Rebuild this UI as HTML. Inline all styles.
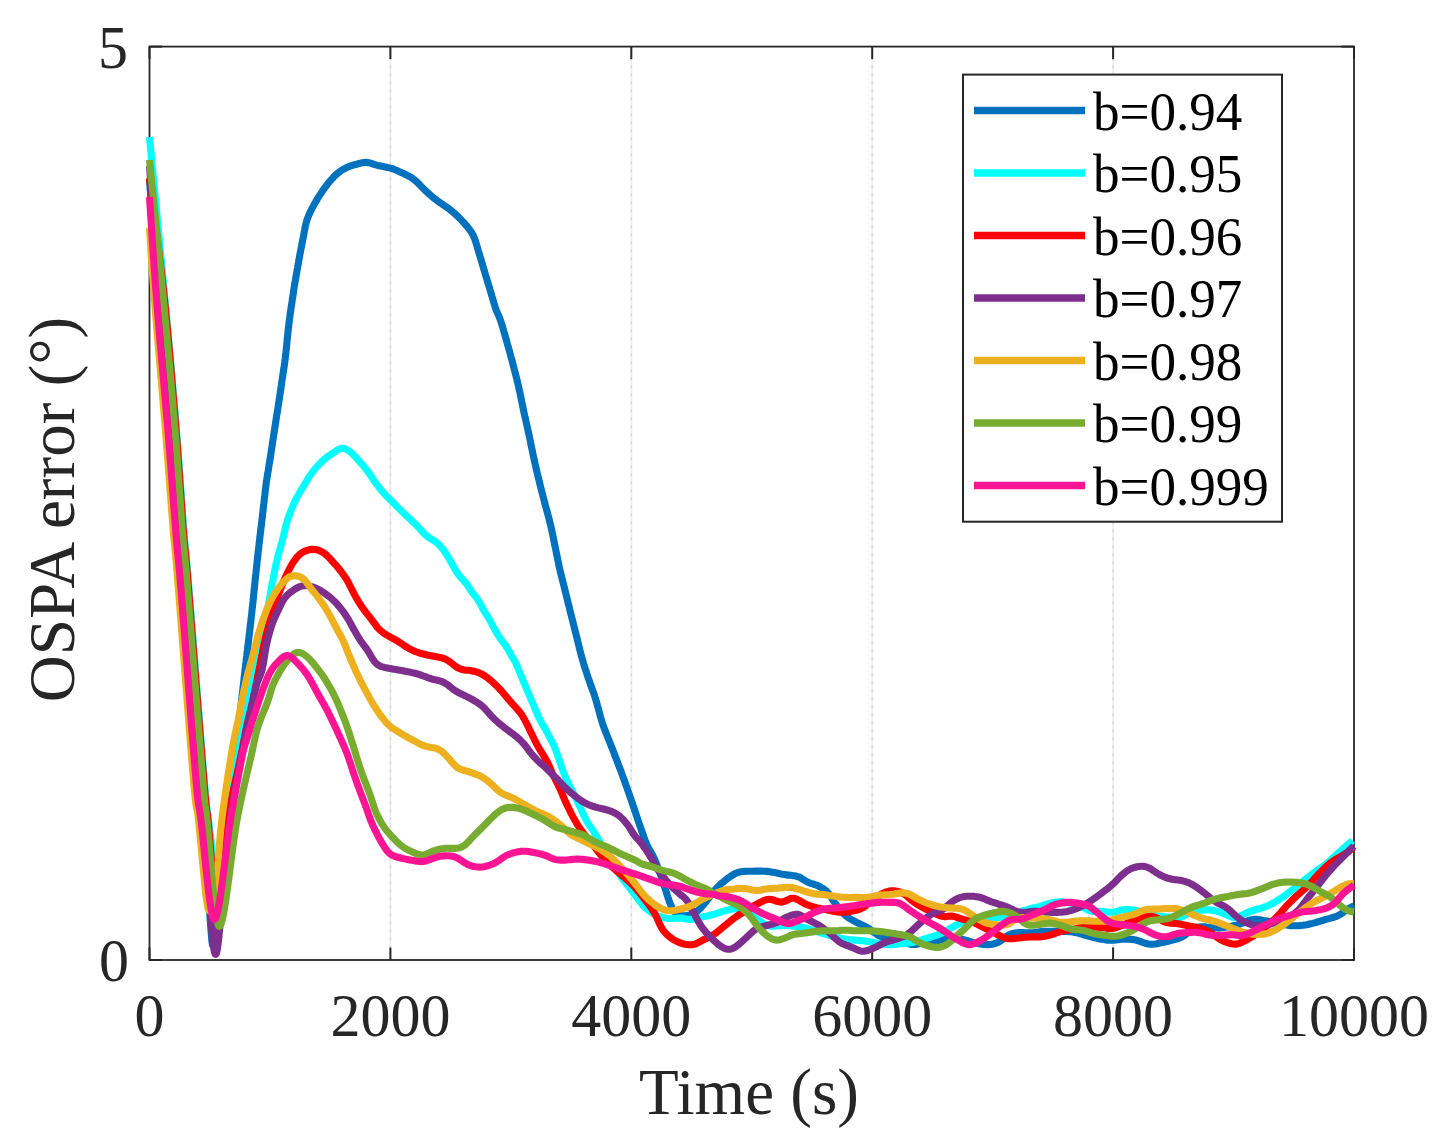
<!DOCTYPE html>
<html><head><meta charset="utf-8"><style>
html,body{margin:0;padding:0;background:#fff;}
svg{display:block;font-family:"Liberation Serif",serif;}
</style></head><body>
<svg width="1436" height="1141" viewBox="0 0 1436 1141">
<defs><clipPath id="clip"><rect x="149.5" y="46.6" width="1204.5" height="913.4"/></clipPath></defs>
<rect width="1436" height="1141" fill="#fff"/>
<line x1="390.40" y1="46.6" x2="390.40" y2="960.0" stroke="#efefef" stroke-width="2"/>
<line x1="390.40" y1="49.6" x2="390.40" y2="960.0" stroke="#d4d4d4" stroke-width="1.3" stroke-dasharray="2.4 5.6"/>
<line x1="631.30" y1="46.6" x2="631.30" y2="960.0" stroke="#efefef" stroke-width="2"/>
<line x1="631.30" y1="49.6" x2="631.30" y2="960.0" stroke="#d4d4d4" stroke-width="1.3" stroke-dasharray="2.4 5.6"/>
<line x1="872.20" y1="46.6" x2="872.20" y2="960.0" stroke="#efefef" stroke-width="2"/>
<line x1="872.20" y1="49.6" x2="872.20" y2="960.0" stroke="#d4d4d4" stroke-width="1.3" stroke-dasharray="2.4 5.6"/>
<line x1="1113.10" y1="46.6" x2="1113.10" y2="960.0" stroke="#efefef" stroke-width="2"/>
<line x1="1113.10" y1="49.6" x2="1113.10" y2="960.0" stroke="#d4d4d4" stroke-width="1.3" stroke-dasharray="2.4 5.6"/>
<rect x="149.5" y="46.6" width="1204.5" height="913.4" fill="none" stroke="#262626" stroke-width="1.8"/>
<line x1="149.50" y1="960.0" x2="149.50" y2="947.5" stroke="#262626" stroke-width="2"/>
<line x1="149.50" y1="46.6" x2="149.50" y2="59.1" stroke="#262626" stroke-width="2"/>
<line x1="390.40" y1="960.0" x2="390.40" y2="947.5" stroke="#262626" stroke-width="2"/>
<line x1="390.40" y1="46.6" x2="390.40" y2="59.1" stroke="#262626" stroke-width="2"/>
<line x1="631.30" y1="960.0" x2="631.30" y2="947.5" stroke="#262626" stroke-width="2"/>
<line x1="631.30" y1="46.6" x2="631.30" y2="59.1" stroke="#262626" stroke-width="2"/>
<line x1="872.20" y1="960.0" x2="872.20" y2="947.5" stroke="#262626" stroke-width="2"/>
<line x1="872.20" y1="46.6" x2="872.20" y2="59.1" stroke="#262626" stroke-width="2"/>
<line x1="1113.10" y1="960.0" x2="1113.10" y2="947.5" stroke="#262626" stroke-width="2"/>
<line x1="1113.10" y1="46.6" x2="1113.10" y2="59.1" stroke="#262626" stroke-width="2"/>
<line x1="1354.00" y1="960.0" x2="1354.00" y2="947.5" stroke="#262626" stroke-width="2"/>
<line x1="1354.00" y1="46.6" x2="1354.00" y2="59.1" stroke="#262626" stroke-width="2"/>
<line x1="149.5" y1="960.00" x2="162.0" y2="960.00" stroke="#262626" stroke-width="2"/>
<line x1="1354.0" y1="960.00" x2="1341.5" y2="960.00" stroke="#262626" stroke-width="2"/>
<line x1="149.5" y1="46.60" x2="162.0" y2="46.60" stroke="#262626" stroke-width="2"/>
<line x1="1354.0" y1="46.60" x2="1341.5" y2="46.60" stroke="#262626" stroke-width="2"/>
<g fill="none" stroke-width="7.1" stroke-linejoin="round" stroke-linecap="butt">
<path d="M149.50,180.00L149.58,181.00L149.65,181.99L149.73,182.99L149.80,183.99L149.87,184.99L149.95,185.98L150.02,186.98L150.10,187.98L150.17,188.97L150.25,189.97L150.32,190.97L150.39,191.97L150.47,192.96L150.54,193.96L150.61,194.96L150.69,195.96L150.76,196.95L150.83,197.95L150.91,198.95L150.98,199.95L151.06,200.94L151.13,201.94L151.20,202.94L151.28,203.93L151.35,204.93L151.42,205.93L151.50,206.93L151.57,207.92L151.64,208.92L151.72,209.92L151.79,210.92L151.86,211.91L151.94,212.91L152.01,213.91L152.09,214.90L152.16,215.90L152.23,216.90L152.31,217.90L152.38,218.89L152.45,219.89L152.53,220.89L152.60,221.89L152.68,222.88L152.75,223.88L152.82,224.88L152.90,225.87L152.97,226.87L153.05,227.87L153.12,228.87L153.19,229.86L153.27,230.86L153.34,231.86L153.42,232.86L153.49,233.85L153.57,234.85L153.64,235.85L153.71,236.84L153.79,237.84L153.86,238.84L153.94,239.84L154.01,240.83L154.09,241.83L154.16,242.83L154.24,243.82L154.31,244.82L154.39,245.82L154.46,246.82L154.54,247.81L154.61,248.81L154.69,249.81L154.76,250.80L154.84,251.80L154.91,252.80L154.99,253.80L155.07,254.79L155.14,255.79L155.22,256.79L155.29,257.78L155.37,258.78L155.44,259.78L155.52,260.78L155.60,261.77L155.67,262.77L155.75,263.77L155.83,264.76L155.90,265.76L155.98,266.76L156.05,267.76L156.13,268.75L156.21,269.75L156.29,270.75L156.36,271.74L156.44,272.74L156.52,273.74L156.59,274.73L156.67,275.73L156.75,276.73L156.83,277.73L156.90,278.72L156.98,279.72L157.06,280.72L157.14,281.71L157.22,282.71L157.30,283.71L157.37,284.70L157.45,285.70L157.53,286.70L157.61,287.69L157.69,288.69L157.77,289.69L157.85,290.69L157.93,291.68L158.01,292.68L158.09,293.68L158.17,294.67L158.25,295.67L158.33,296.67L158.41,297.66L158.49,298.66L158.57,299.66L158.65,300.65L158.73,301.65L158.82,302.65L158.90,303.64L158.98,304.64L159.06,305.64L159.15,306.63L159.23,307.63L159.31,308.63L159.40,309.62L159.48,310.62L159.56,311.62L159.65,312.61L159.73,313.61L159.81,314.60L159.90,315.60L159.98,316.60L160.07,317.59L160.15,318.59L160.24,319.59L160.32,320.58L160.41,321.58L160.49,322.58L160.58,323.57L160.67,324.57L160.75,325.56L160.84,326.56L160.92,327.56L161.01,328.55L161.10,329.55L161.18,330.55L161.27,331.54L161.36,332.54L161.44,333.53L161.53,334.53L161.62,335.53L161.70,336.52L161.79,337.52L161.88,338.52L161.97,339.51L162.05,340.51L162.14,341.50L162.23,342.50L162.32,343.50L162.40,344.49L162.49,345.49L162.58,346.49L162.67,347.48L162.75,348.48L162.84,349.47L162.93,350.47L163.02,351.47L163.11,352.46L163.19,353.46L163.28,354.45L163.37,355.45L163.46,356.45L163.55,357.44L163.64,358.44L163.73,359.43L163.81,360.43L163.90,361.43L163.99,362.42L164.08,363.42L164.17,364.41L164.26,365.41L164.35,366.41L164.43,367.40L164.52,368.40L164.61,369.40L164.70,370.39L164.79,371.39L164.88,372.38L164.97,373.38L165.05,374.38L165.14,375.37L165.23,376.37L165.32,377.36L165.41,378.36L165.50,379.36L165.59,380.35L165.67,381.35L165.76,382.34L165.85,383.34L165.94,384.34L166.03,385.33L166.12,386.33L166.21,387.32L166.29,388.32L166.38,389.32L166.47,390.31L166.56,391.31L166.65,392.30L166.73,393.30L166.82,394.30L166.91,395.29L167.00,396.29L167.09,397.29L167.17,398.28L167.26,399.28L167.35,400.27L167.44,401.27L167.52,402.27L167.61,403.26L167.70,404.26L167.78,405.25L167.87,406.25L167.96,407.25L168.05,408.24L168.13,409.24L168.22,410.24L168.30,411.23L168.39,412.23L168.48,413.22L168.56,414.22L168.65,415.22L168.73,416.21L168.82,417.21L168.90,418.21L168.99,419.20L169.08,420.20L169.16,421.20L169.24,422.19L169.33,423.19L169.41,424.19L169.50,425.18L169.58,426.18L169.66,427.17L169.75,428.17L169.83,429.17L169.91,430.16L170.00,431.16L170.08,432.16L170.16,433.15L170.24,434.15L170.32,435.15L170.41,436.14L170.49,437.14L170.57,438.14L170.65,439.13L170.73,440.13L170.81,441.13L170.89,442.12L170.97,443.12L171.05,444.12L171.13,445.11L171.21,446.11L171.29,447.11L171.37,448.11L171.45,449.10L171.53,450.10L171.61,451.10L171.69,452.09L171.77,453.09L171.84,454.09L171.92,455.08L172.00,456.08L172.08,457.08L172.16,458.07L172.24,459.07L172.31,460.07L172.39,461.07L172.47,462.06L172.55,463.06L172.62,464.06L172.70,465.05L172.78,466.05L172.85,467.05L172.93,468.04L173.01,469.04L173.08,470.04L173.16,471.04L173.24,472.03L173.31,473.03L173.39,474.03L173.47,475.02L173.54,476.02L173.62,477.02L173.69,478.01L173.77,479.01L173.85,480.01L173.92,481.01L174.00,482.00L174.07,483.00L174.15,484.00L174.22,484.99L174.30,485.99L174.38,486.99L174.45,487.99L174.53,488.98L174.60,489.98L174.68,490.98L174.75,491.97L174.83,492.97L174.90,493.97L174.98,494.97L175.06,495.96L175.13,496.96L175.21,497.96L175.28,498.95L175.36,499.95L175.43,500.95L175.51,501.95L175.59,502.94L175.66,503.94L175.74,504.94L175.81,505.93L175.89,506.93L175.97,507.93L176.04,508.93L176.12,509.92L176.19,510.92L176.27,511.92L176.35,512.91L176.43,513.91L176.50,514.91L176.58,515.91L176.66,516.90L176.73,517.90L176.81,518.90L176.89,519.89L176.97,520.89L177.05,521.89L177.13,522.88L177.21,523.88L177.29,524.88L177.37,525.87L177.45,526.87L177.53,527.87L177.61,528.86L177.69,529.86L177.77,530.86L177.85,531.85L177.94,532.85L178.02,533.85L178.10,534.84L178.19,535.84L178.27,536.84L178.36,537.83L178.45,538.83L178.54,539.82L178.63,540.82L178.73,541.82L178.82,542.81L178.92,543.81L179.02,544.80L179.13,545.80L179.24,546.79L179.35,547.78L179.45,548.78L179.56,549.77L179.66,550.77L179.76,551.76L179.86,552.76L179.95,553.75L180.05,554.75L180.14,555.74L180.23,556.74L180.32,557.74L180.41,558.73L180.50,559.73L180.59,560.72L180.67,561.72L180.76,562.72L180.85,563.71L180.93,564.71L181.02,565.71L181.10,566.70L181.19,567.70L181.27,568.70L181.35,569.69L181.44,570.69L181.52,571.68L181.60,572.68L181.68,573.68L181.77,574.67L181.85,575.67L181.93,576.67L182.01,577.66L182.09,578.66L182.17,579.66L182.25,580.65L182.33,581.65L182.41,582.65L182.49,583.65L182.57,584.64L182.65,585.64L182.73,586.64L182.81,587.63L182.89,588.63L182.97,589.63L183.05,590.62L183.13,591.62L183.21,592.62L183.29,593.61L183.36,594.61L183.44,595.61L183.52,596.60L183.60,597.60L183.68,598.60L183.75,599.60L183.83,600.59L183.91,601.59L183.99,602.59L184.07,603.58L184.14,604.58L184.22,605.58L184.30,606.57L184.38,607.57L184.45,608.57L184.53,609.57L184.61,610.56L184.69,611.56L184.76,612.56L184.84,613.55L184.92,614.55L184.99,615.55L185.07,616.54L185.15,617.54L185.23,618.54L185.30,619.54L185.38,620.53L185.46,621.53L185.53,622.53L185.61,623.52L185.69,624.52L185.76,625.52L185.84,626.51L185.92,627.51L185.99,628.51L186.07,629.51L186.15,630.50L186.22,631.50L186.30,632.50L186.38,633.49L186.45,634.49L186.53,635.49L186.61,636.49L186.68,637.48L186.76,638.48L186.84,639.48L186.92,640.47L186.99,641.47L187.07,642.47L187.15,643.46L187.22,644.46L187.30,645.46L187.38,646.46L187.45,647.45L187.53,648.45L187.61,649.45L187.68,650.44L187.76,651.44L187.84,652.44L187.91,653.44L187.99,654.43L188.07,655.43L188.14,656.43L188.22,657.42L188.30,658.42L188.37,659.42L188.45,660.41L188.53,661.41L188.60,662.41L188.68,663.41L188.76,664.40L188.83,665.40L188.91,666.40L188.99,667.39L189.06,668.39L189.14,669.39L189.22,670.39L189.29,671.38L189.37,672.38L189.45,673.38L189.52,674.37L189.60,675.37L189.68,676.37L189.75,677.36L189.83,678.36L189.91,679.36L189.99,680.36L190.06,681.35L190.14,682.35L190.22,683.35L190.29,684.34L190.37,685.34L190.45,686.34L190.52,687.33L190.60,688.33L190.68,689.33L190.76,690.33L190.83,691.32L190.91,692.32L190.99,693.32L191.07,694.31L191.14,695.31L191.22,696.31L191.30,697.30L191.38,698.30L191.45,699.30L191.53,700.30L191.61,701.29L191.69,702.29L191.76,703.29L191.84,704.28L191.92,705.28L192.00,706.28L192.07,707.27L192.15,708.27L192.23,709.27L192.31,710.27L192.38,711.26L192.46,712.26L192.54,713.26L192.62,714.25L192.70,715.25L192.78,716.25L192.85,717.24L192.93,718.24L193.01,719.24L193.09,720.23L193.17,721.23L193.25,722.23L193.32,723.23L193.40,724.22L193.48,725.22L193.56,726.22L193.64,727.21L193.72,728.21L193.80,729.21L193.88,730.20L193.95,731.20L194.03,732.20L194.11,733.19L194.19,734.19L194.27,735.19L194.35,736.19L194.43,737.18L194.51,738.18L194.59,739.18L194.67,740.17L194.75,741.17L194.83,742.17L194.91,743.16L194.99,744.16L195.07,745.16L195.15,746.15L195.23,747.15L195.31,748.15L195.39,749.14L195.47,750.14L195.55,751.14L195.64,752.13L195.72,753.13L195.80,754.13L195.88,755.12L195.96,756.12L196.04,757.12L196.13,758.11L196.21,759.11L196.29,760.11L196.37,761.10L196.46,762.10L196.54,763.10L196.62,764.09L196.71,765.09L196.79,766.09L196.87,767.08L196.96,768.08L197.04,769.07L197.13,770.07L197.21,771.07L197.30,772.06L197.39,773.06L197.47,774.06L197.56,775.05L197.65,776.05L197.73,777.04L197.82,778.04L197.91,779.04L198.00,780.03L198.09,781.03L198.19,782.02L198.28,783.02L198.37,784.02L198.47,785.01L198.57,786.01L198.67,787.00L198.77,788.00L198.87,788.99L198.97,789.99L199.08,790.98L199.19,791.97L199.30,792.97L199.42,793.96L199.53,794.95L199.66,795.95L199.78,796.94L199.92,797.93L200.05,798.92L200.20,799.91L200.36,800.90L200.53,801.88L200.72,802.86L200.93,803.84L201.18,804.81L201.49,805.76L201.87,806.69L202.24,807.61L202.53,808.57L202.76,809.54L202.94,810.53L203.09,811.52L203.23,812.51L203.35,813.50L203.46,814.49L203.57,815.49L203.67,816.48L203.77,817.48L203.86,818.47L203.95,819.47L204.04,820.46L204.12,821.46L204.21,822.46L204.29,823.45L204.36,824.45L204.44,825.45L204.51,826.45L204.59,827.44L204.66,828.44L204.73,829.44L204.80,830.43L204.87,831.43L204.94,832.43L205.01,833.43L205.08,834.43L205.14,835.42L205.21,836.42L205.27,837.42L205.34,838.42L205.40,839.41L205.47,840.41L205.53,841.41L205.59,842.41L205.65,843.41L205.72,844.40L205.78,845.40L205.84,846.40L205.90,847.40L205.96,848.40L206.02,849.40L206.08,850.39L206.14,851.39L206.20,852.39L206.26,853.39L206.32,854.39L206.38,855.38L206.44,856.38L206.49,857.38L206.55,858.38L206.61,859.38L206.67,860.38L206.73,861.37L206.78,862.37L206.84,863.37L206.90,864.37L206.95,865.37L207.01,866.37L207.07,867.37L207.13,868.36L207.18,869.36L207.24,870.36L207.30,871.36L207.35,872.36L207.41,873.36L207.47,874.35L207.52,875.35L207.58,876.35L207.63,877.35L207.69,878.35L207.75,879.35L207.80,880.34L207.86,881.34L207.92,882.34L207.97,883.34L208.03,884.34L208.09,885.34L208.14,886.33L208.20,887.33L208.26,888.33L208.31,889.33L208.37,890.33L208.43,891.33L208.48,892.32L208.54,893.32L208.60,894.32L208.66,895.32L208.71,896.32L208.77,897.32L208.83,898.31L208.89,899.31L208.95,900.31L209.01,901.31L209.06,902.31L209.12,903.31L209.18,904.30L209.24,905.30L209.30,906.30L209.36,907.30L209.43,908.30L209.49,909.30L209.55,910.29L209.61,911.29L209.68,912.29L209.74,913.29L209.81,914.29L209.87,915.28L209.94,916.28L210.00,917.28L210.07,918.28L210.14,919.27L210.22,920.27L210.29,921.27L210.36,922.27L210.44,923.26L210.52,924.26L210.60,925.26L210.68,926.25L210.76,927.25L210.84,928.25L210.92,929.24L211.00,930.24L211.08,931.24L211.16,932.23L211.24,933.23L211.33,934.23L211.41,935.22L211.49,936.22L211.58,937.22L211.66,938.21L211.75,939.21L211.85,940.20L211.95,941.20L212.06,942.19L212.18,943.19L212.32,944.18L212.51,945.16L212.93,946.02L213.43,945.22L213.71,944.26L213.94,943.28L214.14,942.30L214.30,941.32L214.45,940.33L214.59,939.34L214.71,938.35L214.83,937.35L214.94,936.36L215.05,935.36L215.16,934.37L215.26,933.38L215.36,932.38L215.45,931.39L215.55,930.39L215.64,929.39L215.73,928.40L215.83,927.40L215.92,926.41L216.00,925.41L216.09,924.41L216.18,923.42L216.26,922.42L216.35,921.43L216.43,920.43L216.52,919.43L216.60,918.44L216.69,917.44L216.77,916.44L216.85,915.45L216.94,914.45L217.02,913.45L217.10,912.46L217.19,911.46L217.27,910.46L217.35,909.47L217.43,908.47L217.52,907.47L217.60,906.48L217.68,905.48L217.77,904.48L217.85,903.49L217.93,902.49L218.02,901.50L218.10,900.50L218.19,899.50L218.27,898.51L218.36,897.51L218.44,896.51L218.53,895.52L218.62,894.52L218.71,893.52L218.79,892.53L218.88,891.53L218.97,890.54L219.07,889.54L219.16,888.55L219.25,887.55L219.35,886.55L219.44,885.56L219.54,884.56L219.64,883.57L219.74,882.57L219.84,881.58L219.94,880.58L220.04,879.59L220.15,878.59L220.25,877.60L220.36,876.61L220.47,875.61L220.58,874.62L220.68,873.62L220.79,872.63L220.90,871.64L221.01,870.64L221.12,869.65L221.23,868.65L221.34,867.66L221.45,866.67L221.56,865.67L221.68,864.68L221.79,863.68L221.90,862.69L222.01,861.70L222.13,860.70L222.24,859.71L222.35,858.72L222.47,857.72L222.58,856.73L222.70,855.74L222.81,854.74L222.93,853.75L223.04,852.76L223.16,851.76L223.27,850.77L223.39,849.78L223.50,848.78L223.62,847.79L223.73,846.80L223.85,845.80L223.97,844.81L224.08,843.82L224.20,842.82L224.31,841.83L224.43,840.84L224.55,839.84L224.66,838.85L224.78,837.86L224.90,836.86L225.01,835.87L225.13,834.88L225.25,833.88L225.36,832.89L225.48,831.90L225.59,830.90L225.71,829.91L225.83,828.92L225.94,827.92L226.06,826.93L226.17,825.94L226.29,824.95L226.41,823.95L226.52,822.96L226.64,821.97L226.75,820.97L226.87,819.98L226.98,818.98L227.09,817.99L227.21,817.00L227.32,816.00L227.43,815.01L227.55,814.02L227.66,813.02L227.77,812.03L227.88,811.04L228.00,810.04L228.11,809.05L228.22,808.05L228.33,807.06L228.44,806.07L228.54,805.07L228.65,804.08L228.76,803.08L228.87,802.09L228.98,801.10L229.08,800.10L229.19,799.11L229.30,798.11L229.40,797.12L229.51,796.12L229.61,795.13L229.72,794.14L229.82,793.14L229.93,792.15L230.03,791.15L230.14,790.16L230.24,789.16L230.34,788.17L230.45,787.17L230.55,786.18L230.66,785.18L230.76,784.19L230.86,783.20L230.97,782.20L231.07,781.21L231.18,780.21L231.28,779.22L231.38,778.22L231.49,777.23L231.59,776.23L231.70,775.24L231.80,774.24L231.91,773.25L232.01,772.26L232.12,771.26L232.23,770.27L232.33,769.27L232.44,768.28L232.55,767.28L232.66,766.29L232.77,765.30L232.88,764.30L232.99,763.31L233.10,762.31L233.21,761.32L233.33,760.33L233.44,759.33L233.56,758.34L233.67,757.35L233.79,756.35L233.91,755.36L234.03,754.37L234.15,753.38L234.28,752.38L234.41,751.39L234.53,750.40L234.67,749.41L234.80,748.42L234.94,747.43L235.08,746.44L235.22,745.45L235.37,744.46L235.51,743.47L235.67,742.48L235.82,741.49L235.98,740.51L236.14,739.52L236.30,738.53L236.46,737.55L236.62,736.56L236.79,735.57L236.96,734.59L237.12,733.60L237.29,732.61L237.45,731.63L237.61,730.64L237.77,729.65L237.93,728.67L238.09,727.68L238.25,726.69L238.40,725.70L238.55,724.71L238.69,723.72L238.84,722.73L238.98,721.74L239.11,720.75L239.25,719.76L239.38,718.77L239.51,717.78L239.64,716.79L239.77,715.80L239.89,714.81L240,713.8L240.3,711.8L240.5,709.8L240.7,707.9L241,705.9L241.2,703.9L241.4,701.9L241.7,699.9L241.9,697.9L242.1,695.9L242.4,693.9L242.6,692L242.8,690L243,688L243.2,686L243.5,684L243.7,682L243.9,680L244.1,678.1L244.4,676.1L244.6,674.1L244.8,672.1L245,670.1L245.3,668.1L245.5,666.1L245.7,664.1L246,662.2L246.2,660.2L246.4,658.2L246.7,656.2L246.9,654.2L247.1,652.2L247.4,650.2L247.6,648.3L247.9,646.3L248.1,644.3L248.3,642.3L248.6,640.3L248.8,638.3L249,636.3L249.3,634.4L249.5,632.4L249.8,630.4L250,628.4L250.2,626.4L250.5,624.4L250.7,622.4L250.9,620.4L251.1,618.5L251.4,616.5L251.6,614.5L251.8,612.5L252,610.5L252.2,608.5L252.5,606.5L252.7,604.5L252.9,602.6L253.1,600.6L253.3,598.6L253.5,596.6L253.7,594.6L253.9,592.6L254.1,590.6L254.3,588.6L254.5,586.6L254.7,584.7L254.9,582.7L255.1,580.7L255.3,578.7L255.5,576.7L255.7,574.7L256,572.7L256.2,570.7L256.4,568.7L256.6,566.7L256.8,564.8L257,562.8L257.2,560.8L257.4,558.8L257.7,556.8L257.9,554.8L258.1,552.8L258.3,550.8L258.6,548.9L258.8,546.9L259,544.9L259.2,542.9L259.5,540.9L259.7,538.9L259.9,536.9L260.2,534.9L260.4,533L260.6,531L260.9,529L261.1,527L261.4,525L261.6,523L261.8,521L262.1,519.1L262.3,517.1L262.5,515.1L262.7,513.1L263,511.1L263.2,509.1L263.4,507.1L263.6,505.1L263.9,503.2L264.1,501.2L264.3,499.2L264.5,497.2L264.8,495.2L265,493.2L265.2,491.2L265.5,489.3L265.7,487.3L266,485.3L266.2,483.3L266.5,481.3L266.8,479.3L267.1,477.4L267.4,475.4L267.7,473.4L268.1,471.4L268.4,469.5L268.7,467.5L269,465.5L269.3,463.5L269.7,461.6L270,459.6L270.3,457.6L270.6,455.6L270.9,453.7L271.2,451.7L271.5,449.7L271.8,447.7L272.1,445.8L272.4,443.8L272.7,441.8L273,439.8L273.3,437.8L273.6,435.9L273.9,433.9L274.2,431.9L274.5,429.9L274.8,428L275.1,426L275.4,424L275.7,422L276,420.1L276.3,418.1L276.6,416.1L276.9,414.1L277.3,412.2L277.6,410.2L277.9,408.2L278.2,406.2L278.5,404.2L278.8,402.3L279.1,400.3L279.4,398.3L279.7,396.3L280,394.4L280.3,392.4L280.6,390.4L280.9,388.4L281.2,386.4L281.5,384.5L281.7,382.5L282,380.5L282.3,378.5L282.6,376.6L282.9,374.6L283.2,372.6L283.5,370.6L283.8,368.6L284.1,366.7L284.4,364.7L284.7,362.7L284.9,360.7L285.2,358.7L285.4,356.8L285.7,354.8L285.9,352.8L286.1,350.8L286.3,348.8L286.5,346.8L286.7,344.8L286.9,342.8L287.1,340.8L287.3,338.9L287.5,336.9L287.7,334.9L287.9,332.9L288.1,330.9L288.3,328.9L288.6,326.9L288.8,324.9L289,322.9L289.3,321L289.5,319L289.8,317L290.1,315L290.3,313L290.6,311.1L290.9,309.1L291.2,307.1L291.5,305.1L291.8,303.1L292.1,301.2L292.3,299.2L292.7,297.2L293,295.2L293.3,293.2L293.6,291.3L293.9,289.3L294.2,287.3L294.5,285.3L294.8,283.4L295.2,281.4L295.5,279.4L295.8,277.5L296.2,275.5L296.5,273.5L296.9,271.5L297.2,269.6L297.6,267.6L297.9,265.6L298.3,263.7L298.6,261.7L299,259.7L299.3,257.8L299.7,255.8L300,253.8L300.4,251.9L300.8,249.9L301.2,247.9L301.6,246L301.9,244L302.3,242L302.7,240.1L303.1,238.1L303.5,236.2L303.9,234.2L304.2,232.2L304.6,230.3L305,228.3L305.3,226.3L305.8,224.4L306.3,222.4L306.8,220.5L307.5,218.6L308.2,216.8L308.9,214.9L309.8,213.1L310.6,211.3L311.5,209.5L312.4,207.7L313.4,206L314.3,204.2L315.3,202.5L316.3,200.7L317.4,199L318.4,197.3L319.5,195.6L320.6,193.9L321.6,192.3L322.8,190.6L323.9,189L325.1,187.4L326.3,185.8L327.5,184.2L328.8,182.6L330,181.1L331.3,179.6L332.7,178.1L334,176.6L335.5,175.2L336.9,173.9L338.5,172.6L340.1,171.4L341.7,170.3L343.4,169.3L345.2,168.3L347,167.4L348.8,166.6L350.7,165.9L352.6,165.3L354.5,164.8L356.5,164.3L358.4,163.7L360.3,163.2L362.3,162.8L364.2,162.5L366.2,162.4L368.2,162.6L370.1,163L372,163.6L373.9,164.3L375.8,164.9L377.7,165.4L379.7,165.8L381.6,166.2L383.6,166.6L385.5,167.1L387.5,167.5L389.4,167.9L391.4,168.4L393.3,169L395.1,169.7L397,170.5L398.8,171.4L400.6,172.2L402.4,173L404.2,173.8L406.1,174.7L407.9,175.6L409.6,176.5L411.3,177.5L413,178.7L414.5,179.9L416,181.2L417.5,182.6L418.9,184L420.3,185.4L421.7,186.9L423.1,188.3L424.5,189.7L425.9,191.1L427.4,192.5L428.9,193.8L430.4,195.1L431.9,196.4L433.5,197.7L435,198.9L436.6,200.1L438.2,201.4L439.8,202.5L441.5,203.7L443.1,204.8L444.8,205.9L446.4,207L448.1,208.2L449.7,209.4L451.2,210.7L452.8,211.9L454.3,213.2L455.8,214.6L457.2,215.9L458.7,217.3L460.1,218.7L461.5,220.2L462.8,221.7L464.2,223.1L465.5,224.6L466.8,226.1L468.1,227.7L469.3,229.3L470.5,230.9L471.6,232.5L472.6,234.3L473.5,236L474.3,237.9L475,239.7L475.7,241.6L476.2,243.5L476.8,245.5L477.3,247.4L477.9,249.3L478.4,251.2L479,253.1L479.6,255.1L480.2,257L480.8,258.9L481.3,260.8L481.9,262.7L482.5,264.6L483,266.5L483.6,268.5L484.2,270.4L484.8,272.3L485.3,274.2L485.9,276.1L486.5,278L487.1,280L487.6,281.9L488.2,283.8L488.8,285.7L489.4,287.6L489.9,289.5L490.5,291.5L491.1,293.4L491.6,295.3L492.2,297.2L492.8,299.1L493.3,301.1L493.9,303L494.5,304.9L495.1,306.8L495.7,308.7L496.4,310.6L497.2,312.4L498,314.2L498.8,316L499.6,317.9L500.3,319.7L500.9,321.6L501.5,323.5L502.1,325.5L502.7,327.4L503.3,329.3L503.8,331.2L504.4,333.1L504.9,335.1L505.5,337L506,338.9L506.6,340.8L507.1,342.8L507.6,344.7L508.2,346.6L508.7,348.5L509.3,350.5L509.8,352.4L510.3,354.3L510.8,356.2L511.4,358.2L511.9,360.1L512.4,362L512.9,364L513.4,365.9L513.9,367.8L514.4,369.8L514.9,371.7L515.4,373.7L515.9,375.6L516.4,377.5L516.9,379.5L517.3,381.4L517.8,383.4L518.3,385.3L518.7,387.3L519.1,389.2L519.6,391.2L520,393.1L520.4,395.1L520.8,397L521.2,399L521.6,401L522,402.9L522.4,404.9L522.8,406.8L523.2,408.8L523.6,410.8L524,412.7L524.5,414.7L524.9,416.6L525.4,418.6L525.8,420.5L526.3,422.5L526.7,424.4L527.1,426.4L527.6,428.3L528,430.3L528.4,432.2L528.8,434.2L529.3,436.1L529.7,438.1L530.1,440.1L530.5,442L530.9,444L531.3,445.9L531.7,447.9L532.1,449.8L532.5,451.8L532.9,453.8L533.3,455.7L533.7,457.7L534.2,459.6L534.6,461.6L535,463.5L535.5,465.5L535.9,467.4L536.4,469.4L536.8,471.3L537.3,473.3L537.7,475.2L538.2,477.2L538.7,479.1L539.2,481.1L539.6,483L540.1,484.9L540.6,486.9L541.1,488.8L541.6,490.8L542.1,492.7L542.6,494.6L543.1,496.6L543.6,498.5L544.1,500.4L544.6,502.4L545.1,504.3L545.6,506.2L546.2,508.2L546.7,510.1L547.2,512L547.7,513.9L548.3,515.9L548.8,517.8L549.3,519.8L549.7,521.7L550.2,523.6L550.7,525.6L551.1,527.5L551.5,529.5L552,531.4L552.4,533.4L552.8,535.4L553.2,537.3L553.6,539.3L554,541.2L554.4,543.2L554.8,545.2L555.2,547.1L555.6,549.1L556,551L556.4,553L556.8,555L557.2,556.9L557.6,558.9L558,560.8L558.4,562.8L558.8,564.8L559.2,566.7L559.6,568.7L560.1,570.6L560.5,572.6L561,574.5L561.5,576.4L562,578.4L562.5,580.3L563,582.3L563.5,584.2L564,586.1L564.5,588.1L564.9,590L565.4,591.9L565.9,593.9L566.4,595.8L566.9,597.8L567.4,599.7L567.8,601.7L568.3,603.6L568.8,605.5L569.3,607.5L569.7,609.4L570.2,611.4L570.7,613.3L571.2,615.2L571.7,617.2L572.2,619.1L572.7,621.1L573.1,623L573.6,624.9L574.1,626.9L574.6,628.8L575.1,630.8L575.6,632.7L576.1,634.6L576.6,636.6L577.1,638.5L577.5,640.5L578,642.4L578.5,644.3L579,646.3L579.4,648.2L579.9,650.2L580.4,652.1L580.9,654L581.4,656L582,657.9L582.5,659.8L583.1,661.7L583.6,663.7L584.2,665.6L584.8,667.5L585.4,669.4L586.1,671.3L586.7,673.2L587.3,675.1L587.9,677L588.6,678.9L589.2,680.8L589.9,682.7L590.5,684.6L591.2,686.4L591.9,688.3L592.6,690.2L593.3,692.1L594,694L594.6,695.8L595.2,697.7L595.8,699.7L596.4,701.6L596.9,703.5L597.4,705.4L598,707.4L598.5,709.3L599,711.2L599.5,713.2L600,715.1L600.5,717L601.1,718.9L601.7,720.9L602.3,722.8L602.9,724.7L603.6,726.5L604.3,728.4L605,730.3L605.7,732.2L606.5,734L607.2,735.9L607.9,737.7L608.7,739.6L609.4,741.4L610.2,743.3L610.9,745.2L611.6,747L612.4,748.9L613.1,750.7L613.8,752.6L614.5,754.5L615.2,756.3L616,758.2L616.7,760.1L617.4,761.9L618.1,763.8L618.8,765.7L619.5,767.5L620.3,769.4L621,771.3L621.6,773.2L622.3,775L623,776.9L623.7,778.8L624.4,780.7L625.1,782.6L625.7,784.5L626.4,786.3L627.1,788.2L627.7,790.1L628.4,792L629.1,793.9L629.7,795.8L630.4,797.7L631,799.5L631.7,801.4L632.3,803.3L633,805.2L633.6,807.1L634.3,809L634.9,810.9L635.5,812.8L636.1,814.7L636.8,816.6L637.4,818.5L638.1,820.4L638.7,822.3L639.4,824.2L640,826.1L640.7,828L641.3,829.8L642,831.7L642.7,833.6L643.3,835.5L644,837.4L644.7,839.3L645.4,841.1L646.2,843L646.9,844.8L647.8,846.6L648.7,848.4L649.7,850.1L650.7,851.9L651.7,853.6L652.7,855.3L653.6,857.1L654.4,859L655.2,860.8L656,862.6L656.7,864.5L657.4,866.4L658.2,868.2L658.9,870.1L659.6,872L660.2,873.8L660.9,875.7L661.6,877.6L662.2,879.5L662.8,881.4L663.4,883.3L664,885.2L664.6,887.1L665.3,889L665.9,890.9L666.5,892.8L667.1,894.8L667.7,896.7L668.3,898.6L669,900.5L669.7,902.3L670.4,904.2L671.2,906L672,907.8L672.9,909.6L674,911.3L675.3,912.8L676.8,914L678.5,914.9L680.4,915.4L682.4,915.7L684.4,915.7L686.3,915.5L688.3,915.2L690.2,914.7L692.1,914L693.9,913.2L695.7,912.3L697.3,911.1L698.8,909.8L700.2,908.4L701.6,907L702.9,905.5L704.2,903.9L705.5,902.4L706.7,900.8L707.9,899.2L709.1,897.6L710.3,896L711.5,894.4L712.7,892.8L713.9,891.3L715.2,889.7L716.6,888.2L717.9,886.8L719.4,885.4L720.8,884L722.3,882.7L723.9,881.4L725.4,880.2L727,878.9L728.6,877.7L730.2,876.6L731.9,875.5L733.6,874.4L735.3,873.5L737.2,872.7L739.1,872.1L741,871.7L743,871.5L745,871.4L747,871.3L749,871.2L751,871.2L753,871.2L755,871.1L757,871.1L759,871.1L761,871.1L763,871.2L765,871.2L767,871.4L769,871.6L770.9,871.9L772.9,872.2L774.9,872.6L776.8,873L778.8,873.4L780.7,873.9L782.7,874.3L784.7,874.6L786.6,874.9L788.6,875.1L790.6,875.3L792.6,875.6L794.6,875.8L796.5,876.2L798.4,876.8L800.2,877.6L801.9,878.7L803.6,879.7L805.3,880.8L807,881.8L808.8,882.6L810.7,883.3L812.6,883.9L814.5,884.5L816.4,885.2L818.2,885.9L820,886.8L821.8,887.8L823.5,888.8L825.1,890L826.6,891.3L827.9,892.7L829.2,894.3L830.3,896L831.4,897.6L832.5,899.3L833.6,901L834.7,902.6L835.9,904.2L837.1,905.8L838.3,907.4L839.5,909L840.8,910.6L842.1,912.1L843.4,913.6L844.9,914.9L846.4,916.2L848,917.4L849.7,918.5L851.4,919.5L853.1,920.5L854.9,921.4L856.7,922.4L858.4,923.3L860.2,924.1L862.1,925L863.9,925.9L865.6,926.8L867.4,927.7L869.1,928.8L870.7,929.9L872.3,931.1L873.9,932.3L875.5,933.5L877.2,934.6L878.9,935.6L880.8,936.3L882.7,936.8L884.6,937.2L886.6,937.5L888.6,937.8L890.5,938.2L892.5,938.7L894.4,939.3L896.3,939.8L898.2,940.4L900.1,941L902,941.6L903.9,942.3L905.8,942.9L907.7,943.6L909.6,944.1L911.6,944.4L913.6,944.5L915.5,944.4L917.5,944L919.4,943.5L921.4,943L923.3,942.6L925.3,942.3L927.3,942.1L929.3,941.9L931.3,941.8L933.3,941.5L935.2,941.2L937.2,940.8L939.1,940.3L941.1,939.9L943,939.4L945,939L946.9,938.6L948.9,938.3L950.9,938.2L952.9,938.2L954.9,938.3L956.9,938.4L958.9,938.7L960.8,939L962.8,939.4L964.7,939.9L966.6,940.4L968.5,941.1L970.4,941.7L972.4,942.2L974.3,942.7L976.3,943.1L978.2,943.5L980.2,943.9L982.2,944.2L984.1,944.5L986.1,944.6L988.1,944.6L990.1,944.5L992.1,944.2L994,943.8L995.9,943.2L997.8,942.4L999.5,941.5L1001.2,940.4L1002.8,939.2L1004.3,937.9L1005.9,936.7L1007.6,935.7L1009.4,934.7L1011.2,934L1013.1,933.5L1015.1,933.1L1017.1,932.8L1019.1,932.6L1021,932.5L1023,932.6L1025,932.7L1027,932.8L1029,932.9L1031,932.9L1033,932.8L1035,932.5L1037,932.2L1038.9,931.9L1040.9,931.6L1042.9,931.4L1044.9,931.3L1046.9,931.3L1048.9,931.3L1050.9,931.4L1052.9,931.4L1054.9,931.4L1056.9,931.4L1058.9,931.3L1060.9,931.3L1062.9,931.4L1064.9,931.4L1066.9,931.5L1068.9,931.7L1070.9,931.8L1072.9,932.1L1074.8,932.4L1076.8,932.8L1078.7,933.2L1080.6,933.8L1082.6,934.4L1084.5,935L1086.4,935.6L1088.3,936.1L1090.2,936.6L1092.2,937.1L1094.1,937.6L1096.1,938.1L1098,938.5L1100,939L1101.9,939.3L1103.9,939.6L1105.9,939.9L1107.9,940.1L1109.9,940.2L1111.9,940.2L1113.9,940.2L1115.9,940L1117.8,939.8L1119.8,939.5L1121.8,939.3L1123.8,939.2L1125.8,939.2L1127.8,939.1L1129.8,939.2L1131.8,939.4L1133.8,939.6L1135.7,940L1137.6,940.6L1139.5,941.2L1141.4,941.9L1143.3,942.6L1145.2,943.2L1147.1,943.7L1149.1,944.1L1151.1,944.2L1153,944.2L1155,944L1157,943.7L1159,943.3L1160.9,942.9L1162.9,942.5L1164.8,942.1L1166.8,941.6L1168.7,941L1170.6,940.5L1172.6,940L1174.5,939.5L1176.4,939L1178.4,938.5L1180.2,937.8L1182,937L1183.7,936L1185.3,934.8L1186.8,933.4L1188.3,932.1L1189.8,930.8L1191.4,929.6L1193,928.5L1194.8,927.7L1196.7,927.2L1198.7,927L1200.7,926.9L1202.7,926.9L1204.7,926.9L1206.7,927.1L1208.7,927.2L1210.7,927.5L1212.7,927.7L1214.6,927.9L1216.6,927.9L1218.6,927.9L1220.6,927.7L1222.6,927.5L1224.6,927.2L1226.6,927L1228.6,926.7L1230.5,926.4L1232.5,926L1234.5,925.6L1236.4,925.1L1238.3,924.6L1240.2,923.9L1242.1,923.2L1243.9,922.4L1245.7,921.6L1247.6,920.9L1249.5,920.2L1251.4,919.7L1253.4,919.4L1255.3,919.3L1257.3,919.4L1259.3,919.7L1261.3,920L1263.2,920.4L1265.2,920.7L1267.2,921.1L1269.1,921.5L1271.1,921.9L1273.1,922.3L1275,922.7L1277,923.1L1278.9,923.6L1280.9,924L1282.8,924.4L1284.8,924.8L1286.8,925.1L1288.7,925.4L1290.7,925.6L1292.7,925.7L1294.7,925.8L1296.7,925.7L1298.7,925.7L1300.7,925.5L1302.7,925.3L1304.7,925L1306.6,924.7L1308.6,924.3L1310.6,923.8L1312.5,923.4L1314.4,922.9L1316.4,922.3L1318.3,921.8L1320.2,921.2L1322.1,920.6L1324,920L1325.9,919.4L1327.9,918.9L1329.8,918.4L1331.7,917.8L1333.6,917.3L1335.5,916.7L1337.4,915.9L1339.2,915L1340.9,914L1342.5,912.8L1344.1,911.6L1345.7,910.4L1347.3,909.3L1349.1,908.3L1350.8,907.4L1352.6,906.5L1354,905.9" stroke="#0072BD"/>
<path d="M149.50,137.00L149.59,138.00L149.69,138.99L149.78,139.99L149.88,140.98L149.97,141.98L150.07,142.97L150.16,143.97L150.26,144.96L150.36,145.96L150.45,146.95L150.55,147.95L150.64,148.95L150.74,149.94L150.83,150.94L150.93,151.93L151.02,152.93L151.12,153.92L151.21,154.92L151.31,155.91L151.40,156.91L151.50,157.90L151.60,158.90L151.69,159.90L151.79,160.89L151.88,161.89L151.98,162.88L152.07,163.88L152.17,164.87L152.26,165.87L152.36,166.86L152.46,167.86L152.55,168.85L152.65,169.85L152.74,170.85L152.84,171.84L152.93,172.84L153.03,173.83L153.12,174.83L153.22,175.82L153.32,176.82L153.41,177.81L153.51,178.81L153.60,179.80L153.70,180.80L153.79,181.79L153.89,182.79L153.98,183.79L154.08,184.78L154.17,185.78L154.27,186.77L154.37,187.77L154.46,188.76L154.56,189.76L154.65,190.75L154.75,191.75L154.84,192.74L154.94,193.74L155.03,194.74L155.13,195.73L155.22,196.73L155.32,197.72L155.42,198.72L155.51,199.71L155.61,200.71L155.70,201.70L155.80,202.70L155.89,203.69L155.99,204.69L156.08,205.69L156.18,206.68L156.27,207.68L156.37,208.67L156.46,209.67L156.56,210.66L156.65,211.66L156.75,212.65L156.84,213.65L156.94,214.64L157.03,215.64L157.13,216.64L157.23,217.63L157.32,218.63L157.42,219.62L157.51,220.62L157.61,221.61L157.70,222.61L157.80,223.60L157.89,224.60L157.99,225.59L158.08,226.59L158.18,227.59L158.27,228.58L158.37,229.58L158.46,230.57L158.56,231.57L158.65,232.56L158.74,233.56L158.84,234.55L158.93,235.55L159.03,236.54L159.12,237.54L159.22,238.54L159.31,239.53L159.41,240.53L159.50,241.52L159.60,242.52L159.69,243.51L159.79,244.51L159.88,245.50L159.98,246.50L160.07,247.50L160.17,248.49L160.26,249.49L160.35,250.48L160.45,251.48L160.54,252.47L160.64,253.47L160.73,254.46L160.83,255.46L160.92,256.46L161.01,257.45L161.11,258.45L161.20,259.44L161.30,260.44L161.39,261.43L161.49,262.43L161.58,263.42L161.67,264.42L161.77,265.42L161.86,266.41L161.96,267.41L162.05,268.40L162.14,269.40L162.24,270.39L162.33,271.39L162.42,272.38L162.52,273.38L162.61,274.38L162.71,275.37L162.80,276.37L162.89,277.36L162.99,278.36L163.08,279.35L163.17,280.35L163.27,281.35L163.36,282.34L163.45,283.34L163.54,284.33L163.64,285.33L163.73,286.32L163.82,287.32L163.92,288.31L164.01,289.31L164.10,290.31L164.19,291.30L164.29,292.30L164.38,293.29L164.47,294.29L164.56,295.28L164.66,296.28L164.75,297.28L164.84,298.27L164.93,299.27L165.02,300.26L165.12,301.26L165.21,302.26L165.30,303.25L165.39,304.25L165.48,305.24L165.57,306.24L165.67,307.23L165.76,308.23L165.85,309.23L165.94,310.22L166.03,311.22L166.12,312.21L166.22,313.21L166.31,314.20L166.40,315.20L166.49,316.20L166.58,317.19L166.67,318.19L166.76,319.18L166.85,320.18L166.95,321.18L167.04,322.17L167.13,323.17L167.22,324.16L167.31,325.16L167.40,326.15L167.49,327.15L167.58,328.15L167.67,329.14L167.76,330.14L167.86,331.13L167.95,332.13L168.04,333.13L168.13,334.12L168.22,335.12L168.31,336.11L168.40,337.11L168.49,338.11L168.58,339.10L168.67,340.10L168.76,341.09L168.85,342.09L168.94,343.08L169.03,344.08L169.12,345.08L169.21,346.07L169.30,347.07L169.39,348.06L169.48,349.06L169.57,350.06L169.66,351.05L169.75,352.05L169.84,353.04L169.93,354.04L170.02,355.04L170.11,356.03L170.20,357.03L170.29,358.02L170.38,359.02L170.47,360.02L170.56,361.01L170.64,362.01L170.73,363.00L170.82,364.00L170.91,365.00L171.00,365.99L171.09,366.99L171.18,367.98L171.27,368.98L171.35,369.98L171.44,370.97L171.53,371.97L171.62,372.96L171.71,373.96L171.80,374.96L171.88,375.95L171.97,376.95L172.06,377.95L172.15,378.94L172.24,379.94L172.32,380.93L172.41,381.93L172.50,382.93L172.59,383.92L172.67,384.92L172.76,385.91L172.85,386.91L172.93,387.91L173.02,388.90L173.11,389.90L173.19,390.90L173.28,391.89L173.37,392.89L173.45,393.88L173.54,394.88L173.63,395.88L173.71,396.87L173.80,397.87L173.88,398.87L173.97,399.86L174.05,400.86L174.14,401.86L174.23,402.85L174.31,403.85L174.40,404.84L174.48,405.84L174.57,406.84L174.65,407.83L174.74,408.83L174.82,409.83L174.90,410.82L174.99,411.82L175.07,412.82L175.16,413.81L175.24,414.81L175.32,415.81L175.41,416.80L175.49,417.80L175.57,418.79L175.66,419.79L175.74,420.79L175.82,421.78L175.91,422.78L175.99,423.78L176.07,424.77L176.15,425.77L176.23,426.77L176.32,427.76L176.40,428.76L176.48,429.76L176.56,430.75L176.64,431.75L176.72,432.75L176.80,433.74L176.88,434.74L176.96,435.74L177.04,436.73L177.12,437.73L177.20,438.73L177.28,439.73L177.36,440.72L177.43,441.72L177.51,442.72L177.59,443.71L177.67,444.71L177.74,445.71L177.82,446.70L177.89,447.70L177.97,448.70L178.05,449.70L178.12,450.69L178.20,451.69L178.27,452.69L178.35,453.68L178.42,454.68L178.49,455.68L178.57,456.68L178.64,457.67L178.71,458.67L178.79,459.67L178.86,460.67L178.93,461.66L179.01,462.66L179.08,463.66L179.15,464.66L179.22,465.65L179.29,466.65L179.37,467.65L179.44,468.64L179.51,469.64L179.58,470.64L179.65,471.64L179.72,472.63L179.79,473.63L179.86,474.63L179.93,475.63L180.00,476.62L180.07,477.62L180.14,478.62L180.21,479.62L180.28,480.61L180.35,481.61L180.42,482.61L180.49,483.61L180.56,484.61L180.63,485.60L180.70,486.60L180.77,487.60L180.84,488.60L180.91,489.59L180.98,490.59L181.04,491.59L181.11,492.59L181.18,493.58L181.25,494.58L181.32,495.58L181.39,496.58L181.46,497.57L181.53,498.57L181.60,499.57L181.67,500.57L181.74,501.56L181.80,502.56L181.87,503.56L181.94,504.56L182.01,505.55L182.08,506.55L182.15,507.55L182.22,508.55L182.29,509.55L182.36,510.54L182.43,511.54L182.51,512.54L182.58,513.54L182.65,514.53L182.72,515.53L182.79,516.53L182.86,517.52L182.94,518.52L183.01,519.52L183.08,520.52L183.15,521.51L183.23,522.51L183.30,523.51L183.38,524.51L183.45,525.50L183.53,526.50L183.61,527.50L183.68,528.49L183.76,529.49L183.84,530.49L183.92,531.49L184.00,532.48L184.08,533.48L184.16,534.48L184.24,535.47L184.32,536.47L184.41,537.47L184.49,538.46L184.58,539.46L184.66,540.45L184.75,541.45L184.85,542.45L184.94,543.44L185.04,544.44L185.15,545.43L185.25,546.42L185.36,547.42L185.47,548.41L185.58,549.41L185.68,550.40L185.79,551.40L185.89,552.39L185.98,553.39L186.08,554.38L186.18,555.38L186.27,556.37L186.36,557.37L186.45,558.36L186.54,559.36L186.63,560.36L186.72,561.35L186.81,562.35L186.90,563.34L186.98,564.34L187.07,565.34L187.16,566.33L187.24,567.33L187.33,568.33L187.41,569.32L187.50,570.32L187.58,571.32L187.66,572.31L187.75,573.31L187.83,574.31L187.91,575.30L188.00,576.30L188.08,577.29L188.16,578.29L188.24,579.29L188.32,580.28L188.40,581.28L188.49,582.28L188.57,583.27L188.65,584.27L188.73,585.27L188.81,586.26L188.89,587.26L188.97,588.26L189.05,589.26L189.13,590.25L189.21,591.25L189.29,592.25L189.37,593.24L189.45,594.24L189.53,595.24L189.61,596.23L189.70,597.23L189.78,598.23L189.85,599.22L189.93,600.22L190.01,601.22L190.09,602.21L190.17,603.21L190.25,604.21L190.33,605.20L190.41,606.20L190.49,607.20L190.57,608.19L190.65,609.19L190.73,610.19L190.81,611.18L190.89,612.18L190.97,613.18L191.05,614.18L191.13,615.17L191.21,616.17L191.29,617.17L191.37,618.16L191.45,619.16L191.53,620.16L191.61,621.15L191.68,622.15L191.76,623.15L191.84,624.14L191.92,625.14L192.00,626.14L192.08,627.13L192.16,628.13L192.24,629.13L192.32,630.12L192.40,631.12L192.48,632.12L192.56,633.12L192.63,634.11L192.71,635.11L192.79,636.11L192.87,637.10L192.95,638.10L193.03,639.10L193.11,640.09L193.19,641.09L193.27,642.09L193.35,643.08L193.42,644.08L193.50,645.08L193.58,646.07L193.66,647.07L193.74,648.07L193.82,649.07L193.90,650.06L193.98,651.06L194.06,652.06L194.14,653.05L194.21,654.05L194.29,655.05L194.37,656.04L194.45,657.04L194.53,658.04L194.61,659.03L194.69,660.03L194.77,661.03L194.85,662.02L194.92,663.02L195.00,664.02L195.08,665.02L195.16,666.01L195.24,667.01L195.32,668.01L195.40,669.00L195.48,670.00L195.56,671.00L195.64,671.99L195.71,672.99L195.79,673.99L195.87,674.98L195.95,675.98L196.03,676.98L196.11,677.98L196.19,678.97L196.27,679.97L196.35,680.97L196.42,681.96L196.50,682.96L196.58,683.96L196.66,684.95L196.74,685.95L196.82,686.95L196.90,687.94L196.98,688.94L197.06,689.94L197.14,690.93L197.21,691.93L197.29,692.93L197.37,693.93L197.45,694.92L197.53,695.92L197.61,696.92L197.69,697.91L197.77,698.91L197.85,699.91L197.93,700.90L198.01,701.90L198.08,702.90L198.16,703.89L198.24,704.89L198.32,705.89L198.40,706.88L198.48,707.88L198.56,708.88L198.64,709.87L198.72,710.87L198.80,711.87L198.88,712.87L198.96,713.86L199.04,714.86L199.11,715.86L199.19,716.85L199.27,717.85L199.35,718.85L199.43,719.84L199.51,720.84L199.59,721.84L199.67,722.83L199.75,723.83L199.83,724.83L199.91,725.82L199.99,726.82L200.07,727.82L200.15,728.81L200.23,729.81L200.31,730.81L200.39,731.81L200.47,732.80L200.55,733.80L200.62,734.80L200.70,735.79L200.78,736.79L200.86,737.79L200.94,738.78L201.02,739.78L201.10,740.78L201.18,741.77L201.26,742.77L201.34,743.77L201.42,744.76L201.50,745.76L201.58,746.76L201.66,747.75L201.74,748.75L201.82,749.75L201.91,750.74L201.99,751.74L202.07,752.74L202.15,753.73L202.23,754.73L202.31,755.73L202.39,756.73L202.47,757.72L202.55,758.72L202.63,759.72L202.71,760.71L202.79,761.71L202.87,762.71L202.95,763.70L203.04,764.70L203.12,765.70L203.20,766.69L203.28,767.69L203.36,768.69L203.44,769.68L203.53,770.68L203.61,771.68L203.69,772.67L203.77,773.67L203.85,774.67L203.94,775.66L204.02,776.66L204.10,777.65L204.19,778.65L204.27,779.65L204.35,780.64L204.44,781.64L204.52,782.64L204.61,783.63L204.69,784.63L204.78,785.63L204.86,786.62L204.95,787.62L205.04,788.62L205.12,789.61L205.21,790.61L205.30,791.60L205.38,792.60L205.47,793.60L205.56,794.59L205.65,795.59L205.74,796.58L205.83,797.58L205.92,798.58L206.02,799.57L206.11,800.57L206.20,801.56L206.30,802.56L206.40,803.55L206.50,804.55L206.60,805.54L206.70,806.54L206.81,807.53L206.92,808.53L207.04,809.52L207.16,810.51L207.29,811.50L207.43,812.49L207.59,813.48L207.75,814.47L207.92,815.45L208.06,816.44L208.20,817.43L208.32,818.43L208.43,819.42L208.55,820.41L208.66,821.41L208.77,822.40L208.89,823.39L209.01,824.39L209.13,825.38L209.26,826.37L209.39,827.36L209.52,828.35L209.65,829.34L209.78,830.34L209.92,831.33L210.05,832.32L210.18,833.31L210.31,834.30L210.44,835.29L210.57,836.28L210.69,837.28L210.80,838.27L210.92,839.26L211.03,840.26L211.13,841.25L211.23,842.25L211.33,843.24L211.43,844.24L211.52,845.23L211.61,846.23L211.68,847.23L211.76,848.22L211.82,849.22L211.89,850.22L211.95,851.22L212.01,852.22L212.07,853.21L212.12,854.21L212.18,855.21L212.23,856.21L212.28,857.21L212.33,858.21L212.39,859.21L212.44,860.20L212.49,861.20L212.54,862.20L212.59,863.20L212.64,864.20L212.69,865.20L212.74,866.20L212.79,867.20L212.85,868.19L212.90,869.19L212.96,870.19L213.01,871.19L213.07,872.19L213.13,873.19L213.20,874.18L213.26,875.18L213.33,876.18L213.41,877.18L213.49,878.17L213.57,879.17L213.66,880.17L213.77,881.16L213.89,882.15L214.03,883.14L214.21,884.13L214.54,885.06L215.26,884.85L215.63,883.92L215.91,882.96L216.15,881.99L216.37,881.02L216.57,880.04L216.76,879.06L216.95,878.07L217.12,877.09L217.30,876.10L217.47,875.12L217.63,874.13L217.80,873.15L217.96,872.16L218.12,871.17L218.28,870.19L218.44,869.20L218.61,868.21L218.77,867.23L218.93,866.24L219.09,865.25L219.26,864.27L219.43,863.28L219.60,862.29L219.77,861.31L219.94,860.33L220.12,859.34L220.29,858.36L220.46,857.37L220.63,856.39L220.80,855.40L220.97,854.41L221.13,853.43L221.29,852.44L221.46,851.45L221.62,850.47L221.78,849.48L221.94,848.49L222.10,847.51L222.25,846.52L222.41,845.53L222.57,844.54L222.73,843.55L222.88,842.57L223.04,841.58L223.19,840.59L223.35,839.60L223.50,838.62L223.66,837.63L223.81,836.64L223.96,835.65L224.12,834.66L224.27,833.68L224.43,832.69L224.58,831.70L224.73,830.71L224.89,829.72L225.04,828.73L225.19,827.75L225.35,826.76L225.50,825.77L225.65,824.78L225.81,823.79L225.96,822.81L226.12,821.82L226.27,820.83L226.42,819.84L226.58,818.85L226.74,817.87L226.89,816.88L227.05,815.89L227.21,814.90L227.36,813.92L227.52,812.93L227.68,811.94L227.84,810.95L228.01,809.97L228.17,808.98L228.33,807.99L228.49,807.01L228.66,806.02L228.82,805.03L228.98,804.05L229.15,803.06L229.31,802.07L229.47,801.09L229.64,800.10L229.80,799.12L229.97,798.13L230.13,797.14L230.30,796.16L230.46,795.17L230.63,794.18L230.80,793.20L230.96,792.21L231.13,791.23L231.30,790.24L231.47,789.25L231.64,788.27L231.81,787.28L231.98,786.30L232.15,785.31L232.32,784.33L232.49,783.34L232.67,782.36L232.84,781.37L233.02,780.39L233.19,779.41L233.37,778.42L233.55,777.44L233.73,776.45L233.91,775.47L234.10,774.49L234.28,773.50L234.47,772.52L234.67,771.54L234.86,770.56L235.07,769.58L235.27,768.60L235.48,767.63L235.69,766.65L235.90,765.67L236.12,764.69L236.33,763.72L236.55,762.74L236.77,761.77L236.99,760.79L237.20,759.81L237.41,758.84L237.62,757.86L237.82,756.88L238.02,755.90L238.22,754.92L238.41,753.94L238.60,752.95L238.79,751.97L238.97,750.99L239.15,750.01L239.33,749.02L239.50,748.04L239.68,747.05L239.85,746.07L240,745.1L240.4,743.1L240.7,741.1L241,739.2L241.4,737.2L241.7,735.2L242,733.3L242.4,731.3L242.7,729.3L243.1,727.3L243.4,725.4L243.8,723.4L244.2,721.4L244.5,719.5L244.9,717.5L245.3,715.6L245.7,713.6L246.1,711.6L246.5,709.7L246.9,707.7L247.3,705.8L247.7,703.8L248.1,701.8L248.5,699.9L248.9,697.9L249.4,696L249.8,694L250.2,692.1L250.7,690.1L251.1,688.2L251.5,686.2L252,684.3L252.4,682.3L252.9,680.4L253.3,678.4L253.7,676.5L254.2,674.5L254.6,672.6L255.1,670.6L255.5,668.7L256,666.7L256.4,664.8L256.9,662.8L257.3,660.9L257.8,658.9L258.2,657L258.7,655L259.1,653.1L259.6,651.1L260,649.2L260.4,647.2L260.9,645.3L261.3,643.3L261.7,641.3L262.1,639.4L262.5,637.4L262.9,635.5L263.3,633.5L263.6,631.5L264,629.6L264.4,627.6L264.7,625.6L265.1,623.7L265.4,621.7L265.8,619.7L266.1,617.8L266.5,615.8L266.8,613.8L267.2,611.8L267.5,609.9L267.9,607.9L268.2,605.9L268.6,604L268.9,602L269.3,600L269.6,598.1L270,596.1L270.3,594.1L270.7,592.2L271,590.2L271.4,588.2L271.7,586.3L272.1,584.3L272.5,582.3L272.8,580.4L273.2,578.4L273.6,576.4L274,574.5L274.3,572.5L274.7,570.5L275.1,568.6L275.5,566.6L275.9,564.7L276.4,562.7L276.8,560.8L277.3,558.8L277.8,556.9L278.3,554.9L278.8,553L279.4,551.1L279.9,549.2L280.5,547.2L281,545.3L281.6,543.4L282.1,541.5L282.6,539.5L283.1,537.6L283.6,535.6L284,533.7L284.4,531.7L284.9,529.8L285.3,527.9L285.8,525.9L286.3,524L286.9,522.1L287.5,520.1L288.1,518.2L288.8,516.4L289.5,514.5L290.2,512.6L290.9,510.8L291.6,508.9L292.4,507.1L293.2,505.2L294,503.4L294.9,501.6L295.7,499.8L296.6,498L297.6,496.2L298.6,494.5L299.6,492.8L300.6,491.1L301.7,489.4L302.7,487.6L303.7,485.9L304.7,484.2L305.7,482.5L306.8,480.8L307.8,479L308.9,477.3L309.9,475.7L311.1,474L312.2,472.4L313.4,470.8L314.7,469.2L316,467.7L317.3,466.2L318.7,464.8L320.1,463.3L321.5,461.9L322.9,460.5L324.4,459.2L326,457.9L327.6,456.7L329.2,455.6L330.9,454.5L332.6,453.4L334.2,452.3L335.8,451.1L337.5,450L339.2,449L341,448.4L342.9,448.3L344.8,448.7L346.6,449.5L348.3,450.5L349.9,451.6L351.4,452.9L352.9,454.3L354.3,455.7L355.7,457.2L357,458.7L358.4,460.1L359.7,461.6L361,463.1L362.3,464.6L363.6,466.2L364.9,467.7L366.1,469.3L367.3,470.9L368.5,472.5L369.7,474.1L370.8,475.8L371.9,477.4L373,479.1L374.1,480.8L375.3,482.4L376.4,484L377.7,485.6L378.9,487.2L380.2,488.7L381.4,490.3L382.7,491.8L384,493.3L385.4,494.8L386.7,496.3L388.1,497.7L389.5,499.1L390.9,500.5L392.4,501.9L393.8,503.3L395.2,504.7L396.6,506.2L398,507.6L399.4,509L400.9,510.4L402.3,511.8L403.7,513.2L405.1,514.6L406.6,516L408.1,517.3L409.6,518.7L411,520L412.5,521.4L414,522.7L415.4,524.1L416.8,525.5L418.2,527L419.5,528.5L420.8,530L422.2,531.5L423.5,533L424.9,534.4L426.4,535.7L428,536.9L429.6,538L431.3,539.1L433.1,540.1L434.8,541.1L436.4,542.3L437.9,543.6L439.3,545L440.6,546.5L441.9,548L443.1,549.6L444.3,551.2L445.5,552.9L446.6,554.5L447.7,556.2L448.7,557.9L449.7,559.6L450.7,561.4L451.7,563.1L452.6,564.9L453.6,566.6L454.5,568.4L455.5,570.1L456.6,571.8L457.7,573.5L458.9,575.1L460.2,576.6L461.5,578.1L462.8,579.6L464.2,581.1L465.5,582.6L466.8,584.1L467.9,585.8L469,587.4L470,589.1L471.1,590.8L472.3,592.4L473.5,594L474.8,595.6L476,597.1L477.2,598.8L478.3,600.4L479.3,602.1L480.3,603.9L481.2,605.6L482.2,607.4L483.1,609.2L484,610.9L485.1,612.6L486.2,614.3L487.3,615.9L488.4,617.6L489.4,619.4L490.3,621.1L491.3,622.9L492.2,624.6L493.1,626.4L494.1,628.2L495.1,629.9L496,631.7L497,633.4L498.1,635.1L499.2,636.8L500.3,638.4L501.5,640L502.7,641.7L503.9,643.2L505.1,644.8L506.2,646.5L507.4,648.1L508.4,649.8L509.3,651.6L510.2,653.4L511.1,655.2L512.1,656.9L513.2,658.5L514.3,660.2L515.3,661.9L516.1,663.7L516.9,665.6L517.7,667.4L518.5,669.3L519.2,671.1L520,673L520.7,674.8L521.5,676.7L522.2,678.5L523,680.4L523.8,682.2L524.6,684L525.4,685.9L526.1,687.7L526.9,689.6L527.7,691.4L528.5,693.2L529.3,695.1L530.1,696.9L530.9,698.8L531.6,700.6L532.4,702.4L533.2,704.3L534,706.1L534.7,708L535.5,709.8L536.3,711.7L537.1,713.5L537.9,715.3L538.7,717.1L539.6,718.9L540.5,720.7L541.4,722.5L542.4,724.3L543.4,726L544.5,727.7L545.5,729.4L546.5,731.1L547.4,732.9L548.3,734.6L549.2,736.4L550.1,738.2L551,740L552,741.8L552.9,743.6L553.8,745.4L554.6,747.2L555.4,749L556.1,750.9L556.8,752.8L557.4,754.7L558,756.5L558.7,758.4L559.3,760.3L560,762.2L560.6,764.1L561.3,766L561.9,767.9L562.6,769.8L563.3,771.7L564,773.5L564.8,775.4L565.5,777.2L566.3,779.1L567.1,780.9L568,782.7L568.9,784.5L569.9,786.2L570.8,788L571.7,789.8L572.7,791.5L573.6,793.3L574.4,795.1L575.3,796.9L576.2,798.7L577,800.5L577.9,802.3L578.7,804.2L579.5,806L580.4,807.8L581.2,809.6L582,811.4L582.9,813.2L583.7,815.1L584.6,816.9L585.5,818.6L586.4,820.4L587.4,822.2L588.4,823.9L589.6,825.5L590.7,827.2L591.9,828.8L593,830.5L594.1,832.1L595.1,833.8L596.2,835.5L597.2,837.3L598.2,839L599.2,840.7L600.2,842.4L601.3,844.1L602.3,845.9L603.3,847.6L604.3,849.3L605.3,851L606.3,852.8L607.4,854.5L608.4,856.2L609.4,857.9L610.4,859.7L611.4,861.4L612.4,863.1L613.4,864.8L614.5,866.5L615.5,868.3L616.5,870L617.6,871.7L618.7,873.3L619.8,875L621,876.6L622.1,878.2L623.3,879.8L624.6,881.4L625.8,883L627,884.6L628.2,886.2L629.5,887.7L630.7,889.3L631.9,890.9L633.1,892.5L634.3,894.1L635.5,895.7L636.7,897.3L637.9,898.9L639.1,900.5L640.3,902.1L641.5,903.7L642.8,905.2L644.1,906.7L645.6,908.1L647.1,909.3L648.7,910.5L650.3,911.7L652,912.9L653.7,913.9L655.4,914.9L657.2,915.7L659.1,916.4L661,917L662.9,917.6L664.9,918L666.8,918.3L668.8,918.5L670.8,918.5L672.8,918.4L674.8,918.3L676.8,918.2L678.8,918.1L680.8,918.1L682.8,918.3L684.7,918.7L686.7,919.1L688.6,919.4L690.6,919.5L692.6,919.3L694.5,918.9L696.5,918.4L698.4,917.9L700.3,917.4L702.3,917L704.2,916.6L706.2,916.2L708.2,915.7L710.1,915.3L712,914.8L714,914.3L715.9,913.7L717.8,913L719.7,912.4L721.5,911.7L723.4,911.1L725.4,910.6L727.3,910.1L729.3,909.6L731.2,909.2L733.2,908.9L735.2,908.8L737.2,908.9L739.1,909.1L741.1,909.6L743,910.2L744.8,910.9L746.6,911.8L748.3,912.9L750,914L751.6,915.1L753.2,916.3L754.8,917.5L756.4,918.7L758.1,919.8L759.7,921L761.4,922.1L763,923.2L764.7,924.2L766.5,925.1L768.4,925.7L770.3,926.1L772.3,926.2L774.3,926.1L776.3,926L778.3,925.9L780.3,925.8L782.3,925.8L784.3,925.7L786.3,925.7L788.3,925.8L790.3,925.8L792.3,925.9L794.3,926.1L796.3,926.2L798.3,926.5L800.2,926.8L802.2,927.2L804.1,927.7L806.1,928.2L808,928.8L809.9,929.4L811.8,930L813.7,930.6L815.6,931.2L817.5,931.8L819.4,932.4L821.3,933L823.2,933.6L825.2,934.1L827.1,934.7L829,935.3L830.9,935.9L832.8,936.4L834.8,936.9L836.7,937.4L838.7,937.8L840.6,938.3L842.6,938.6L844.5,939L846.5,939.3L848.5,939.5L850.5,939.7L852.5,939.9L854.5,940.1L856.5,940.3L858.5,940.4L860.5,940.6L862.4,940.8L864.4,941L866.4,941.2L868.4,941.5L870.4,941.9L872.3,942.2L874.3,942.7L876.2,943.1L878.2,943.4L880.2,943.7L882.2,944L884.1,944.3L886.1,944.5L888.1,944.6L890.1,944.6L892.1,944.6L894.1,944.4L896.1,944.2L898.1,944L900.1,943.8L902.1,943.6L904.1,943.4L906.1,943.2L908,943.1L910,942.8L912,942.5L914,942.1L915.9,941.6L917.8,941.1L919.7,940.5L921.6,939.9L923.5,939.3L925.4,938.7L927.4,938.1L929.3,937.5L931.2,936.9L933.1,936.3L935,935.7L936.9,935.1L938.8,934.4L940.6,933.6L942.4,932.7L944.2,931.8L945.9,930.8L947.7,929.9L949.4,928.9L951.2,927.9L952.9,927L954.7,926L956.5,925.1L958.3,924.3L960.1,923.4L962,922.7L963.8,922.1L965.8,921.6L967.7,921.1L969.7,920.8L971.7,920.5L973.6,920.2L975.6,919.9L977.6,919.7L979.6,919.5L981.6,919.4L983.6,919.2L985.6,919L987.6,918.8L989.6,918.7L991.6,918.5L993.5,918.3L995.5,918L997.5,917.7L999.5,917.4L1001.4,917L1003.4,916.6L1005.4,916.1L1007.3,915.7L1009.2,915.1L1011.1,914.6L1013,914L1015,913.4L1016.9,912.8L1018.8,912.2L1020.7,911.6L1022.6,911L1024.5,910.4L1026.4,909.9L1028.4,909.3L1030.3,908.8L1032.2,908.3L1034.2,907.8L1036.1,907.4L1038.1,906.9L1040,906.4L1041.9,905.8L1043.8,905.2L1045.7,904.6L1047.6,904L1049.6,903.5L1051.5,903L1053.5,902.6L1055.4,902.3L1057.4,902.1L1059.4,901.9L1061.4,901.9L1063.4,901.9L1065.4,902.2L1067.3,902.5L1069.3,902.9L1071.2,903.4L1073.2,904L1075.1,904.5L1077,905.1L1078.9,905.8L1080.8,906.4L1082.6,907.2L1084.4,908L1086.1,909L1087.8,910L1089.6,910.8L1091.4,911.3L1093.4,911.4L1095.4,911.4L1097.4,911.4L1099.4,911.3L1101.4,911.4L1103.4,911.6L1105.4,911.8L1107.4,912.1L1109.3,912.3L1111.3,912.3L1113.3,912.1L1115.3,911.7L1117.2,911.2L1119.1,910.7L1121,910.1L1123,909.8L1125,909.6L1126.9,909.5L1128.9,909.6L1130.9,909.7L1132.9,910L1134.9,910.3L1136.8,910.8L1138.7,911.3L1140.7,911.9L1142.6,912.5L1144.5,913.1L1146.4,913.6L1148.3,914.1L1150.3,914.6L1152.3,915L1154.2,915.3L1156.2,915.7L1158.2,915.9L1160.2,916.2L1162.1,916.4L1164.1,916.6L1166.1,916.7L1168.1,917L1170.1,917.2L1172.1,917.6L1174,917.9L1176,918L1178,918L1179.9,917.6L1181.8,916.9L1183.6,916L1185.3,915L1187,914.1L1188.8,913.2L1190.6,912.4L1192.5,911.8L1194.5,911.3L1196.4,910.9L1198.4,910.6L1200.4,910.3L1202.4,910.1L1204.4,910L1206.4,909.9L1208.4,909.9L1210.4,910L1212.3,910.2L1214.3,910.6L1216.3,911.1L1218.2,911.6L1220.1,912.2L1222,912.9L1223.8,913.6L1225.7,914.3L1227.5,915.2L1229.3,916L1231.2,916.8L1233,917.4L1234.9,917.7L1236.8,917.4L1238.6,916.8L1240.4,915.9L1242.2,915L1244,914.1L1245.8,913.2L1247.6,912.4L1249.5,911.6L1251.3,911L1253.2,910.3L1255.2,909.8L1257.1,909.3L1259,908.8L1260.9,908.2L1262.8,907.6L1264.7,907L1266.6,906.2L1268.4,905.4L1270.2,904.6L1272,903.7L1273.8,902.7L1275.5,901.7L1277.2,900.7L1278.9,899.6L1280.6,898.5L1282.2,897.4L1283.9,896.3L1285.5,895.1L1287.1,893.9L1288.7,892.7L1290.3,891.5L1291.9,890.2L1293.4,889L1295,887.7L1296.5,886.5L1298.1,885.2L1299.6,884L1301.2,882.7L1302.7,881.4L1304.3,880.2L1305.9,878.9L1307.4,877.7L1309,876.4L1310.5,875.2L1312.1,873.9L1313.7,872.7L1315.3,871.6L1317,870.4L1318.6,869.3L1320.3,868.2L1322,867.1L1323.6,865.9L1325.2,864.7L1326.7,863.5L1328.3,862.2L1329.8,860.9L1331.2,859.5L1332.7,858.2L1334.2,856.8L1335.6,855.4L1337.1,854.1L1338.6,852.7L1340.1,851.4L1341.6,850.1L1343.1,848.8L1344.6,847.5L1346.1,846.1L1347.6,844.8L1349.1,843.5L1350.6,842.2L1352.1,840.9L1352.5,840.5" stroke="#00FFFF"/>
<path d="M149.50,178.00L149.62,178.99L149.75,179.98L149.87,180.98L150.00,181.97L150.12,182.96L150.25,183.95L150.37,184.95L150.50,185.94L150.63,186.93L150.75,187.92L150.88,188.91L151.01,189.90L151.14,190.90L151.26,191.89L151.39,192.88L151.52,193.87L151.65,194.86L151.78,195.86L151.90,196.85L152.03,197.84L152.16,198.83L152.29,199.82L152.42,200.81L152.55,201.81L152.67,202.80L152.80,203.79L152.93,204.78L153.06,205.77L153.19,206.76L153.31,207.76L153.44,208.75L153.57,209.74L153.70,210.73L153.83,211.72L153.95,212.72L154.08,213.71L154.21,214.70L154.34,215.69L154.47,216.68L154.59,217.67L154.72,218.67L154.85,219.66L154.98,220.65L155.10,221.64L155.23,222.63L155.36,223.63L155.48,224.62L155.61,225.61L155.74,226.60L155.86,227.59L155.99,228.59L156.12,229.58L156.24,230.57L156.37,231.56L156.49,232.55L156.62,233.55L156.75,234.54L156.87,235.53L157.00,236.52L157.12,237.51L157.25,238.51L157.37,239.50L157.50,240.49L157.62,241.48L157.75,242.47L157.87,243.47L157.99,244.46L158.12,245.45L158.24,246.44L158.36,247.44L158.49,248.43L158.61,249.42L158.73,250.41L158.86,251.41L158.98,252.40L159.10,253.39L159.22,254.38L159.35,255.38L159.47,256.37L159.59,257.36L159.71,258.35L159.83,259.35L159.95,260.34L160.07,261.33L160.19,262.32L160.31,263.32L160.43,264.31L160.55,265.30L160.67,266.30L160.79,267.29L160.91,268.28L161.03,269.27L161.14,270.27L161.26,271.26L161.38,272.25L161.50,273.25L161.61,274.24L161.73,275.23L161.85,276.23L161.96,277.22L162.08,278.21L162.19,279.21L162.31,280.20L162.42,281.19L162.54,282.19L162.65,283.18L162.76,284.17L162.88,285.17L162.99,286.16L163.10,287.15L163.21,288.15L163.32,289.14L163.43,290.14L163.54,291.13L163.65,292.12L163.76,293.12L163.87,294.11L163.98,295.11L164.08,296.10L164.19,297.10L164.30,298.09L164.40,299.08L164.51,300.08L164.61,301.07L164.72,302.07L164.82,303.06L164.92,304.06L165.03,305.05L165.13,306.05L165.23,307.04L165.33,308.04L165.43,309.03L165.53,310.03L165.63,311.02L165.73,312.02L165.83,313.01L165.93,314.01L166.03,315.00L166.13,316.00L166.22,316.99L166.32,317.99L166.42,318.98L166.52,319.98L166.61,320.97L166.71,321.97L166.80,322.96L166.90,323.96L166.99,324.95L167.09,325.95L167.18,326.95L167.28,327.94L167.37,328.94L167.47,329.93L167.56,330.93L167.65,331.92L167.75,332.92L167.84,333.91L167.93,334.91L168.02,335.91L168.11,336.90L168.21,337.90L168.30,338.89L168.39,339.89L168.48,340.89L168.57,341.88L168.66,342.88L168.75,343.87L168.84,344.87L168.93,345.86L169.02,346.86L169.11,347.86L169.20,348.85L169.29,349.85L169.37,350.85L169.46,351.84L169.55,352.84L169.64,353.83L169.73,354.83L169.81,355.83L169.90,356.82L169.99,357.82L170.08,358.81L170.16,359.81L170.25,360.81L170.34,361.80L170.42,362.80L170.51,363.80L170.59,364.79L170.68,365.79L170.77,366.78L170.85,367.78L170.94,368.78L171.02,369.77L171.11,370.77L171.19,371.77L171.28,372.76L171.36,373.76L171.45,374.76L171.53,375.75L171.62,376.75L171.70,377.74L171.78,378.74L171.87,379.74L171.95,380.73L172.03,381.73L172.12,382.73L172.20,383.72L172.28,384.72L172.37,385.72L172.45,386.71L172.53,387.71L172.62,388.71L172.70,389.70L172.78,390.70L172.86,391.70L172.95,392.69L173.03,393.69L173.11,394.69L173.19,395.68L173.28,396.68L173.36,397.68L173.44,398.67L173.52,399.67L173.60,400.67L173.69,401.66L173.77,402.66L173.85,403.66L173.93,404.65L174.01,405.65L174.09,406.65L174.18,407.64L174.26,408.64L174.34,409.64L174.42,410.63L174.50,411.63L174.58,412.63L174.66,413.62L174.75,414.62L174.83,415.62L174.91,416.61L174.99,417.61L175.07,418.61L175.15,419.60L175.23,420.60L175.31,421.60L175.40,422.59L175.48,423.59L175.56,424.59L175.64,425.58L175.72,426.58L175.80,427.58L175.88,428.57L175.96,429.57L176.05,430.57L176.13,431.56L176.21,432.56L176.29,433.56L176.37,434.55L176.45,435.55L176.53,436.55L176.61,437.54L176.69,438.54L176.76,439.54L176.84,440.53L176.92,441.53L177.00,442.53L177.07,443.53L177.15,444.52L177.23,445.52L177.30,446.52L177.38,447.51L177.46,448.51L177.53,449.51L177.61,450.51L177.68,451.50L177.76,452.50L177.83,453.50L177.91,454.49L177.98,455.49L178.05,456.49L178.13,457.49L178.20,458.48L178.27,459.48L178.35,460.48L178.42,461.48L178.49,462.47L178.56,463.47L178.64,464.47L178.71,465.46L178.78,466.46L178.85,467.46L178.92,468.46L178.99,469.45L179.07,470.45L179.14,471.45L179.21,472.45L179.28,473.44L179.35,474.44L179.42,475.44L179.49,476.44L179.56,477.43L179.63,478.43L179.70,479.43L179.77,480.43L179.84,481.42L179.91,482.42L179.98,483.42L180.05,484.42L180.12,485.42L180.19,486.41L180.25,487.41L180.32,488.41L180.39,489.41L180.46,490.40L180.53,491.40L180.60,492.40L180.67,493.40L180.74,494.39L180.81,495.39L180.88,496.39L180.95,497.39L181.01,498.38L181.08,499.38L181.15,500.38L181.22,501.38L181.29,502.37L181.36,503.37L181.43,504.37L181.50,505.37L181.57,506.36L181.64,507.36L181.71,508.36L181.78,509.36L181.85,510.35L181.92,511.35L181.99,512.35L182.06,513.35L182.13,514.34L182.21,515.34L182.28,516.34L182.35,517.34L182.42,518.33L182.49,519.33L182.57,520.33L182.64,521.33L182.71,522.32L182.79,523.32L182.86,524.32L182.94,525.32L183.01,526.31L183.09,527.31L183.17,528.31L183.25,529.30L183.32,530.30L183.40,531.30L183.48,532.29L183.56,533.29L183.64,534.29L183.72,535.28L183.81,536.28L183.89,537.28L183.97,538.27L184.06,539.27L184.15,540.27L184.24,541.26L184.33,542.26L184.42,543.25L184.52,544.25L184.63,545.24L184.73,546.24L184.84,547.23L184.95,548.23L185.06,549.22L185.16,550.21L185.27,551.21L185.37,552.20L185.47,553.20L185.56,554.19L185.66,555.19L185.75,556.19L185.85,557.18L185.94,558.18L186.03,559.17L186.12,560.17L186.21,561.16L186.29,562.16L186.38,563.16L186.47,564.15L186.55,565.15L186.64,566.15L186.73,567.14L186.81,568.14L186.90,569.14L186.98,570.13L187.06,571.13L187.15,572.12L187.23,573.12L187.31,574.12L187.40,575.11L187.48,576.11L187.56,577.11L187.64,578.10L187.73,579.10L187.81,580.10L187.89,581.09L187.97,582.09L188.05,583.09L188.13,584.08L188.21,585.08L188.30,586.08L188.38,587.07L188.46,588.07L188.54,589.07L188.62,590.06L188.70,591.06L188.78,592.06L188.86,593.05L188.94,594.05L189.02,595.05L189.10,596.04L189.18,597.04L189.26,598.04L189.34,599.04L189.42,600.03L189.50,601.03L189.58,602.03L189.66,603.02L189.74,604.02L189.82,605.02L189.90,606.01L189.98,607.01L190.06,608.01L190.14,609.00L190.22,610.00L190.30,611.00L190.38,611.99L190.46,612.99L190.53,613.99L190.61,614.98L190.69,615.98L190.77,616.98L190.85,617.97L190.93,618.97L191.01,619.97L191.09,620.97L191.17,621.96L191.25,622.96L191.33,623.96L191.41,624.95L191.49,625.95L191.57,626.95L191.64,627.94L191.72,628.94L191.80,629.94L191.88,630.93L191.96,631.93L192.04,632.93L192.12,633.92L192.20,634.92L192.28,635.92L192.36,636.92L192.44,637.91L192.51,638.91L192.59,639.91L192.67,640.90L192.75,641.90L192.83,642.90L192.91,643.89L192.99,644.89L193.07,645.89L193.15,646.88L193.23,647.88L193.30,648.88L193.38,649.87L193.46,650.87L193.54,651.87L193.62,652.87L193.70,653.86L193.78,654.86L193.86,655.86L193.94,656.85L194.02,657.85L194.09,658.85L194.17,659.84L194.25,660.84L194.33,661.84L194.41,662.83L194.49,663.83L194.57,664.83L194.65,665.82L194.73,666.82L194.80,667.82L194.88,668.82L194.96,669.81L195.04,670.81L195.12,671.81L195.20,672.80L195.28,673.80L195.36,674.80L195.44,675.79L195.52,676.79L195.59,677.79L195.67,678.78L195.75,679.78L195.83,680.78L195.91,681.77L195.99,682.77L196.07,683.77L196.15,684.77L196.23,685.76L196.30,686.76L196.38,687.76L196.46,688.75L196.54,689.75L196.62,690.75L196.70,691.74L196.78,692.74L196.86,693.74L196.94,694.73L197.02,695.73L197.10,696.73L197.17,697.72L197.25,698.72L197.33,699.72L197.41,700.72L197.49,701.71L197.57,702.71L197.65,703.71L197.73,704.70L197.81,705.70L197.89,706.70L197.97,707.69L198.04,708.69L198.12,709.69L198.20,710.68L198.28,711.68L198.36,712.68L198.44,713.67L198.52,714.67L198.60,715.67L198.68,716.67L198.76,717.66L198.84,718.66L198.92,719.66L199.00,720.65L199.08,721.65L199.16,722.65L199.23,723.64L199.31,724.64L199.39,725.64L199.47,726.63L199.55,727.63L199.63,728.63L199.71,729.62L199.79,730.62L199.87,731.62L199.95,732.61L200.03,733.61L200.11,734.61L200.19,735.60L200.27,736.60L200.35,737.60L200.43,738.60L200.51,739.59L200.59,740.59L200.67,741.59L200.75,742.58L200.83,743.58L200.91,744.58L200.99,745.57L201.07,746.57L201.15,747.57L201.23,748.56L201.31,749.56L201.39,750.56L201.47,751.55L201.55,752.55L201.63,753.55L201.71,754.54L201.79,755.54L201.87,756.54L201.95,757.53L202.03,758.53L202.12,759.53L202.20,760.52L202.28,761.52L202.36,762.52L202.44,763.51L202.52,764.51L202.60,765.51L202.68,766.50L202.76,767.50L202.85,768.50L202.93,769.49L203.01,770.49L203.09,771.49L203.17,772.48L203.26,773.48L203.34,774.48L203.42,775.47L203.50,776.47L203.59,777.47L203.67,778.46L203.75,779.46L203.84,780.46L203.92,781.45L204.01,782.45L204.09,783.45L204.18,784.44L204.26,785.44L204.35,786.44L204.43,787.43L204.52,788.43L204.60,789.42L204.69,790.42L204.78,791.42L204.86,792.41L204.95,793.41L205.04,794.40L205.13,795.40L205.22,796.40L205.31,797.39L205.40,798.39L205.49,799.38L205.59,800.38L205.68,801.38L205.78,802.37L205.88,803.37L205.98,804.36L206.08,805.36L206.19,806.35L206.31,807.34L206.43,808.34L206.56,809.33L206.71,810.32L206.87,811.30L207.04,812.29L207.19,813.28L207.33,814.27L207.45,815.26L207.58,816.25L207.69,817.24L207.81,818.24L207.92,819.23L208.02,820.23L208.13,821.22L208.23,822.22L208.32,823.21L208.42,824.21L208.51,825.20L208.60,826.20L208.69,827.19L208.77,828.19L208.86,829.19L208.94,830.18L209.03,831.18L209.11,832.18L209.19,833.17L209.27,834.17L209.36,835.17L209.44,836.16L209.52,837.16L209.60,838.16L209.68,839.15L209.76,840.15L209.84,841.15L209.92,842.14L210.00,843.14L210.08,844.14L210.17,845.13L210.25,846.13L210.33,847.13L210.41,848.12L210.50,849.12L210.58,850.12L210.67,851.11L210.76,852.11L210.84,853.11L210.93,854.10L211.02,855.10L211.11,856.09L211.21,857.09L211.30,858.08L211.40,859.08L211.50,860.07L211.60,861.07L211.71,862.06L211.82,863.06L211.93,864.05L212.04,865.04L212.16,866.04L212.29,867.03L212.42,868.02L212.57,869.01L212.72,870.00L212.88,870.98L213.07,871.97L213.28,872.95L213.54,873.91L213.90,874.84L214.68,875.18L215.23,874.35L215.59,873.42L215.89,872.47L216.15,871.50L216.39,870.53L216.62,869.56L216.83,868.58L217.03,867.60L217.23,866.62L217.41,865.64L217.60,864.65L217.78,863.67L217.95,862.69L218.13,861.70L218.30,860.72L218.47,859.73L218.63,858.74L218.80,857.76L218.96,856.77L219.13,855.79L219.29,854.80L219.46,853.81L219.62,852.83L219.79,851.84L219.95,850.85L220.12,849.87L220.29,848.88L220.46,847.90L220.64,846.91L220.81,845.93L220.99,844.94L221.18,843.96L221.37,842.98L221.57,842.00L221.77,841.02L221.99,840.05L222.21,839.07L222.44,838.10L222.66,837.12L222.88,836.15L223.11,835.17L223.33,834.20L223.55,833.22L223.78,832.25L224.00,831.27L224.23,830.30L224.45,829.32L224.67,828.35L224.90,827.37L225.12,826.40L225.35,825.43L225.57,824.45L225.79,823.48L226.02,822.50L226.24,821.53L226.47,820.55L226.69,819.58L226.91,818.60L227.13,817.63L227.36,816.65L227.58,815.68L227.80,814.70L228.02,813.73L228.25,812.75L228.47,811.78L228.69,810.80L228.91,809.83L229.13,808.85L229.35,807.88L229.57,806.90L229.79,805.93L230.01,804.95L230.23,803.97L230.45,803.00L230.67,802.02L230.89,801.05L231.11,800.07L231.33,799.10L231.55,798.12L231.77,797.15L231.99,796.17L232.21,795.19L232.43,794.22L232.65,793.24L232.87,792.27L233.09,791.29L233.31,790.32L233.53,789.34L233.75,788.37L233.97,787.39L234.19,786.41L234.40,785.44L234.62,784.46L234.84,783.49L235.06,782.51L235.28,781.54L235.50,780.56L235.71,779.58L235.93,778.61L236.15,777.63L236.37,776.65L236.58,775.68L236.80,774.70L237.01,773.73L237.23,772.75L237.45,771.77L237.66,770.80L237.87,769.82L238.09,768.84L238.30,767.87L238.52,766.89L238.73,765.91L238.94,764.93L239.15,763.96L239.36,762.98L239.57,762.00L239.78,761.02L239.99,760.05L240.2,759.1L240.6,757.1L241,755.2L241.4,753.2L241.8,751.2L242.2,749.3L242.6,747.3L243,745.3L243.3,743.4L243.7,741.4L244.1,739.5L244.5,737.5L244.9,735.5L245.2,733.6L245.6,731.6L246,729.6L246.4,727.7L246.9,725.7L247.3,723.8L247.7,721.8L248.2,719.9L248.6,717.9L249.1,716L249.6,714L250.1,712.1L250.6,710.2L251.1,708.2L251.5,706.3L252,704.3L252.5,702.4L252.9,700.4L253.3,698.5L253.7,696.5L254.1,694.6L254.5,692.6L254.9,690.7L255.3,688.7L255.7,686.7L256.1,684.8L256.5,682.8L256.9,680.8L257.3,678.9L257.6,676.9L258,675L258.4,673L258.8,671L259.2,669.1L259.6,667.1L260,665.1L260.3,663.2L260.7,661.2L261.1,659.3L261.5,657.3L261.9,655.3L262.3,653.4L262.6,651.4L263,649.4L263.4,647.5L263.8,645.5L264.2,643.6L264.7,641.6L265.1,639.7L265.5,637.7L266,635.8L266.5,633.8L267,631.9L267.5,629.9L268,628L268.5,626.1L269.1,624.2L269.6,622.2L270.2,620.3L270.8,618.4L271.3,616.5L271.9,614.6L272.5,612.7L273.1,610.8L273.7,608.9L274.3,606.9L274.9,605L275.6,603.1L276.2,601.2L276.8,599.3L277.5,597.5L278.1,595.6L278.8,593.7L279.5,591.8L280.2,589.9L281,588.1L281.7,586.2L282.4,584.4L283.2,582.5L283.9,580.7L284.7,578.8L285.5,577L286.4,575.2L287.2,573.4L288.1,571.6L289,569.8L289.9,568L290.9,566.3L291.9,564.5L292.9,562.8L294,561.2L295.2,559.5L296.4,557.9L297.7,556.4L299.1,555L300.6,553.7L302.3,552.6L304,551.6L305.8,550.8L307.7,550.1L309.6,549.6L311.6,549.4L313.5,549.3L315.5,549.5L317.5,549.9L319.3,550.6L321.1,551.4L322.9,552.4L324.5,553.5L326,554.8L327.5,556.1L328.9,557.6L330.3,559L331.6,560.5L333,562L334.3,563.5L335.6,564.9L337,566.4L338.3,568L339.5,569.5L340.7,571.1L341.9,572.7L343.1,574.3L344.3,576L345.4,577.6L346.5,579.3L347.5,581L348.5,582.7L349.4,584.5L350.3,586.3L351.2,588.1L352.1,589.9L353,591.7L353.9,593.5L354.8,595.2L355.8,597L356.8,598.7L357.8,600.4L358.8,602.1L359.9,603.8L361,605.5L362.1,607.2L363.3,608.8L364.4,610.4L365.6,612L366.9,613.6L368.1,615.2L369.4,616.7L370.6,618.3L371.8,619.9L373,621.5L374.2,623.1L375.4,624.7L376.6,626.3L377.9,627.8L379.3,629.3L380.7,630.6L382.2,631.9L383.8,633.1L385.5,634.3L387.2,635.3L388.9,636.3L390.7,637.2L392.4,638.2L394.2,639.1L395.9,640.1L397.7,641.1L399.3,642.2L401,643.3L402.6,644.4L404.3,645.6L406,646.6L407.7,647.7L409.4,648.7L411.2,649.6L413,650.5L414.8,651.3L416.7,652L418.6,652.7L420.5,653.3L422.4,653.8L424.3,654.3L426.3,654.8L428.3,655.2L430.2,655.5L432.2,655.9L434.1,656.3L436.1,656.7L438.1,657.1L440,657.4L442,657.9L443.9,658.5L445.7,659.3L447.4,660.2L449.1,661.3L450.7,662.5L452.3,663.8L453.8,665L455.4,666.2L457,667.4L458.8,668.3L460.6,669.1L462.5,669.6L464.5,670L466.5,670.2L468.4,670.3L470.4,670.5L472.4,670.9L474.3,671.3L476.3,671.9L478.1,672.5L480,673.3L481.8,674.1L483.5,675.1L485.2,676.2L486.8,677.3L488.4,678.6L490,679.8L491.5,681.1L493,682.4L494.5,683.8L495.9,685.2L497.3,686.6L498.7,688L500.1,689.5L501.4,690.9L502.8,692.5L504,694L505.3,695.5L506.6,697.1L507.9,698.6L509.2,700.1L510.5,701.6L511.8,703.1L513.2,704.6L514.5,706.1L515.9,707.6L517.2,709.1L518.5,710.6L519.8,712.1L521,713.7L522.1,715.3L523.1,717.1L524.1,718.8L525.1,720.6L526,722.3L526.9,724.1L527.8,725.9L528.7,727.7L529.5,729.5L530.4,731.3L531.3,733.1L532.2,734.9L533,736.7L533.9,738.5L534.8,740.3L535.7,742.1L536.6,743.9L537.5,745.6L538.5,747.4L539.6,749.1L540.6,750.8L541.7,752.5L542.7,754.2L543.8,755.9L544.8,757.6L545.8,759.3L546.8,761L547.8,762.8L548.6,764.6L549.4,766.4L550.2,768.3L550.9,770.1L551.7,772L552.5,773.8L553.4,775.6L554.3,777.4L555.2,779.2L556.1,781L557,782.7L557.9,784.5L558.8,786.3L559.7,788.1L560.5,789.9L561.3,791.8L562.1,793.6L562.8,795.5L563.6,797.3L564.4,799.2L565.2,801L566,802.8L566.9,804.6L567.7,806.4L568.6,808.2L569.5,810L570.4,811.8L571.3,813.6L572.2,815.3L573.1,817.1L574.1,818.9L575.1,820.6L576.1,822.4L577.1,824.1L578.2,825.8L579.3,827.4L580.4,829.1L581.6,830.7L582.8,832.3L584,833.9L585.2,835.4L586.5,837L587.7,838.6L589,840.1L590.3,841.7L591.5,843.2L592.8,844.8L594,846.3L595.3,847.9L596.5,849.5L597.7,851.1L598.9,852.7L600.2,854.2L601.5,855.8L602.8,857.3L604.1,858.8L605.4,860.3L606.8,861.7L608.2,863.2L609.6,864.6L611,866L612.5,867.3L614,868.6L615.5,869.9L617,871.2L618.6,872.5L620.1,873.8L621.6,875.1L623.1,876.5L624.6,877.7L626.2,879L627.7,880.3L629.2,881.6L630.7,883L632.1,884.4L633.5,885.8L634.9,887.3L636.2,888.8L637.5,890.3L638.8,891.8L640,893.4L641.3,895L642.5,896.5L643.7,898.1L644.9,899.7L646.2,901.3L647.4,902.9L648.6,904.4L649.8,906L651,907.7L652.1,909.3L653.2,911L654.3,912.7L655.2,914.4L656.1,916.2L657,918L657.8,919.8L658.6,921.7L659.4,923.5L660.3,925.3L661.2,927.1L662.2,928.8L663.3,930.4L664.6,932L665.9,933.5L667.3,934.9L668.8,936.2L670.4,937.4L672,938.6L673.7,939.7L675.4,940.7L677.2,941.6L679,942.4L680.9,943.1L682.8,943.7L684.8,944.2L686.7,944.5L688.7,944.7L690.7,944.8L692.7,944.6L694.6,944.2L696.4,943.6L698.2,942.7L700,941.7L701.7,940.7L703.5,939.8L705.3,938.9L707.1,938.1L708.9,937.2L710.7,936.3L712.4,935.3L714.1,934.2L715.7,933.1L717.3,931.9L718.9,930.6L720.4,929.4L722,928.1L723.5,926.8L725,925.5L726.6,924.3L728.1,923L729.7,921.7L731.2,920.4L732.8,919.2L734.4,918L736,916.8L737.7,915.7L739.3,914.6L741.1,913.6L742.8,912.6L744.5,911.6L746.3,910.6L748,909.6L749.7,908.5L751.4,907.5L753.1,906.4L754.8,905.4L756.5,904.4L758.3,903.4L760,902.5L761.8,901.6L763.6,900.7L765.5,900L767.4,899.5L769.3,899.4L771.3,899.5L773.2,900L775.1,900.6L777,901.3L778.9,901.8L780.8,902.1L782.7,901.9L784.6,901.4L786.4,900.5L788.2,899.6L789.9,898.7L791.8,898.2L793.7,898.2L795.5,898.7L797.3,899.5L799.1,900.4L800.8,901.4L802.6,902.4L804.3,903.4L806.1,904.2L807.9,905L809.8,905.7L811.7,906.3L813.6,906.9L815.6,907.4L817.5,907.9L819.5,908.3L821.4,908.8L823.4,909.1L825.3,909.5L827.3,909.9L829.3,910.3L831.2,910.7L833.2,911.2L835.1,911.6L837.1,912L839.1,912.2L841,912.3L843,912.3L845,912.2L847,912L849,911.7L851,911.3L852.9,911L854.9,910.6L856.8,910.1L858.7,909.5L860.6,908.8L862.4,907.9L864.1,906.8L865.7,905.7L867.2,904.4L868.7,903.1L870.3,901.8L871.8,900.5L873.4,899.3L875,898.1L876.7,897L878.3,895.9L880,894.9L881.8,893.9L883.6,893L885.4,892.2L887.3,891.6L889.2,891.1L891.2,890.8L893.2,890.8L895.1,890.9L897.1,891.3L899,891.7L900.9,892.4L902.7,893.2L904.4,894.2L906,895.4L907.5,896.7L909,898.1L910.5,899.4L912,900.7L913.6,901.9L915.2,903L916.9,904.1L918.6,905.1L920.4,906.1L922.1,907.1L923.9,908.1L925.6,909L927.4,909.9L929.2,910.8L931,911.7L932.8,912.6L934.6,913.4L936.4,914.2L938.3,915L940.1,915.8L942,916.3L943.9,916.6L945.9,916.6L947.8,916.3L949.8,916L951.8,916.1L953.7,916.4L955.6,916.9L957.5,917.5L959.4,918.2L961.3,918.8L963.3,919.4L965.2,919.9L967.1,920.5L969,921L970.9,921.6L972.8,922.3L974.6,923.1L976.5,923.9L978.3,924.8L980.1,925.7L981.8,926.6L983.6,927.5L985.4,928.4L987.2,929.3L989,930.2L990.7,931.1L992.5,932L994.3,932.9L996.1,933.8L997.9,934.7L999.7,935.6L1001.5,936.5L1003.3,937.3L1005.2,938L1007.1,938.5L1009,938.7L1011,938.8L1013,938.6L1015,938.4L1017,938.2L1019,938L1021,937.8L1023,937.5L1025,937.3L1026.9,937.1L1028.9,937L1030.9,936.9L1032.9,936.9L1034.9,937L1036.9,937L1038.9,936.9L1040.9,936.8L1042.9,936.5L1044.9,936.2L1046.8,935.8L1048.8,935.4L1050.7,934.8L1052.6,934.3L1054.5,933.6L1056.4,932.9L1058.3,932.3L1060.2,931.6L1062.1,931L1064,930.6L1066,930.2L1067.9,929.9L1069.9,929.6L1071.9,929.3L1073.9,929L1075.8,928.6L1077.8,928.2L1079.7,927.7L1081.7,927.3L1083.7,927.1L1085.7,926.9L1087.7,926.9L1089.7,926.9L1091.7,927L1093.7,927L1095.6,927.2L1097.6,927.3L1099.6,927.4L1101.6,927.6L1103.6,927.8L1105.6,928.1L1107.6,928.4L1109.6,928.5L1111.5,928.5L1113.5,928.3L1115.4,927.8L1117.3,927.1L1119.2,926.4L1121,925.7L1122.9,924.9L1124.7,924.2L1126.6,923.4L1128.5,922.7L1130.3,921.9L1132.2,921.2L1134,920.4L1135.9,919.7L1137.7,918.9L1139.6,918.1L1141.4,917.5L1143.4,917L1145.3,916.7L1147.3,916.5L1149.3,916.4L1151.3,916.5L1153.3,916.8L1155.2,917.3L1157,918L1158.8,918.9L1160.6,919.8L1162.3,920.8L1164.1,921.7L1166,922.4L1167.9,922.8L1169.9,923.1L1171.8,923.3L1173.8,923.4L1175.8,923.5L1177.8,923.8L1179.8,924.1L1181.8,924.5L1183.7,924.9L1185.7,925.3L1187.6,925.7L1189.6,926.1L1191.6,926.4L1193.5,926.8L1195.5,927.1L1197.4,927.6L1199.4,928.1L1201.3,928.7L1203.2,929.3L1205,930.1L1206.9,930.8L1208.7,931.7L1210.4,932.7L1212.1,933.7L1213.8,934.9L1215.4,936.1L1217,937.3L1218.6,938.4L1220.3,939.5L1222,940.5L1223.8,941.3L1225.7,942L1227.6,942.7L1229.5,943.3L1231.4,943.7L1233.4,944L1235.4,944.1L1237.3,943.9L1239.2,943.3L1241.1,942.6L1242.9,941.8L1244.7,940.9L1246.5,940L1248.2,939L1249.9,938L1251.6,937L1253.3,935.9L1255,934.8L1256.7,933.7L1258.3,932.6L1260,931.4L1261.6,930.3L1263.1,929L1264.7,927.8L1266.3,926.5L1267.8,925.2L1269.3,923.9L1270.8,922.6L1272.3,921.2L1273.7,919.9L1275.2,918.5L1276.6,917.1L1278,915.6L1279.3,914.2L1280.7,912.7L1282,911.2L1283.3,909.7L1284.6,908.2L1285.9,906.7L1287.3,905.2L1288.7,903.7L1290.1,902.3L1291.5,900.9L1292.9,899.5L1294.3,898.1L1295.8,896.7L1297.2,895.4L1298.7,894L1300.3,892.7L1301.8,891.4L1303.3,890.1L1304.8,888.8L1306.3,887.4L1307.7,886.1L1309.1,884.6L1310.4,883.2L1311.8,881.7L1313.1,880.2L1314.4,878.7L1315.8,877.2L1317.1,875.7L1318.5,874.2L1319.8,872.8L1321.3,871.4L1322.7,870L1324.1,868.6L1325.6,867.2L1327,865.8L1328.6,864.5L1330.1,863.2L1331.7,862L1333.3,860.9L1335,859.8L1336.7,858.7L1338.4,857.8L1340.2,856.8L1341.9,855.8L1343.6,854.8L1345.3,853.7L1346.9,852.5L1348.5,851.3L1350.1,850.1L1351.7,848.9L1353.2,847.6L1353.6,847.3" stroke="#FF0000"/>
<path d="M149.50,166.00L149.58,167.00L149.66,167.99L149.74,168.99L149.82,169.99L149.90,170.98L149.98,171.98L150.06,172.98L150.14,173.97L150.22,174.97L150.30,175.97L150.38,176.96L150.46,177.96L150.54,178.96L150.62,179.95L150.70,180.95L150.78,181.95L150.86,182.95L150.94,183.94L151.02,184.94L151.10,185.94L151.18,186.93L151.26,187.93L151.34,188.93L151.42,189.92L151.51,190.92L151.59,191.92L151.67,192.91L151.75,193.91L151.83,194.91L151.91,195.90L151.99,196.90L152.07,197.90L152.15,198.89L152.23,199.89L152.31,200.89L152.39,201.88L152.47,202.88L152.55,203.88L152.63,204.87L152.71,205.87L152.79,206.87L152.87,207.86L152.95,208.86L153.03,209.86L153.11,210.86L153.19,211.85L153.27,212.85L153.35,213.85L153.43,214.84L153.51,215.84L153.59,216.84L153.67,217.83L153.75,218.83L153.83,219.83L153.91,220.82L153.99,221.82L154.07,222.82L154.15,223.81L154.23,224.81L154.31,225.81L154.39,226.80L154.47,227.80L154.55,228.80L154.63,229.79L154.71,230.79L154.79,231.79L154.87,232.78L154.95,233.78L155.03,234.78L155.11,235.78L155.19,236.77L155.27,237.77L155.35,238.77L155.43,239.76L155.51,240.76L155.59,241.76L155.67,242.75L155.75,243.75L155.83,244.75L155.91,245.74L155.99,246.74L156.07,247.74L156.15,248.73L156.23,249.73L156.31,250.73L156.39,251.72L156.47,252.72L156.55,253.72L156.63,254.71L156.71,255.71L156.79,256.71L156.87,257.70L156.95,258.70L157.03,259.70L157.11,260.69L157.19,261.69L157.27,262.69L157.35,263.69L157.43,264.68L157.51,265.68L157.59,266.68L157.67,267.67L157.75,268.67L157.83,269.67L157.91,270.66L157.99,271.66L158.07,272.66L158.15,273.65L158.23,274.65L158.31,275.65L158.39,276.64L158.47,277.64L158.55,278.64L158.63,279.63L158.71,280.63L158.79,281.63L158.87,282.62L158.95,283.62L159.03,284.62L159.11,285.61L159.19,286.61L159.27,287.61L159.35,288.60L159.43,289.60L159.51,290.60L159.59,291.60L159.67,292.59L159.75,293.59L159.83,294.59L159.91,295.58L160.00,296.58L160.08,297.58L160.16,298.57L160.24,299.57L160.32,300.57L160.40,301.56L160.48,302.56L160.56,303.56L160.64,304.55L160.72,305.55L160.80,306.55L160.88,307.54L160.96,308.54L161.04,309.54L161.12,310.53L161.20,311.53L161.28,312.53L161.36,313.52L161.44,314.52L161.52,315.52L161.60,316.51L161.68,317.51L161.76,318.51L161.84,319.50L161.92,320.50L162.00,321.50L162.08,322.49L162.16,323.49L162.24,324.49L162.33,325.49L162.41,326.48L162.49,327.48L162.57,328.48L162.65,329.47L162.73,330.47L162.81,331.47L162.89,332.46L162.97,333.46L163.05,334.46L163.13,335.45L163.21,336.45L163.29,337.45L163.37,338.44L163.45,339.44L163.53,340.44L163.61,341.43L163.69,342.43L163.77,343.43L163.85,344.42L163.94,345.42L164.02,346.42L164.10,347.41L164.18,348.41L164.26,349.41L164.34,350.40L164.42,351.40L164.50,352.40L164.58,353.39L164.66,354.39L164.74,355.39L164.82,356.38L164.90,357.38L164.98,358.38L165.06,359.37L165.15,360.37L165.23,361.37L165.31,362.36L165.39,363.36L165.47,364.36L165.55,365.36L165.63,366.35L165.71,367.35L165.79,368.35L165.87,369.34L165.95,370.34L166.03,371.34L166.11,372.33L166.20,373.33L166.28,374.33L166.36,375.32L166.44,376.32L166.52,377.32L166.60,378.31L166.68,379.31L166.76,380.31L166.84,381.30L166.92,382.30L167.01,383.30L167.09,384.29L167.17,385.29L167.25,386.29L167.33,387.28L167.41,388.28L167.49,389.28L167.57,390.27L167.65,391.27L167.73,392.27L167.82,393.26L167.90,394.26L167.98,395.26L168.06,396.25L168.14,397.25L168.22,398.25L168.30,399.24L168.38,400.24L168.47,401.24L168.55,402.23L168.63,403.23L168.71,404.23L168.79,405.22L168.87,406.22L168.95,407.22L169.04,408.21L169.12,409.21L169.20,410.21L169.28,411.20L169.36,412.20L169.44,413.20L169.52,414.19L169.61,415.19L169.69,416.19L169.77,417.18L169.85,418.18L169.93,419.18L170.01,420.17L170.10,421.17L170.18,422.17L170.26,423.16L170.34,424.16L170.42,425.16L170.50,426.15L170.59,427.15L170.67,428.15L170.75,429.14L170.83,430.14L170.91,431.14L171.00,432.13L171.08,433.13L171.16,434.13L171.24,435.12L171.32,436.12L171.41,437.12L171.49,438.11L171.57,439.11L171.65,440.11L171.73,441.10L171.82,442.10L171.90,443.10L171.98,444.09L172.06,445.09L172.15,446.09L172.23,447.08L172.31,448.08L172.39,449.08L172.47,450.07L172.56,451.07L172.64,452.07L172.72,453.06L172.80,454.06L172.89,455.06L172.97,456.05L173.05,457.05L173.13,458.05L173.22,459.04L173.30,460.04L173.38,461.03L173.46,462.03L173.55,463.03L173.63,464.02L173.71,465.02L173.79,466.02L173.88,467.01L173.96,468.01L174.04,469.01L174.12,470.00L174.21,471.00L174.29,472.00L174.37,472.99L174.45,473.99L174.54,474.99L174.62,475.98L174.70,476.98L174.79,477.98L174.87,478.97L174.95,479.97L175.03,480.97L175.12,481.96L175.20,482.96L175.28,483.96L175.37,484.95L175.45,485.95L175.53,486.95L175.61,487.94L175.70,488.94L175.78,489.94L175.86,490.93L175.95,491.93L176.03,492.93L176.11,493.92L176.19,494.92L176.28,495.91L176.36,496.91L176.44,497.91L176.53,498.90L176.61,499.90L176.69,500.90L176.78,501.89L176.86,502.89L176.94,503.89L177.02,504.88L177.11,505.88L177.19,506.88L177.27,507.87L177.36,508.87L177.44,509.87L177.52,510.86L177.61,511.86L177.69,512.86L177.77,513.85L177.86,514.85L177.94,515.85L178.02,516.84L178.10,517.84L178.19,518.84L178.27,519.83L178.35,520.83L178.44,521.83L178.52,522.82L178.60,523.82L178.69,524.81L178.77,525.81L178.85,526.81L178.94,527.80L179.02,528.80L179.10,529.80L179.19,530.79L179.27,531.79L179.35,532.79L179.44,533.78L179.52,534.78L179.60,535.78L179.69,536.77L179.77,537.77L179.85,538.77L179.94,539.76L180.02,540.76L180.10,541.76L180.19,542.75L180.27,543.75L180.35,544.75L180.44,545.74L180.52,546.74L180.60,547.73L180.69,548.73L180.77,549.73L180.85,550.72L180.94,551.72L181.02,552.72L181.10,553.71L181.19,554.71L181.27,555.71L181.35,556.70L181.44,557.70L181.52,558.70L181.61,559.69L181.69,560.69L181.77,561.69L181.86,562.68L181.94,563.68L182.02,564.68L182.11,565.67L182.19,566.67L182.27,567.66L182.36,568.66L182.44,569.66L182.52,570.65L182.61,571.65L182.69,572.65L182.77,573.64L182.86,574.64L182.94,575.64L183.02,576.63L183.11,577.63L183.19,578.63L183.27,579.62L183.36,580.62L183.44,581.62L183.53,582.61L183.61,583.61L183.69,584.61L183.78,585.60L183.86,586.60L183.94,587.60L184.03,588.59L184.11,589.59L184.19,590.58L184.28,591.58L184.36,592.58L184.44,593.57L184.53,594.57L184.61,595.57L184.69,596.56L184.78,597.56L184.86,598.56L184.94,599.55L185.03,600.55L185.11,601.55L185.20,602.54L185.28,603.54L185.36,604.54L185.45,605.53L185.53,606.53L185.61,607.53L185.70,608.52L185.78,609.52L185.86,610.51L185.95,611.51L186.03,612.51L186.11,613.50L186.20,614.50L186.28,615.50L186.36,616.49L186.45,617.49L186.53,618.49L186.61,619.48L186.70,620.48L186.78,621.48L186.86,622.47L186.95,623.47L187.03,624.47L187.11,625.46L187.20,626.46L187.28,627.46L187.36,628.45L187.45,629.45L187.53,630.45L187.62,631.44L187.70,632.44L187.78,633.43L187.87,634.43L187.95,635.43L188.03,636.42L188.12,637.42L188.20,638.42L188.28,639.41L188.36,640.41L188.45,641.41L188.53,642.40L188.61,643.40L188.70,644.40L188.78,645.39L188.86,646.39L188.95,647.39L189.03,648.38L189.11,649.38L189.20,650.38L189.28,651.37L189.36,652.37L189.45,653.37L189.53,654.36L189.61,655.36L189.70,656.35L189.78,657.35L189.86,658.35L189.95,659.34L190.03,660.34L190.11,661.34L190.19,662.33L190.28,663.33L190.36,664.33L190.44,665.32L190.53,666.32L190.61,667.32L190.69,668.31L190.78,669.31L190.86,670.31L190.94,671.30L191.02,672.30L191.11,673.30L191.19,674.29L191.27,675.29L191.36,676.29L191.44,677.28L191.52,678.28L191.60,679.28L191.69,680.27L191.77,681.27L191.85,682.27L191.94,683.26L192.02,684.26L192.10,685.25L192.18,686.25L192.27,687.25L192.35,688.24L192.43,689.24L192.51,690.24L192.60,691.23L192.68,692.23L192.76,693.23L192.85,694.22L192.93,695.22L193.01,696.22L193.09,697.21L193.18,698.21L193.26,699.21L193.34,700.20L193.42,701.20L193.51,702.20L193.59,703.19L193.67,704.19L193.75,705.19L193.84,706.18L193.92,707.18L194.00,708.18L194.08,709.17L194.17,710.17L194.25,711.17L194.33,712.16L194.41,713.16L194.50,714.16L194.58,715.15L194.66,716.15L194.74,717.15L194.83,718.14L194.91,719.14L194.99,720.14L195.08,721.13L195.16,722.13L195.24,723.13L195.32,724.12L195.41,725.12L195.49,726.11L195.57,727.11L195.65,728.11L195.74,729.10L195.82,730.10L195.90,731.10L195.98,732.09L196.07,733.09L196.15,734.09L196.23,735.08L196.31,736.08L196.40,737.08L196.48,738.07L196.56,739.07L196.64,740.07L196.73,741.06L196.81,742.06L196.89,743.06L196.97,744.05L197.06,745.05L197.14,746.05L197.22,747.04L197.30,748.04L197.39,749.04L197.47,750.03L197.55,751.03L197.63,752.03L197.72,753.02L197.80,754.02L197.88,755.02L197.96,756.01L198.05,757.01L198.13,758.01L198.21,759.00L198.29,760.00L198.38,761.00L198.46,761.99L198.54,762.99L198.63,763.98L198.71,764.98L198.79,765.98L198.87,766.97L198.96,767.97L199.04,768.97L199.12,769.96L199.20,770.96L199.29,771.96L199.37,772.95L199.45,773.95L199.54,774.95L199.62,775.94L199.70,776.94L199.78,777.94L199.87,778.93L199.95,779.93L200.03,780.93L200.12,781.92L200.20,782.92L200.28,783.92L200.37,784.91L200.45,785.91L200.53,786.91L200.61,787.90L200.70,788.90L200.78,789.90L200.86,790.89L200.95,791.89L201.03,792.89L201.11,793.88L201.20,794.88L201.28,795.87L201.36,796.87L201.45,797.87L201.53,798.86L201.61,799.86L201.70,800.86L201.78,801.85L201.86,802.85L201.95,803.85L202.03,804.84L202.11,805.84L202.20,806.84L202.28,807.83L202.36,808.83L202.45,809.83L202.53,810.82L202.61,811.82L202.70,812.82L202.78,813.81L202.87,814.81L202.95,815.80L203.03,816.80L203.12,817.80L203.20,818.79L203.29,819.79L203.37,820.79L203.45,821.78L203.54,822.78L203.62,823.78L203.71,824.77L203.79,825.77L203.88,826.77L203.96,827.76L204.04,828.76L204.13,829.76L204.21,830.75L204.30,831.75L204.38,832.74L204.47,833.74L204.55,834.74L204.64,835.73L204.72,836.73L204.81,837.73L204.89,838.72L204.98,839.72L205.06,840.72L205.15,841.71L205.23,842.71L205.31,843.71L205.39,844.70L205.48,845.70L205.56,846.69L205.64,847.69L205.72,848.69L205.80,849.69L205.88,850.68L205.96,851.68L206.04,852.68L206.12,853.67L206.19,854.67L206.27,855.67L206.35,856.66L206.43,857.66L206.50,858.66L206.58,859.65L206.65,860.65L206.73,861.65L206.80,862.65L206.88,863.64L206.95,864.64L207.03,865.64L207.10,866.64L207.18,867.63L207.25,868.63L207.32,869.63L207.40,870.62L207.47,871.62L207.54,872.62L207.61,873.62L207.69,874.61L207.76,875.61L207.83,876.61L207.90,877.61L207.97,878.60L208.04,879.60L208.12,880.60L208.19,881.60L208.26,882.59L208.33,883.59L208.40,884.59L208.47,885.59L208.54,886.58L208.61,887.58L208.68,888.58L208.75,889.58L208.83,890.57L208.90,891.57L208.97,892.57L209.04,893.57L209.11,894.56L209.18,895.56L209.25,896.56L209.32,897.56L209.39,898.55L209.46,899.55L209.53,900.55L209.61,901.55L209.68,902.54L209.75,903.54L209.82,904.54L209.89,905.54L209.97,906.53L210.04,907.53L210.11,908.53L210.18,909.52L210.26,910.52L210.33,911.52L210.40,912.52L210.48,913.51L210.55,914.51L210.63,915.51L210.70,916.51L210.78,917.50L210.86,918.50L210.93,919.50L211.01,920.49L211.09,921.49L211.17,922.49L211.25,923.48L211.33,924.48L211.41,925.48L211.49,926.47L211.58,927.47L211.66,928.47L211.75,929.46L211.83,930.46L211.92,931.46L212.01,932.45L212.10,933.45L212.19,934.44L212.29,935.44L212.38,936.43L212.48,937.43L212.58,938.42L212.68,939.42L212.79,940.41L212.90,941.41L213.01,942.40L213.13,943.39L213.25,944.39L213.37,945.38L213.51,946.37L213.64,947.36L213.79,948.35L213.95,949.34L214.13,950.32L214.32,951.30L214.54,952.28L214.81,953.24L215.19,954.17L215.95,954.33L216.38,953.44L216.67,952.48L216.90,951.51L217.10,950.53L217.28,949.54L217.44,948.56L217.59,947.57L217.74,946.58L217.87,945.59L218.00,944.60L218.13,943.60L218.25,942.61L218.37,941.62L218.48,940.62L218.59,939.63L218.70,938.64L218.80,937.64L218.90,936.65L219.00,935.65L219.10,934.66L219.20,933.66L219.29,932.67L219.39,931.67L219.48,930.67L219.57,929.68L219.66,928.68L219.75,927.69L219.84,926.69L219.93,925.69L220.02,924.70L220.11,923.70L220.19,922.71L220.28,921.71L220.36,920.71L220.45,919.72L220.53,918.72L220.61,917.72L220.70,916.73L220.78,915.73L220.86,914.73L220.95,913.74L221.03,912.74L221.11,911.74L221.19,910.75L221.28,909.75L221.36,908.75L221.44,907.76L221.52,906.76L221.60,905.76L221.69,904.77L221.77,903.77L221.85,902.77L221.94,901.78L222.02,900.78L222.11,899.79L222.19,898.79L222.28,897.79L222.36,896.80L222.45,895.80L222.54,894.80L222.62,893.81L222.71,892.81L222.80,891.82L222.89,890.82L222.99,889.82L223.08,888.83L223.18,887.83L223.27,886.84L223.37,885.84L223.47,884.85L223.57,883.85L223.68,882.86L223.79,881.86L223.90,880.87L224.01,879.88L224.13,878.88L224.25,877.89L224.36,876.90L224.47,875.90L224.59,874.91L224.70,873.92L224.81,872.92L224.92,871.93L225.03,870.94L225.14,869.94L225.25,868.95L225.36,867.95L225.47,866.96L225.58,865.97L225.69,864.97L225.79,863.98L225.90,862.98L226.01,861.99L226.11,860.99L226.22,860.00L226.32,859.01L226.43,858.01L226.54,857.02L226.64,856.02L226.75,855.03L226.85,854.03L226.96,853.04L227.06,852.04L227.17,851.05L227.27,850.06L227.38,849.06L227.48,848.07L227.59,847.07L227.70,846.08L227.80,845.08L227.91,844.09L228.02,843.09L228.12,842.10L228.23,841.11L228.34,840.11L228.45,839.12L228.55,838.12L228.66,837.13L228.77,836.14L228.88,835.14L228.99,834.15L229.11,833.15L229.22,832.16L229.33,831.17L229.44,830.17L229.56,829.18L229.67,828.19L229.79,827.19L229.91,826.20L230.03,825.21L230.15,824.21L230.27,823.22L230.39,822.23L230.51,821.24L230.63,820.24L230.76,819.25L230.89,818.26L231.01,817.27L231.14,816.28L231.27,815.29L231.41,814.29L231.54,813.30L231.68,812.31L231.81,811.32L231.95,810.33L232.09,809.34L232.24,808.35L232.38,807.36L232.53,806.37L232.68,805.38L232.83,804.40L232.98,803.41L233.13,802.42L233.29,801.43L233.45,800.44L233.60,799.46L233.76,798.47L233.93,797.48L234.09,796.50L234.25,795.51L234.42,794.52L234.58,793.54L234.75,792.55L234.92,791.57L235.09,790.58L235.26,789.60L235.43,788.61L235.61,787.63L235.78,786.64L235.96,785.66L236.14,784.67L236.31,783.69L236.49,782.70L236.67,781.72L236.85,780.74L237.03,779.75L237.22,778.77L237.40,777.79L237.58,776.80L237.77,775.82L237.95,774.84L238.13,773.86L238.32,772.87L238.51,771.89L238.69,770.91L238.88,769.93L239.07,768.94L239.26,767.96L239.44,766.98L239.63,766.00L239.82,765.01L240,764L240.4,762.1L240.8,760.1L241.1,758.1L241.5,756.2L241.9,754.2L242.2,752.2L242.6,750.3L243,748.3L243.4,746.3L243.7,744.4L244.1,742.4L244.5,740.5L244.9,738.5L245.3,736.5L245.7,734.6L246,732.6L246.4,730.6L246.9,728.7L247.3,726.7L247.7,724.8L248.1,722.8L248.5,720.9L248.9,718.9L249.3,716.9L249.7,715L250.1,713L250.5,711.1L250.9,709.1L251.3,707.2L251.8,705.2L252.2,703.2L252.6,701.3L253,699.3L253.4,697.4L253.9,695.4L254.3,693.5L254.8,691.5L255.3,689.6L255.8,687.6L256.3,685.7L256.9,683.8L257.5,681.9L258.3,680.1L259,678.2L259.8,676.4L260.6,674.5L261.2,672.6L261.8,670.7L262.3,668.8L262.7,666.8L263.1,664.9L263.5,662.9L263.8,660.9L264.1,659L264.4,657L264.7,655L265,653L265.3,651.1L265.7,649.1L266,647.1L266.4,645.2L266.9,643.2L267.3,641.3L267.8,639.3L268.2,637.4L268.7,635.4L269.3,633.5L269.8,631.6L270.4,629.7L271,627.8L271.6,625.8L272.2,624L272.9,622.1L273.7,620.2L274.5,618.4L275.3,616.6L276.1,614.8L277,612.9L277.8,611.1L278.7,609.3L279.6,607.5L280.4,605.7L281.3,603.9L282.2,602.2L283.2,600.4L284.3,598.7L285.5,597.1L286.8,595.6L288.2,594.2L289.7,592.9L291.3,591.7L292.9,590.6L294.6,589.4L296.3,588.4L298,587.4L299.8,586.6L301.7,586.1L303.7,585.8L305.6,585.7L307.6,585.8L309.6,586.1L311.5,586.6L313.5,587.2L315.3,587.9L317.1,588.7L318.9,589.6L320.6,590.6L322.3,591.7L324,592.8L325.6,593.9L327.2,595.1L328.8,596.3L330.4,597.6L331.9,598.9L333.3,600.3L334.8,601.7L336.2,603.1L337.5,604.6L338.8,606.1L340.1,607.6L341.3,609.2L342.6,610.8L343.7,612.4L344.9,614L346,615.7L347.1,617.4L348.1,619.1L349.1,620.8L350.1,622.6L351.1,624.3L352,626.1L353,627.8L353.9,629.6L354.9,631.3L355.9,633.1L356.9,634.8L357.9,636.5L359,638.2L360,639.9L361.1,641.6L362.3,643.2L363.5,644.8L364.7,646.4L365.9,648L367.1,649.6L368.1,651.3L369.2,653L370.2,654.8L371.2,656.5L372.2,658.2L373.3,659.9L374.5,661.5L375.8,663L377.2,664.3L378.9,665.4L380.6,666.3L382.5,666.9L384.4,667.4L386.4,667.8L388.4,668.2L390.3,668.5L392.3,668.9L394.3,669.3L396.2,669.6L398.2,669.9L400.2,670.3L402.1,670.6L404.1,671L406.1,671.4L408,671.8L410,672.1L412,672.6L413.9,673L415.8,673.5L417.8,674L419.7,674.6L421.6,675.3L423.4,676L425.3,676.7L427.2,677.4L429.1,678.1L431,678.7L432.9,679.2L434.8,679.7L436.8,680.1L438.7,680.6L440.7,681.2L442.5,681.8L444.3,682.7L446,683.7L447.7,684.8L449.2,686.1L450.8,687.3L452.3,688.6L453.9,689.8L455.6,690.9L457.3,691.9L459,692.9L460.8,693.8L462.6,694.6L464.4,695.5L466.3,696.4L468,697.2L469.8,698.1L471.6,699.1L473.3,700.1L475,701.1L476.8,702.1L478.4,703.2L480,704.4L481.6,705.6L483.1,707L484.6,708.3L485.9,709.8L487.3,711.3L488.6,712.8L489.9,714.3L491.2,715.8L492.6,717.3L494,718.7L495.4,720.1L496.9,721.4L498.4,722.7L499.9,724L501.5,725.3L503,726.5L504.6,727.8L506.2,729L507.8,730.2L509.4,731.4L511,732.6L512.6,733.7L514.2,734.9L515.8,736.2L517.4,737.4L518.8,738.8L520.3,740.1L521.7,741.6L523,743L524.4,744.5L525.6,746.1L526.9,747.7L528.1,749.3L529.2,750.9L530.4,752.5L531.7,754L533,755.6L534.3,757.1L535.7,758.5L537,760L538.5,761.4L540,762.7L541.5,764L543,765.3L544.5,766.6L545.9,768L547.4,769.4L548.8,770.8L550.2,772.2L551.6,773.6L553.1,775L554.5,776.4L555.9,777.8L557.3,779.2L558.7,780.7L560.1,782.1L561.4,783.6L562.8,785.1L564.2,786.5L565.6,787.9L567.1,789.3L568.5,790.6L570.1,792L571.6,793.3L573.1,794.5L574.7,795.8L576.2,797L577.8,798.2L579.4,799.4L581.1,800.6L582.8,801.6L584.5,802.7L586.2,803.6L588.1,804.4L589.9,805.2L591.8,805.9L593.7,806.5L595.6,807.1L597.5,807.6L599.5,808.1L601.4,808.6L603.4,809L605.3,809.5L607.2,810L609.1,810.6L611,811.3L612.9,812.1L614.6,813L616.4,813.9L618,815L619.6,816.2L621.1,817.6L622.6,818.9L623.9,820.4L625.2,821.9L626.5,823.5L627.7,825L628.9,826.7L630,828.3L631,830L632.1,831.7L633.1,833.4L634.3,835.1L635.5,836.6L636.8,838.1L638.2,839.6L639.6,841L640.8,842.6L642,844.2L643.2,845.8L644.3,847.5L645.5,849.1L646.6,850.8L647.7,852.4L648.8,854.1L649.8,855.8L650.9,857.5L651.9,859.2L652.9,860.9L653.9,862.7L654.9,864.4L655.9,866.2L656.9,867.9L657.9,869.6L659,871.3L660.2,872.9L661.4,874.5L662.6,876.1L663.9,877.6L665.2,879.2L666.5,880.7L667.8,882.2L669.1,883.6L670.5,885.1L671.9,886.5L673.3,888L674.7,889.4L676.2,890.7L677.6,892.1L679.1,893.4L680.7,894.7L682.2,896L683.8,897.2L685.2,898.6L686.5,900.1L687.7,901.7L688.8,903.4L689.8,905.1L690.7,906.9L691.6,908.7L692.5,910.5L693.4,912.2L694.3,914L695.3,915.8L696.2,917.6L697.1,919.3L698.1,921.1L699.1,922.8L700.1,924.5L701.2,926.2L702.4,927.8L703.6,929.4L704.9,930.9L706.1,932.5L707.5,934L708.8,935.5L710.2,936.9L711.6,938.3L713,939.7L714.5,941.1L716,942.4L717.5,943.7L719,945L720.7,946.1L722.3,947.2L724.1,948.2L725.9,948.9L727.8,949.3L729.8,949.3L731.6,948.9L733.4,948.1L735.1,947.1L736.8,945.9L738.4,944.7L739.9,943.4L741.4,942.1L742.9,940.8L744.3,939.4L745.8,938.1L747.3,936.7L748.7,935.3L750.2,933.9L751.6,932.6L753.1,931.3L754.7,930L756.4,929L758.2,928.1L760,927.4L761.9,926.8L763.9,926.3L765.8,925.8L767.7,925.3L769.7,924.8L771.6,924.2L773.5,923.7L775.4,923L777.3,922.3L779,921.4L780.8,920.4L782.5,919.4L784.2,918.4L786,917.5L787.8,916.7L789.7,915.9L791.5,915.2L793.5,914.7L795.4,914.4L797.4,914.3L799.3,914.7L801.1,915.5L802.8,916.5L804.4,917.6L806.1,918.7L807.9,919.6L809.7,920.5L811.5,921.4L813.3,922.3L815,923.2L816.8,924.1L818.5,925.1L820.2,926.2L821.9,927.3L823.5,928.4L825.2,929.6L826.8,930.8L828.3,932L829.9,933.3L831.4,934.6L832.8,936L834.2,937.4L835.7,938.8L837.2,940.1L838.7,941.4L840.3,942.5L842.1,943.5L843.9,944.3L845.7,945.1L847.6,945.7L849.5,946.4L851.4,947.1L853.2,947.9L855,948.8L856.8,949.6L858.7,950.4L860.6,950.9L862.5,951.2L864.5,951.1L866.4,950.7L868.3,950.2L870.2,949.5L872,948.7L873.9,947.9L875.7,947.1L877.5,946.2L879.2,945.3L881,944.3L882.8,943.4L884.6,942.6L886.5,941.9L888.4,941.3L890.3,940.8L892.2,940.3L894.2,939.7L896.1,939.1L898,938.5L899.9,937.8L901.7,937.1L903.6,936.4L905.4,935.5L907.1,934.5L908.7,933.4L910.3,932.1L911.8,930.8L913.2,929.4L914.7,928L916.2,926.7L917.6,925.3L919.1,924L920.6,922.6L922.1,921.3L923.6,920L925.1,918.7L926.7,917.5L928.3,916.3L930,915.2L931.7,914.1L933.4,913.2L935.2,912.3L937.1,911.6L939,910.9L940.8,910.3L942.7,909.5L944.3,908.5L945.9,907.2L947.3,905.9L948.8,904.5L950.3,903.2L951.8,902L953.5,900.8L955.2,899.8L957,898.9L958.8,898L960.6,897.4L962.6,896.9L964.5,896.5L966.5,896.3L968.5,896.2L970.5,896.2L972.5,896.3L974.5,896.4L976.5,896.7L978.5,897L980.4,897.5L982.3,898.1L984.1,898.8L986,899.6L987.8,900.4L989.7,901.1L991.6,901.8L993.5,902.4L995.4,903L997.3,903.7L999.2,904.3L1001.1,904.9L1003,905.5L1004.9,906.2L1006.7,906.9L1008.6,907.6L1010.4,908.5L1012.2,909.3L1014,910.2L1015.8,911L1017.7,911.7L1019.6,912.1L1021.6,912.4L1023.6,912.4L1025.6,912.3L1027.6,912.1L1029.5,911.8L1031.5,911.6L1033.5,911.4L1035.5,911.4L1037.5,911.4L1039.5,911.6L1041.5,911.7L1043.5,911.9L1045.5,912.1L1047.5,912.2L1049.5,912.3L1051.5,912.4L1053.5,912.4L1055.5,912.4L1057.5,912.4L1059.5,912.3L1061.5,912.2L1063.4,912L1065.4,911.8L1067.4,911.4L1069.3,910.9L1071.3,910.4L1073.2,909.8L1075,909.1L1076.9,908.4L1078.7,907.6L1080.5,906.7L1082.3,905.9L1084.1,904.9L1085.9,904L1087.6,902.9L1089.3,901.9L1090.9,900.8L1092.6,899.7L1094.2,898.5L1095.9,897.3L1097.5,896.2L1099.1,895L1100.7,893.8L1102.3,892.6L1103.9,891.4L1105.5,890.2L1107.1,889L1108.6,887.7L1110.2,886.4L1111.7,885.1L1113.2,883.8L1114.6,882.4L1116,881L1117.4,879.5L1118.8,878.1L1120.2,876.7L1121.7,875.3L1123.2,874L1124.7,872.7L1126.3,871.5L1127.9,870.3L1129.6,869.4L1131.4,868.5L1133.3,867.8L1135.2,867.3L1137.2,866.8L1139.1,866.5L1141.1,866.3L1143.1,866.3L1145.1,866.6L1147,867.1L1148.8,867.9L1150.6,868.8L1152.2,869.9L1153.9,871L1155.5,872.2L1157.2,873.3L1158.9,874.3L1160.7,875.2L1162.5,876.1L1164.3,876.9L1166.1,877.6L1168,878.3L1170,878.8L1171.9,879.3L1173.9,879.6L1175.9,879.8L1177.8,880L1179.8,880.3L1181.8,880.6L1183.7,881.1L1185.6,881.7L1187.5,882.3L1189.4,883.1L1191.2,884L1192.9,884.9L1194.6,885.9L1196.3,887L1197.9,888.2L1199.6,889.4L1201.2,890.6L1202.8,891.8L1204.3,893L1205.9,894.2L1207.4,895.5L1209,896.8L1210.5,898.1L1212.1,899.3L1213.7,900.5L1215.4,901.6L1217.1,902.6L1218.8,903.5L1220.6,904.5L1222.4,905.4L1224.2,906.3L1225.9,907.3L1227.5,908.5L1229.1,909.7L1230.6,911L1232,912.4L1233.5,913.8L1234.9,915.1L1236.4,916.5L1238,917.7L1239.6,918.9L1241.3,920L1243,921L1244.8,921.9L1246.6,922.7L1248.4,923.5L1250.3,924.3L1252.2,924.9L1254.1,925.3L1256.1,925.6L1258.1,925.8L1260.1,925.8L1262.1,925.7L1264.1,925.5L1266,925.1L1268,924.7L1269.9,924.1L1271.8,923.5L1273.7,922.9L1275.6,922.2L1277.5,921.6L1279.4,920.9L1281.2,920.2L1283.1,919.5L1285,918.8L1286.8,918L1288.6,917.1L1290.3,916.1L1292,915.1L1293.7,914L1295.3,912.8L1296.8,911.5L1298.3,910.1L1299.7,908.7L1301,907.2L1302.2,905.6L1303.4,904L1304.6,902.4L1305.8,900.8L1307,899.2L1308.2,897.6L1309.5,896L1310.7,894.5L1312,892.9L1313.2,891.4L1314.5,889.8L1315.7,888.3L1317,886.7L1318.2,885.1L1319.4,883.5L1320.6,881.9L1321.9,880.4L1323.1,878.8L1324.3,877.2L1325.6,875.6L1326.8,874.1L1328.1,872.6L1329.5,871.1L1330.8,869.6L1332.1,868.1L1333.5,866.6L1334.8,865.1L1336.2,863.7L1337.6,862.3L1339,860.8L1340.4,859.4L1341.8,858L1343.3,856.6L1344.7,855.2L1346.1,853.8L1347.5,852.4L1348.9,851L1350.3,849.5L1351.7,848.1L1353.1,846.7L1353.8,846.0" stroke="#7E2F8E"/>
<path d="M149.50,228.00L149.57,229.00L149.64,230.00L149.70,230.99L149.77,231.99L149.83,232.99L149.90,233.99L149.96,234.98L150.03,235.98L150.09,236.98L150.16,237.98L150.22,238.98L150.29,239.97L150.35,240.97L150.41,241.97L150.48,242.97L150.54,243.97L150.61,244.96L150.67,245.96L150.74,246.96L150.80,247.96L150.86,248.96L150.93,249.95L150.99,250.95L151.06,251.95L151.13,252.95L151.19,253.94L151.26,254.94L151.32,255.94L151.39,256.94L151.46,257.94L151.52,258.93L151.59,259.93L151.66,260.93L151.72,261.93L151.79,262.92L151.86,263.92L151.93,264.92L152.00,265.92L152.06,266.92L152.13,267.91L152.20,268.91L152.27,269.91L152.34,270.91L152.41,271.90L152.48,272.90L152.55,273.90L152.62,274.90L152.69,275.89L152.76,276.89L152.84,277.89L152.91,278.89L152.98,279.88L153.05,280.88L153.13,281.88L153.20,282.88L153.27,283.87L153.35,284.87L153.42,285.87L153.49,286.86L153.57,287.86L153.64,288.86L153.72,289.86L153.79,290.85L153.87,291.85L153.95,292.85L154.02,293.84L154.10,294.84L154.18,295.84L154.25,296.84L154.33,297.83L154.41,298.83L154.49,299.83L154.56,300.82L154.64,301.82L154.72,302.82L154.80,303.81L154.88,304.81L154.96,305.81L155.04,306.80L155.12,307.80L155.20,308.80L155.28,309.79L155.37,310.79L155.45,311.79L155.53,312.78L155.61,313.78L155.69,314.78L155.77,315.77L155.86,316.77L155.94,317.77L156.02,318.76L156.10,319.76L156.19,320.76L156.27,321.75L156.35,322.75L156.43,323.75L156.52,324.74L156.60,325.74L156.68,326.74L156.77,327.73L156.85,328.73L156.93,329.73L157.02,330.72L157.10,331.72L157.18,332.72L157.27,333.71L157.35,334.71L157.44,335.71L157.52,336.70L157.60,337.70L157.69,338.69L157.77,339.69L157.86,340.69L157.94,341.68L158.03,342.68L158.11,343.68L158.19,344.67L158.28,345.67L158.36,346.67L158.45,347.66L158.53,348.66L158.62,349.66L158.70,350.65L158.79,351.65L158.87,352.64L158.96,353.64L159.04,354.64L159.13,355.63L159.21,356.63L159.30,357.63L159.38,358.62L159.47,359.62L159.55,360.62L159.64,361.61L159.72,362.61L159.81,363.60L159.89,364.60L159.98,365.60L160.06,366.59L160.15,367.59L160.23,368.59L160.32,369.58L160.40,370.58L160.49,371.58L160.57,372.57L160.66,373.57L160.74,374.57L160.83,375.56L160.91,376.56L161.00,377.55L161.08,378.55L161.17,379.55L161.25,380.54L161.33,381.54L161.42,382.54L161.50,383.53L161.59,384.53L161.67,385.53L161.76,386.52L161.84,387.52L161.93,388.51L162.01,389.51L162.10,390.51L162.18,391.50L162.27,392.50L162.35,393.50L162.44,394.49L162.52,395.49L162.61,396.49L162.69,397.48L162.77,398.48L162.86,399.48L162.94,400.47L163.03,401.47L163.11,402.46L163.19,403.46L163.28,404.46L163.36,405.45L163.45,406.45L163.53,407.45L163.61,408.44L163.70,409.44L163.78,410.44L163.86,411.43L163.95,412.43L164.03,413.43L164.11,414.42L164.20,415.42L164.28,416.42L164.36,417.41L164.45,418.41L164.53,419.41L164.61,420.40L164.69,421.40L164.78,422.40L164.86,423.39L164.94,424.39L165.02,425.38L165.10,426.38L165.19,427.38L165.27,428.37L165.35,429.37L165.43,430.37L165.51,431.37L165.59,432.36L165.67,433.36L165.75,434.36L165.83,435.35L165.91,436.35L165.99,437.35L166.07,438.34L166.15,439.34L166.23,440.34L166.31,441.33L166.39,442.33L166.47,443.33L166.55,444.32L166.63,445.32L166.71,446.32L166.79,447.31L166.86,448.31L166.94,449.31L167.02,450.30L167.10,451.30L167.18,452.30L167.26,453.30L167.33,454.29L167.41,455.29L167.49,456.29L167.57,457.28L167.65,458.28L167.72,459.28L167.80,460.27L167.88,461.27L167.95,462.27L168.03,463.27L168.11,464.26L168.19,465.26L168.26,466.26L168.34,467.25L168.42,468.25L168.49,469.25L168.57,470.24L168.65,471.24L168.72,472.24L168.80,473.24L168.88,474.23L168.95,475.23L169.03,476.23L169.11,477.22L169.18,478.22L169.26,479.22L169.33,480.22L169.41,481.21L169.49,482.21L169.56,483.21L169.64,484.20L169.72,485.20L169.79,486.20L169.87,487.20L169.94,488.19L170.02,489.19L170.10,490.19L170.17,491.18L170.25,492.18L170.32,493.18L170.40,494.17L170.48,495.17L170.55,496.17L170.63,497.17L170.71,498.16L170.78,499.16L170.86,500.16L170.93,501.15L171.01,502.15L171.09,503.15L171.16,504.15L171.24,505.14L171.32,506.14L171.39,507.14L171.47,508.13L171.55,509.13L171.63,510.13L171.70,511.13L171.78,512.12L171.86,513.12L171.93,514.12L172.01,515.11L172.09,516.11L172.17,517.11L172.25,518.10L172.33,519.10L172.40,520.10L172.48,521.09L172.56,522.09L172.64,523.09L172.72,524.09L172.80,525.08L172.88,526.08L172.96,527.08L173.04,528.07L173.12,529.07L173.21,530.07L173.29,531.06L173.37,532.06L173.45,533.06L173.54,534.05L173.62,535.05L173.71,536.04L173.79,537.04L173.88,538.04L173.97,539.03L174.06,540.03L174.15,541.02L174.25,542.02L174.34,543.02L174.44,544.01L174.55,545.01L174.65,546.00L174.76,546.99L174.87,547.99L174.97,548.98L175.08,549.98L175.18,550.97L175.28,551.97L175.38,552.96L175.47,553.96L175.57,554.95L175.66,555.95L175.75,556.94L175.84,557.94L175.93,558.94L176.02,559.93L176.11,560.93L176.19,561.92L176.28,562.92L176.36,563.92L176.45,564.91L176.53,565.91L176.62,566.91L176.70,567.90L176.79,568.90L176.87,569.90L176.95,570.89L177.04,571.89L177.12,572.89L177.20,573.88L177.28,574.88L177.36,575.88L177.45,576.87L177.53,577.87L177.61,578.87L177.69,579.86L177.77,580.86L177.85,581.86L177.93,582.85L178.01,583.85L178.09,584.85L178.17,585.84L178.25,586.84L178.33,587.84L178.41,588.83L178.49,589.83L178.57,590.83L178.65,591.82L178.73,592.82L178.81,593.82L178.88,594.81L178.96,595.81L179.04,596.81L179.12,597.81L179.20,598.80L179.28,599.80L179.36,600.80L179.43,601.79L179.51,602.79L179.59,603.79L179.67,604.78L179.75,605.78L179.83,606.78L179.90,607.77L179.98,608.77L180.06,609.77L180.14,610.77L180.22,611.76L180.29,612.76L180.37,613.76L180.45,614.75L180.53,615.75L180.61,616.75L180.68,617.74L180.76,618.74L180.84,619.74L180.92,620.74L180.99,621.73L181.07,622.73L181.15,623.73L181.23,624.72L181.30,625.72L181.38,626.72L181.46,627.71L181.54,628.71L181.61,629.71L181.69,630.71L181.77,631.70L181.85,632.70L181.92,633.70L182.00,634.69L182.08,635.69L182.16,636.69L182.23,637.68L182.31,638.68L182.39,639.68L182.47,640.67L182.54,641.67L182.62,642.67L182.70,643.67L182.78,644.66L182.85,645.66L182.93,646.66L183.01,647.65L183.09,648.65L183.16,649.65L183.24,650.64L183.32,651.64L183.40,652.64L183.47,653.64L183.55,654.63L183.63,655.63L183.71,656.63L183.78,657.62L183.86,658.62L183.94,659.62L184.01,660.61L184.09,661.61L184.17,662.61L184.25,663.61L184.32,664.60L184.40,665.60L184.48,666.60L184.56,667.59L184.63,668.59L184.71,669.59L184.79,670.58L184.87,671.58L184.94,672.58L185.02,673.58L185.10,674.57L185.18,675.57L185.25,676.57L185.33,677.56L185.41,678.56L185.49,679.56L185.56,680.55L185.64,681.55L185.72,682.55L185.80,683.55L185.87,684.54L185.95,685.54L186.03,686.54L186.11,687.53L186.18,688.53L186.26,689.53L186.34,690.52L186.42,691.52L186.49,692.52L186.57,693.52L186.65,694.51L186.73,695.51L186.81,696.51L186.88,697.50L186.96,698.50L187.04,699.50L187.12,700.49L187.19,701.49L187.27,702.49L187.35,703.49L187.43,704.48L187.51,705.48L187.58,706.48L187.66,707.47L187.74,708.47L187.82,709.47L187.90,710.46L187.97,711.46L188.05,712.46L188.13,713.45L188.21,714.45L188.29,715.45L188.36,716.45L188.44,717.44L188.52,718.44L188.60,719.44L188.68,720.43L188.76,721.43L188.83,722.43L188.91,723.42L188.99,724.42L189.07,725.42L189.15,726.41L189.23,727.41L189.31,728.41L189.38,729.41L189.46,730.40L189.54,731.40L189.62,732.40L189.70,733.39L189.78,734.39L189.86,735.39L189.94,736.38L190.02,737.38L190.10,738.38L190.17,739.37L190.25,740.37L190.33,741.37L190.41,742.36L190.49,743.36L190.57,744.36L190.65,745.36L190.73,746.35L190.81,747.35L190.89,748.35L190.97,749.34L191.05,750.34L191.13,751.34L191.21,752.33L191.29,753.33L191.37,754.33L191.45,755.32L191.53,756.32L191.61,757.32L191.69,758.31L191.78,759.31L191.86,760.31L191.94,761.30L192.02,762.30L192.10,763.30L192.18,764.29L192.26,765.29L192.35,766.29L192.43,767.28L192.51,768.28L192.59,769.28L192.68,770.27L192.76,771.27L192.84,772.27L192.93,773.26L193.01,774.26L193.09,775.26L193.18,776.25L193.26,777.25L193.35,778.25L193.43,779.24L193.52,780.24L193.61,781.23L193.69,782.23L193.78,783.23L193.87,784.22L193.96,785.22L194.05,786.21L194.14,787.21L194.23,788.21L194.32,789.20L194.41,790.20L194.51,791.19L194.60,792.19L194.70,793.18L194.79,794.18L194.89,795.17L194.99,796.17L195.09,797.16L195.20,798.16L195.31,799.15L195.42,800.15L195.53,801.14L195.65,802.13L195.78,803.13L195.91,804.12L196.05,805.11L196.22,806.09L196.41,807.07L196.63,808.05L196.88,809.02L197.11,809.99L197.30,810.97L197.47,811.96L197.63,812.95L197.77,813.94L197.90,814.93L198.03,815.92L198.15,816.91L198.26,817.90L198.38,818.90L198.49,819.89L198.60,820.89L198.70,821.88L198.81,822.87L198.91,823.87L199.01,824.86L199.12,825.86L199.22,826.85L199.32,827.85L199.42,828.84L199.51,829.84L199.61,830.83L199.71,831.83L199.81,832.82L199.90,833.82L200.00,834.82L200.10,835.81L200.19,836.81L200.29,837.80L200.38,838.80L200.48,839.79L200.57,840.79L200.67,841.78L200.76,842.78L200.85,843.77L200.95,844.77L201.04,845.77L201.14,846.76L201.23,847.76L201.32,848.75L201.42,849.75L201.51,850.74L201.60,851.74L201.70,852.73L201.79,853.73L201.89,854.73L201.98,855.72L202.07,856.72L202.17,857.71L202.26,858.71L202.35,859.70L202.45,860.70L202.54,861.70L202.64,862.69L202.73,863.69L202.83,864.68L202.92,865.68L203.02,866.67L203.11,867.67L203.21,868.66L203.30,869.66L203.40,870.65L203.50,871.65L203.59,872.64L203.69,873.64L203.79,874.64L203.89,875.63L203.99,876.63L204.08,877.62L204.18,878.62L204.28,879.61L204.38,880.61L204.48,881.60L204.59,882.60L204.69,883.59L204.79,884.58L204.90,885.58L205.00,886.57L205.11,887.57L205.21,888.56L205.32,889.56L205.43,890.55L205.54,891.54L205.65,892.54L205.77,893.53L205.88,894.53L206.00,895.52L206.12,896.51L206.24,897.50L206.37,898.50L206.50,899.49L206.63,900.48L206.77,901.47L206.92,902.46L207.08,903.44L207.26,904.43L207.43,905.41L207.61,906.40L207.83,907.37L208.07,908.34L208.34,909.30L208.71,910.23L209.36,910.90L210.06,910.26L210.48,909.35L210.82,908.41L211.14,907.46L211.45,906.51L211.79,905.57L212.14,904.64L212.48,903.70L212.79,902.74L213.06,901.78L213.31,900.81L213.54,899.84L213.75,898.86L213.95,897.88L214.14,896.90L214.31,895.92L214.48,894.93L214.65,893.94L214.80,892.96L214.95,891.97L215.10,890.98L215.24,889.99L215.38,889.00L215.51,888.01L215.64,887.02L215.77,886.02L215.90,885.03L216.02,884.04L216.14,883.05L216.26,882.05L216.38,881.06L216.49,880.07L216.60,879.07L216.71,878.08L216.82,877.08L216.91,876.09L217.01,875.09L217.10,874.10L217.20,873.10L217.28,872.11L217.37,871.11L217.46,870.11L217.54,869.12L217.62,868.12L217.70,867.12L217.78,866.13L217.86,865.13L217.94,864.13L218.02,863.14L218.10,862.14L218.17,861.14L218.25,860.15L218.32,859.15L218.40,858.15L218.48,857.15L218.55,856.16L218.63,855.16L218.70,854.16L218.78,853.17L218.85,852.17L218.93,851.17L219.01,850.17L219.08,849.18L219.16,848.18L219.24,847.18L219.32,846.19L219.40,845.19L219.48,844.19L219.56,843.20L219.64,842.20L219.72,841.20L219.80,840.21L219.89,839.21L219.97,838.21L220.06,837.22L220.15,836.22L220.24,835.22L220.33,834.23L220.42,833.23L220.51,832.24L220.61,831.24L220.70,830.25L220.80,829.25L220.90,828.26L221.00,827.26L221.10,826.27L221.21,825.27L221.31,824.28L221.42,823.28L221.53,822.29L221.65,821.30L221.76,820.30L221.88,819.31L222.00,818.32L222.12,817.32L222.25,816.33L222.37,815.34L222.49,814.35L222.62,813.36L222.75,812.36L222.88,811.37L223.01,810.38L223.14,809.39L223.27,808.40L223.40,807.41L223.53,806.42L223.67,805.42L223.80,804.43L223.94,803.44L224.07,802.45L224.21,801.46L224.35,800.47L224.49,799.48L224.63,798.49L224.77,797.50L224.91,796.51L225.05,795.52L225.19,794.53L225.33,793.54L225.48,792.55L225.62,791.56L225.76,790.57L225.91,789.58L226.05,788.59L226.20,787.60L226.35,786.61L226.49,785.63L226.64,784.64L226.79,783.65L226.94,782.66L227.08,781.67L227.23,780.68L227.38,779.69L227.53,778.70L227.68,777.71L227.84,776.73L227.99,775.74L228.14,774.75L228.29,773.76L228.44,772.77L228.60,771.78L228.75,770.80L228.91,769.81L229.06,768.82L229.22,767.83L229.37,766.84L229.53,765.86L229.68,764.87L229.84,763.88L230.00,762.89L230.16,761.91L230.31,760.92L230.47,759.93L230.63,758.94L230.79,757.96L230.95,756.97L231.11,755.98L231.27,755.00L231.43,754.01L231.60,753.02L231.76,752.04L231.92,751.05L232.09,750.06L232.26,749.08L232.43,748.09L232.61,747.11L232.78,746.12L232.96,745.14L233.14,744.16L233.32,743.17L233.51,742.19L233.70,741.21L233.89,740.23L234.08,739.25L234.28,738.26L234.48,737.28L234.68,736.31L234.88,735.33L235.09,734.35L235.30,733.37L235.50,732.39L235.72,731.41L235.93,730.44L236.14,729.46L236.36,728.48L236.57,727.51L236.78,726.53L237.00,725.55L237.21,724.58L237.42,723.60L237.62,722.62L237.83,721.64L238.03,720.66L238.24,719.68L238.44,718.70L238.63,717.72L238.83,716.74L239.02,715.76L239.21,714.78L239.41,713.80L239.60,712.82L239.79,711.83L239.98,710.85L240.2,709.9L240.5,707.9L240.9,705.9L241.3,704L241.7,702L242.1,700.1L242.4,698.1L242.8,696.1L243.2,694.2L243.6,692.2L244,690.2L244.4,688.3L244.8,686.3L245.3,684.4L245.7,682.4L246.2,680.5L246.6,678.5L247.1,676.6L247.6,674.7L248.1,672.7L248.6,670.8L249.2,668.9L249.7,666.9L250.2,665L250.8,663.1L251.3,661.2L251.9,659.2L252.4,657.3L252.9,655.4L253.4,653.4L253.9,651.5L254.4,649.6L254.9,647.6L255.4,645.7L255.9,643.7L256.4,641.8L256.9,639.9L257.4,637.9L257.9,636L258.5,634.1L259,632.2L259.6,630.2L260.2,628.3L260.8,626.4L261.4,624.5L262,622.6L262.7,620.7L263.3,618.8L264,617L264.7,615.1L265.4,613.2L266.1,611.3L266.8,609.5L267.6,607.6L268.3,605.8L269.2,604L270,602.1L270.9,600.4L271.8,598.6L272.8,596.8L273.8,595.1L274.9,593.4L275.9,591.7L277.1,590.1L278.2,588.4L279.4,586.8L280.6,585.2L281.8,583.7L283.2,582.2L284.6,580.7L286,579.4L287.6,578.1L289.2,577.1L291,576.2L292.9,575.8L294.9,575.7L296.8,575.9L298.7,576.4L300.6,577.1L302.3,578.1L303.9,579.3L305.3,580.7L306.5,582.3L307.7,583.9L308.8,585.5L310,587.1L311.2,588.7L312.4,590.3L313.7,591.8L315,593.4L316.2,594.9L317.5,596.5L318.7,598.1L319.8,599.7L321,601.4L322.1,603L323.3,604.7L324.4,606.3L325.5,608L326.5,609.7L327.5,611.4L328.5,613.2L329.5,614.9L330.4,616.7L331.4,618.4L332.3,620.2L333.2,622L334.1,623.8L335,625.5L336,627.3L337,629.1L337.9,630.8L338.9,632.6L339.9,634.3L340.8,636.1L341.8,637.8L342.6,639.6L343.5,641.4L344.3,643.3L345.1,645.1L345.8,647L346.5,648.8L347.2,650.7L348,652.6L348.7,654.4L349.4,656.3L350.2,658.1L351,660L351.8,661.8L352.6,663.6L353.4,665.5L354.2,667.3L355,669.1L355.8,671L356.7,672.8L357.5,674.6L358.4,676.4L359.2,678.2L360.1,680L361,681.8L361.9,683.6L362.8,685.3L363.7,687.1L364.7,688.9L365.6,690.6L366.6,692.4L367.5,694.2L368.5,695.9L369.4,697.7L370.4,699.4L371.4,701.2L372.4,702.9L373.4,704.6L374.5,706.3L375.5,708L376.6,709.7L377.8,711.3L378.9,713L380,714.6L381.2,716.2L382.4,717.8L383.7,719.4L384.9,720.9L386.2,722.5L387.6,723.9L389,725.3L390.5,726.6L392.1,727.8L393.8,729L395.5,730L397.2,731.1L398.9,732.1L400.6,733.2L402.3,734.2L404,735.2L405.7,736.2L407.5,737.2L409.2,738.2L411,739.1L412.7,740.1L414.5,741L416.2,742L418,743L419.8,743.9L421.6,744.7L423.4,745.5L425.3,746.1L427.3,746.6L429.2,747L431.2,747.4L433.1,747.7L435.1,748.1L437,748.7L438.8,749.5L440.5,750.5L442.1,751.7L443.6,753L445,754.4L446.4,755.8L447.8,757.3L449.2,758.8L450.5,760.3L451.8,761.8L453.1,763.3L454.4,764.8L455.8,766.2L457.3,767.5L459,768.5L460.8,769.3L462.7,770L464.6,770.5L466.5,771.1L468.4,771.7L470.3,772.3L472.2,772.9L474.1,773.6L476,774.3L477.9,775L479.7,775.8L481.5,776.7L483.2,777.7L484.9,778.8L486.5,779.9L488.1,781.2L489.6,782.4L491.1,783.8L492.6,785.1L494,786.5L495.4,787.9L496.9,789.3L498.4,790.7L499.9,791.9L501.6,793L503.3,794L505.1,794.9L507,795.6L508.8,796.4L510.7,797.1L512.5,797.9L514.3,798.8L516.1,799.7L517.8,800.7L519.6,801.7L521.3,802.7L523,803.7L524.7,804.7L526.5,805.7L528.2,806.7L530,807.6L531.7,808.6L533.5,809.6L535.2,810.5L537,811.4L538.8,812.3L540.7,813.1L542.5,813.8L544.3,814.6L546.2,815.4L548,816.3L549.7,817.2L551.4,818.2L553.1,819.3L554.7,820.5L556.3,821.7L557.9,822.9L559.5,824.2L561,825.5L562.5,826.8L563.9,828.2L565.4,829.6L566.8,831L568.3,832.3L569.8,833.6L571.4,834.7L573.1,835.8L574.9,836.7L576.7,837.7L578.5,838.5L580.3,839.4L582.1,840.2L583.9,841.1L585.7,842L587.5,842.9L589.3,843.7L591.1,844.6L592.9,845.5L594.7,846.4L596.4,847.3L598.2,848.3L599.9,849.3L601.6,850.3L603.3,851.4L605,852.4L606.7,853.6L608.3,854.8L609.8,856L611.3,857.3L612.8,858.7L614.3,860L615.7,861.5L617.1,862.9L618.5,864.3L619.8,865.8L621.2,867.3L622.5,868.7L623.9,870.2L625.2,871.7L626.5,873.2L627.8,874.7L629.1,876.3L630.4,877.8L631.7,879.3L632.9,880.9L634.2,882.4L635.4,884L636.6,885.6L637.8,887.2L639,888.8L640.2,890.4L641.5,892L642.7,893.5L644,895.1L645.4,896.5L646.8,897.9L648.3,899.3L649.7,900.6L651.2,902L652.8,903.2L654.4,904.4L656,905.6L657.7,906.6L659.4,907.7L661.2,908.6L663,909.4L664.9,910.1L666.8,910.6L668.8,910.8L670.8,910.8L672.7,910.6L674.7,910.3L676.7,909.9L678.6,909.4L680.6,909L682.5,908.5L684.5,908L686.4,907.5L688.3,906.8L690.1,906.1L692,905.3L693.7,904.4L695.5,903.4L697.2,902.3L698.9,901.3L700.6,900.3L702.3,899.3L704.1,898.4L705.9,897.6L707.7,896.7L709.6,895.9L711.4,895L713.2,894.2L715,893.5L716.9,892.7L718.8,892L720.6,891.3L722.5,890.7L724.5,890.2L726.4,889.8L728.4,889.5L730.4,889.3L732.4,889.2L734.4,889L736.4,888.8L738.4,888.6L740.4,888.5L742.4,888.5L744.4,888.6L746.3,888.8L748.3,889.1L750.3,889.5L752.2,889.9L754.2,890.3L756.2,890.5L758.1,890.5L760.1,890.2L762,889.8L764,889.3L765.9,889L767.9,888.8L769.9,888.6L771.9,888.5L773.9,888.3L775.9,888.2L777.9,888.1L779.9,887.9L781.9,887.8L783.9,887.6L785.9,887.4L787.9,887.3L789.9,887.4L791.8,887.6L793.8,888L795.7,888.5L797.6,889.1L799.6,889.6L801.5,890.2L803.4,890.8L805.3,891.4L807.2,892L809.1,892.6L811,893.1L813,893.5L815,893.8L816.9,894.1L818.9,894.2L820.9,894.4L822.9,894.6L824.9,894.8L826.9,895.1L828.9,895.4L830.8,895.7L832.8,896L834.8,896.3L836.8,896.6L838.8,896.8L840.7,897L842.7,897.2L844.7,897.3L846.7,897.4L848.7,897.5L850.7,897.5L852.7,897.4L854.7,897.4L856.7,897.4L858.7,897.4L860.7,897.5L862.7,897.5L864.7,897.5L866.7,897.4L868.7,897.2L870.7,896.9L872.6,896.5L874.6,896.1L876.5,895.7L878.5,895.4L880.5,895.1L882.5,895L884.5,894.9L886.5,894.8L888.5,894.7L890.5,894.5L892.5,894.3L894.4,894L896.4,893.6L898.4,893.3L900.4,893.1L902.3,892.9L904.3,892.9L906.3,893.2L908.2,893.7L910,894.5L911.8,895.4L913.5,896.4L915.2,897.5L916.9,898.4L918.7,899.4L920.5,900.3L922.3,901.1L924.1,902L926,902.8L927.8,903.5L929.7,904.2L931.6,904.8L933.5,905.3L935.4,905.8L937.4,906.3L939.4,906.7L941.3,907L943.3,907.3L945.3,907.5L947.3,907.7L949.3,907.9L951.3,908L953.3,908.1L955.3,908.2L957.3,908.3L959.2,908.5L961.2,908.9L963.1,909.5L964.9,910.4L966.6,911.3L968.3,912.4L970,913.5L971.6,914.6L973.3,915.7L975,916.8L976.7,917.9L978.3,919L980,920L981.8,921L983.5,921.9L985.4,922.7L987.3,923.3L989.2,923.8L991.2,924.1L993.2,924.4L995.1,924.6L997.1,924.9L999.1,925L1001.1,925.2L1003.1,925.2L1005.1,924.9L1007,924.4L1008.8,923.7L1010.5,922.7L1012.2,921.6L1013.8,920.4L1015.5,919.4L1017.3,918.5L1019.1,917.9L1021.1,917.7L1023.1,917.6L1025.1,917.7L1027.1,917.9L1029.1,917.9L1031.1,917.9L1033.1,917.9L1035.1,917.9L1037.1,917.9L1039.1,918L1041,918.2L1043,918.4L1045,918.8L1046.9,919.2L1048.9,919.6L1050.8,920.1L1052.8,920.5L1054.7,921L1056.7,921.5L1058.6,921.9L1060.6,922.2L1062.6,922.4L1064.6,922.4L1066.6,922.2L1068.5,922L1070.5,921.7L1072.5,921.5L1074.5,921.3L1076.5,921.1L1078.5,921L1080.5,920.9L1082.5,920.8L1084.5,920.8L1086.5,920.9L1088.5,920.9L1090.5,921L1092.5,921.1L1094.5,921.2L1096.5,921.3L1098.5,921.3L1100.5,921.3L1102.5,921.2L1104.5,921L1106.4,920.8L1108.4,920.4L1110.4,920.1L1112.3,919.7L1114.3,919.2L1116.2,918.8L1118.2,918.3L1120.1,917.8L1122,917.3L1124,916.8L1125.9,916.3L1127.9,915.9L1129.8,915.4L1131.8,914.9L1133.7,914.3L1135.6,913.7L1137.4,912.9L1139.2,912.1L1141.1,911.3L1142.9,910.6L1144.8,910L1146.8,909.5L1148.7,909.3L1150.7,909.2L1152.7,909.1L1154.7,909.1L1156.7,909.1L1158.7,909L1160.7,908.9L1162.7,908.7L1164.7,908.6L1166.7,908.5L1168.7,908.5L1170.7,908.5L1172.7,908.5L1174.7,908.6L1176.7,908.8L1178.6,909.1L1180.6,909.6L1182.5,910.2L1184.3,910.9L1186.2,911.7L1188,912.5L1189.8,913.3L1191.7,914.1L1193.5,914.9L1195.4,915.6L1197.2,916.4L1199.1,917.1L1201,917.8L1202.9,918.4L1204.8,918.9L1206.7,919.4L1208.7,919.8L1210.6,920.3L1212.6,920.8L1214.5,921.4L1216.4,922L1218.3,922.7L1220.1,923.4L1222,924.1L1223.9,924.8L1225.8,925.5L1227.6,926.2L1229.5,927L1231.3,927.7L1233.2,928.5L1235,929.2L1236.9,930L1238.7,930.8L1240.6,931.5L1242.5,932.1L1244.4,932.6L1246.4,933L1248.3,933.5L1250.3,933.8L1252.3,934.1L1254.3,934.3L1256.3,934.4L1258.2,934.5L1260.2,934.5L1262.2,934.3L1264.2,934.1L1266.2,933.6L1268.1,933.1L1269.9,932.4L1271.8,931.6L1273.6,930.8L1275.4,929.9L1277.1,929L1278.9,927.9L1280.5,926.8L1282.2,925.7L1283.8,924.6L1285.4,923.4L1287,922.2L1288.6,921L1290.2,919.7L1291.8,918.5L1293.3,917.2L1294.9,916L1296.4,914.7L1298,913.4L1299.5,912.2L1301.1,911L1302.7,909.8L1304.3,908.6L1305.9,907.4L1307.6,906.2L1309.2,905.1L1310.9,904L1312.5,902.9L1314.3,901.9L1316,900.9L1317.8,900L1319.6,899.2L1321.4,898.3L1323.2,897.4L1325,896.5L1326.8,895.6L1328.5,894.6L1330.2,893.6L1331.9,892.5L1333.6,891.5L1335.3,890.4L1337,889.4L1338.8,888.4L1340.5,887.4L1342.3,886.5L1344.1,885.6L1345.9,884.7L1347.7,884.1L1349.7,883.7L1351.6,883.6L1353.6,883.8" stroke="#EDB120"/>
<path d="M149.50,160.00L149.60,161.00L149.70,161.99L149.80,162.99L149.90,163.98L150.00,164.97L150.10,165.97L150.20,166.96L150.30,167.96L150.40,168.95L150.50,169.95L150.60,170.94L150.71,171.94L150.81,172.93L150.91,173.93L151.01,174.92L151.11,175.92L151.21,176.91L151.31,177.91L151.41,178.90L151.52,179.90L151.62,180.89L151.72,181.89L151.82,182.88L151.92,183.88L152.02,184.87L152.12,185.87L152.22,186.86L152.33,187.86L152.43,188.85L152.53,189.85L152.63,190.84L152.73,191.84L152.83,192.83L152.93,193.83L153.03,194.82L153.14,195.82L153.24,196.81L153.34,197.81L153.44,198.80L153.54,199.80L153.64,200.79L153.74,201.79L153.84,202.78L153.95,203.77L154.05,204.77L154.15,205.76L154.25,206.76L154.35,207.75L154.45,208.75L154.55,209.74L154.65,210.74L154.75,211.73L154.85,212.73L154.96,213.72L155.06,214.72L155.16,215.71L155.26,216.71L155.36,217.70L155.46,218.70L155.56,219.69L155.66,220.69L155.76,221.68L155.86,222.68L155.96,223.67L156.06,224.67L156.16,225.66L156.26,226.66L156.37,227.65L156.47,228.65L156.57,229.64L156.67,230.64L156.77,231.63L156.87,232.63L156.97,233.62L157.07,234.62L157.17,235.61L157.27,236.61L157.37,237.60L157.47,238.60L157.57,239.59L157.67,240.59L157.77,241.58L157.87,242.58L157.97,243.57L158.07,244.57L158.17,245.56L158.27,246.56L158.37,247.55L158.47,248.55L158.57,249.54L158.66,250.54L158.76,251.53L158.86,252.53L158.96,253.52L159.06,254.52L159.16,255.51L159.26,256.51L159.36,257.50L159.46,258.50L159.56,259.49L159.66,260.49L159.75,261.48L159.85,262.48L159.95,263.47L160.05,264.47L160.15,265.46L160.25,266.46L160.35,267.45L160.44,268.45L160.54,269.44L160.64,270.44L160.74,271.43L160.84,272.43L160.93,273.43L161.03,274.42L161.13,275.42L161.23,276.41L161.32,277.41L161.42,278.40L161.52,279.40L161.62,280.39L161.71,281.39L161.81,282.38L161.91,283.38L162.00,284.37L162.10,285.37L162.20,286.36L162.29,287.36L162.39,288.35L162.48,289.35L162.58,290.35L162.67,291.34L162.77,292.34L162.87,293.33L162.96,294.33L163.06,295.32L163.15,296.32L163.25,297.31L163.34,298.31L163.43,299.30L163.53,300.30L163.62,301.30L163.72,302.29L163.81,303.29L163.90,304.28L164.00,305.28L164.09,306.27L164.18,307.27L164.28,308.27L164.37,309.26L164.46,310.26L164.56,311.25L164.65,312.25L164.74,313.24L164.84,314.24L164.93,315.23L165.02,316.23L165.11,317.23L165.21,318.22L165.30,319.22L165.39,320.21L165.48,321.21L165.57,322.20L165.67,323.20L165.76,324.20L165.85,325.19L165.94,326.19L166.03,327.18L166.12,328.18L166.22,329.18L166.31,330.17L166.40,331.17L166.49,332.16L166.58,333.16L166.67,334.15L166.76,335.15L166.85,336.15L166.94,337.14L167.04,338.14L167.13,339.13L167.22,340.13L167.31,341.13L167.40,342.12L167.49,343.12L167.58,344.11L167.67,345.11L167.76,346.11L167.85,347.10L167.94,348.10L168.03,349.09L168.12,350.09L168.21,351.09L168.30,352.08L168.38,353.08L168.47,354.07L168.56,355.07L168.65,356.07L168.74,357.06L168.83,358.06L168.92,359.05L169.01,360.05L169.10,361.05L169.18,362.04L169.27,363.04L169.36,364.03L169.45,365.03L169.54,366.03L169.63,367.02L169.71,368.02L169.80,369.01L169.89,370.01L169.98,371.01L170.07,372.00L170.15,373.00L170.24,373.99L170.33,374.99L170.42,375.99L170.50,376.98L170.59,377.98L170.68,378.98L170.76,379.97L170.85,380.97L170.94,381.96L171.02,382.96L171.11,383.96L171.20,384.95L171.28,385.95L171.37,386.95L171.46,387.94L171.54,388.94L171.63,389.93L171.71,390.93L171.80,391.93L171.89,392.92L171.97,393.92L172.06,394.92L172.14,395.91L172.23,396.91L172.31,397.91L172.40,398.90L172.48,399.90L172.57,400.89L172.65,401.89L172.74,402.89L172.82,403.88L172.91,404.88L172.99,405.88L173.08,406.87L173.16,407.87L173.24,408.87L173.33,409.86L173.41,410.86L173.50,411.86L173.58,412.85L173.66,413.85L173.75,414.84L173.83,415.84L173.91,416.84L174.00,417.83L174.08,418.83L174.16,419.83L174.24,420.82L174.33,421.82L174.41,422.82L174.49,423.81L174.57,424.81L174.66,425.81L174.74,426.80L174.82,427.80L174.90,428.80L174.98,429.79L175.06,430.79L175.15,431.79L175.23,432.78L175.31,433.78L175.39,434.78L175.47,435.77L175.55,436.77L175.62,437.77L175.70,438.76L175.78,439.76L175.86,440.76L175.94,441.76L176.01,442.75L176.09,443.75L176.17,444.75L176.25,445.74L176.32,446.74L176.40,447.74L176.47,448.74L176.55,449.73L176.62,450.73L176.70,451.73L176.77,452.72L176.85,453.72L176.92,454.72L177.00,455.72L177.07,456.71L177.14,457.71L177.22,458.71L177.29,459.70L177.36,460.70L177.44,461.70L177.51,462.70L177.58,463.69L177.65,464.69L177.72,465.69L177.80,466.69L177.87,467.68L177.94,468.68L178.01,469.68L178.08,470.68L178.15,471.67L178.22,472.67L178.29,473.67L178.36,474.67L178.43,475.66L178.50,476.66L178.57,477.66L178.64,478.66L178.71,479.65L178.78,480.65L178.85,481.65L178.92,482.65L178.99,483.64L179.06,484.64L179.13,485.64L179.20,486.64L179.27,487.63L179.34,488.63L179.41,489.63L179.48,490.63L179.55,491.63L179.62,492.62L179.68,493.62L179.75,494.62L179.82,495.62L179.89,496.61L179.96,497.61L180.03,498.61L180.10,499.61L180.17,500.60L180.24,501.60L180.31,502.60L180.38,503.60L180.45,504.59L180.52,505.59L180.59,506.59L180.66,507.59L180.73,508.58L180.80,509.58L180.87,510.58L180.94,511.58L181.01,512.57L181.08,513.57L181.15,514.57L181.22,515.57L181.29,516.56L181.37,517.56L181.44,518.56L181.51,519.56L181.58,520.55L181.66,521.55L181.73,522.55L181.81,523.55L181.88,524.54L181.96,525.54L182.03,526.54L182.11,527.53L182.19,528.53L182.26,529.53L182.34,530.52L182.42,531.52L182.50,532.52L182.58,533.52L182.66,534.51L182.74,535.51L182.82,536.51L182.91,537.50L182.99,538.50L183.08,539.49L183.17,540.49L183.26,541.49L183.35,542.48L183.45,543.48L183.55,544.47L183.65,545.47L183.76,546.46L183.86,547.46L183.97,548.45L184.08,549.44L184.19,550.44L184.29,551.43L184.39,552.43L184.49,553.42L184.59,554.42L184.68,555.41L184.77,556.41L184.87,557.41L184.96,558.40L185.05,559.40L185.14,560.39L185.23,561.39L185.31,562.39L185.40,563.38L185.49,564.38L185.57,565.37L185.66,566.37L185.75,567.37L185.83,568.36L185.91,569.36L186.00,570.36L186.08,571.35L186.17,572.35L186.25,573.35L186.33,574.34L186.42,575.34L186.50,576.33L186.58,577.33L186.66,578.33L186.74,579.32L186.83,580.32L186.91,581.32L186.99,582.31L187.07,583.31L187.15,584.31L187.23,585.30L187.31,586.30L187.39,587.30L187.48,588.29L187.56,589.29L187.64,590.29L187.72,591.29L187.80,592.28L187.88,593.28L187.96,594.28L188.04,595.27L188.12,596.27L188.20,597.27L188.28,598.26L188.36,599.26L188.44,600.26L188.52,601.25L188.60,602.25L188.68,603.25L188.76,604.24L188.84,605.24L188.92,606.24L189.00,607.23L189.08,608.23L189.16,609.23L189.23,610.22L189.31,611.22L189.39,612.22L189.47,613.21L189.55,614.21L189.63,615.21L189.71,616.21L189.79,617.20L189.87,618.20L189.95,619.20L190.03,620.19L190.11,621.19L190.19,622.19L190.27,623.18L190.35,624.18L190.42,625.18L190.50,626.17L190.58,627.17L190.66,628.17L190.74,629.16L190.82,630.16L190.90,631.16L190.98,632.16L191.06,633.15L191.14,634.15L191.22,635.15L191.30,636.14L191.37,637.14L191.45,638.14L191.53,639.13L191.61,640.13L191.69,641.13L191.77,642.12L191.85,643.12L191.93,644.12L192.01,645.11L192.09,646.11L192.16,647.11L192.24,648.11L192.32,649.10L192.40,650.10L192.48,651.10L192.56,652.09L192.64,653.09L192.72,654.09L192.80,655.08L192.88,656.08L192.95,657.08L193.03,658.07L193.11,659.07L193.19,660.07L193.27,661.06L193.35,662.06L193.43,663.06L193.51,664.06L193.59,665.05L193.66,666.05L193.74,667.05L193.82,668.04L193.90,669.04L193.98,670.04L194.06,671.03L194.14,672.03L194.22,673.03L194.30,674.02L194.37,675.02L194.45,676.02L194.53,677.01L194.61,678.01L194.69,679.01L194.77,680.01L194.85,681.00L194.93,682.00L195.01,683.00L195.09,683.99L195.16,684.99L195.24,685.99L195.32,686.98L195.40,687.98L195.48,688.98L195.56,689.97L195.64,690.97L195.72,691.97L195.80,692.96L195.88,693.96L195.95,694.96L196.03,695.96L196.11,696.95L196.19,697.95L196.27,698.95L196.35,699.94L196.43,700.94L196.51,701.94L196.59,702.93L196.67,703.93L196.75,704.93L196.82,705.92L196.90,706.92L196.98,707.92L197.06,708.91L197.14,709.91L197.22,710.91L197.30,711.91L197.38,712.90L197.46,713.90L197.54,714.90L197.62,715.89L197.70,716.89L197.78,717.89L197.86,718.88L197.93,719.88L198.01,720.88L198.09,721.87L198.17,722.87L198.25,723.87L198.33,724.86L198.41,725.86L198.49,726.86L198.57,727.85L198.65,728.85L198.73,729.85L198.81,730.85L198.89,731.84L198.97,732.84L199.05,733.84L199.13,734.83L199.21,735.83L199.29,736.83L199.37,737.82L199.45,738.82L199.53,739.82L199.61,740.81L199.69,741.81L199.77,742.81L199.85,743.80L199.93,744.80L200.01,745.80L200.09,746.79L200.17,747.79L200.25,748.79L200.33,749.78L200.41,750.78L200.49,751.78L200.57,752.77L200.65,753.77L200.73,754.77L200.81,755.76L200.89,756.76L200.97,757.76L201.05,758.76L201.13,759.75L201.21,760.75L201.30,761.75L201.38,762.74L201.46,763.74L201.54,764.74L201.62,765.73L201.70,766.73L201.78,767.73L201.86,768.72L201.95,769.72L202.03,770.72L202.11,771.71L202.19,772.71L202.28,773.71L202.36,774.70L202.44,775.70L202.52,776.69L202.61,777.69L202.69,778.69L202.77,779.68L202.86,780.68L202.94,781.68L203.03,782.67L203.11,783.67L203.19,784.67L203.28,785.66L203.36,786.66L203.45,787.66L203.53,788.65L203.62,789.65L203.70,790.65L203.79,791.64L203.87,792.64L203.96,793.63L204.04,794.63L204.13,795.63L204.22,796.62L204.30,797.62L204.39,798.62L204.48,799.61L204.57,800.61L204.66,801.60L204.76,802.60L204.86,803.59L204.96,804.59L205.09,805.58L205.24,806.57L205.41,807.55L205.57,808.54L205.71,809.53L205.85,810.52L205.98,811.51L206.11,812.50L206.23,813.50L206.36,814.49L206.48,815.48L206.59,816.47L206.71,817.47L206.82,818.46L206.94,819.46L207.05,820.45L207.16,821.44L207.26,822.44L207.36,823.43L207.46,824.43L207.56,825.42L207.66,826.42L207.75,827.41L207.84,828.41L207.93,829.41L208.02,830.40L208.11,831.40L208.19,832.39L208.28,833.39L208.37,834.39L208.45,835.38L208.54,836.38L208.62,837.38L208.70,838.37L208.79,839.37L208.87,840.37L208.95,841.36L209.03,842.36L209.11,843.36L209.19,844.35L209.28,845.35L209.36,846.35L209.44,847.34L209.52,848.34L209.60,849.34L209.68,850.33L209.76,851.33L209.84,852.33L209.92,853.32L210.00,854.32L210.08,855.32L210.16,856.31L210.24,857.31L210.33,858.31L210.41,859.30L210.49,860.30L210.57,861.30L210.65,862.29L210.73,863.29L210.82,864.29L210.90,865.28L210.98,866.28L211.06,867.28L211.15,868.27L211.23,869.27L211.31,870.27L211.40,871.26L211.48,872.26L211.57,873.25L211.65,874.25L211.74,875.25L211.83,876.24L211.91,877.24L212.00,878.24L212.09,879.23L212.18,880.23L212.27,881.22L212.36,882.22L212.45,883.22L212.54,884.21L212.63,885.21L212.72,886.20L212.82,887.20L212.91,888.19L213.00,889.19L213.10,890.19L213.20,891.18L213.30,892.18L213.39,893.17L213.49,894.17L213.60,895.16L213.70,896.16L213.80,897.15L213.91,898.14L214.01,899.14L214.12,900.13L214.23,901.13L214.34,902.12L214.46,903.11L214.57,904.11L214.69,905.10L214.81,906.09L214.93,907.09L215.06,908.08L215.18,909.07L215.31,910.06L215.45,911.05L215.59,912.04L215.73,913.03L215.88,914.02L216.03,915.01L216.19,916.00L216.35,916.98L216.52,917.97L216.71,918.95L216.90,919.93L217.11,920.91L217.33,921.89L217.58,922.85L217.86,923.81L218.19,924.76L218.62,925.66L219.35,926.30L220.15,925.76L220.63,924.89L221.01,923.97L221.34,923.02L221.63,922.06L221.89,921.10L222.14,920.13L222.37,919.16L222.59,918.18L222.81,917.21L223.01,916.23L223.21,915.25L223.40,914.27L223.59,913.28L223.77,912.30L223.95,911.32L224.12,910.33L224.29,909.35L224.46,908.36L224.62,907.37L224.79,906.39L224.95,905.40L225.10,904.41L225.26,903.42L225.41,902.44L225.57,901.45L225.72,900.46L225.86,899.47L226.01,898.48L226.16,897.49L226.30,896.50L226.45,895.51L226.59,894.52L226.73,893.53L226.87,892.54L227.01,891.55L227.15,890.56L227.29,889.57L227.42,888.58L227.56,887.59L227.69,886.60L227.83,885.61L227.96,884.62L228.10,883.63L228.23,882.64L228.36,881.65L228.50,880.65L228.63,879.66L228.76,878.67L228.89,877.68L229.02,876.69L229.15,875.70L229.28,874.71L229.41,873.71L229.54,872.72L229.67,871.73L229.80,870.74L229.93,869.75L230.06,868.76L230.19,867.76L230.32,866.77L230.45,865.78L230.58,864.79L230.71,863.80L230.83,862.81L230.96,861.82L231.09,860.82L231.22,859.83L231.35,858.84L231.48,857.85L231.61,856.86L231.74,855.87L231.87,854.87L232.00,853.88L232.13,852.89L232.26,851.90L232.39,850.91L232.53,849.92L232.66,848.93L232.79,847.93L232.92,846.94L233.06,845.95L233.19,844.96L233.33,843.97L233.46,842.98L233.60,841.99L233.74,841.00L233.87,840.01L234.01,839.02L234.15,838.03L234.29,837.04L234.43,836.05L234.58,835.06L234.72,834.07L234.87,833.08L235.01,832.09L235.16,831.10L235.31,830.11L235.47,829.12L235.62,828.14L235.78,827.15L235.94,826.16L236.10,825.17L236.26,824.19L236.43,823.20L236.60,822.22L236.78,821.23L236.96,820.25L237.14,819.27L237.33,818.28L237.51,817.30L237.70,816.32L237.89,815.34L238.08,814.36L238.27,813.37L238.46,812.39L238.66,811.41L238.85,810.43L239.05,809.45L239.25,808.47L239.45,807.49L239.65,806.51L239.85,805.53L240,804.6L240.5,802.6L240.9,800.6L241.3,798.7L241.7,796.7L242.1,794.8L242.6,792.8L243,790.9L243.4,788.9L243.9,787L244.3,785L244.8,783.1L245.2,781.1L245.7,779.2L246.1,777.2L246.6,775.3L247,773.3L247.5,771.4L248,769.4L248.4,767.5L248.9,765.5L249.3,763.6L249.8,761.6L250.3,759.7L250.7,757.8L251.2,755.8L251.6,753.9L252,751.9L252.5,749.9L252.9,748L253.3,746L253.7,744.1L254.1,742.1L254.6,740.2L255,738.2L255.4,736.3L255.8,734.3L256.3,732.4L256.8,730.4L257.4,728.5L258,726.6L258.6,724.7L259.2,722.8L259.9,720.9L260.6,719.1L261.4,717.2L262.1,715.3L262.9,713.5L263.6,711.6L264.4,709.8L265.2,707.9L265.9,706.1L266.6,704.2L267.3,702.4L268,700.5L268.6,698.6L269.2,696.7L269.8,694.7L270.3,692.8L270.9,690.9L271.5,689L272.1,687.1L272.8,685.2L273.6,683.4L274.5,681.6L275.3,679.8L276.2,678L277.2,676.2L278.1,674.5L279.1,672.7L280.1,671L281.2,669.3L282.2,667.6L283.3,665.9L284.4,664.3L285.6,662.7L286.9,661.1L288.1,659.6L289.5,658.1L290.8,656.6L292.2,655.2L293.8,653.9L295.4,653L297.3,652.5L299.2,652.5L301.1,652.9L302.8,653.8L304.5,654.8L306.1,656L307.7,657.3L309.1,658.6L310.5,660.1L311.8,661.6L313.1,663.1L314.4,664.7L315.6,666.2L316.8,667.8L318.1,669.4L319.3,671L320.5,672.6L321.6,674.2L322.8,675.8L323.9,677.5L325,679.2L326.1,680.9L327.1,682.6L328.1,684.3L329.1,686L330.1,687.8L331.1,689.5L332.1,691.3L333,693L333.9,694.8L334.8,696.6L335.6,698.4L336.5,700.2L337.3,702.1L338.1,703.9L338.9,705.7L339.6,707.6L340.4,709.4L341.2,711.3L341.9,713.1L342.6,715L343.4,716.9L344.1,718.7L344.8,720.6L345.5,722.5L346.2,724.4L346.8,726.2L347.5,728.1L348.1,730L348.8,731.9L349.4,733.8L350,735.7L350.6,737.6L351.2,739.5L351.8,741.4L352.4,743.3L353.1,745.2L353.6,747.2L354.2,749.1L354.8,751L355.4,752.9L355.9,754.8L356.5,756.7L357.1,758.7L357.7,760.6L358.3,762.5L358.9,764.4L359.5,766.3L360.1,768.2L360.8,770.1L361.4,772L362.1,773.8L362.8,775.7L363.5,777.6L364.2,779.5L364.9,781.3L365.7,783.2L366.4,785L367.1,786.9L367.8,788.8L368.5,790.6L369.2,792.5L369.9,794.4L370.6,796.3L371.2,798.2L371.8,800.1L372.4,802L373,803.9L373.6,805.8L374.2,807.7L374.9,809.6L375.6,811.5L376.4,813.3L377.3,815.1L378.2,816.9L379.1,818.7L380,820.4L381,822.2L382,823.9L383.1,825.6L384.2,827.3L385.3,828.9L386.5,830.5L387.8,832L389.1,833.5L390.5,835L391.8,836.5L393.2,837.9L394.6,839.4L396,840.8L397.4,842.2L398.9,843.6L400.4,844.9L401.9,846.1L403.6,847.3L405.2,848.4L407,849.4L408.8,850.3L410.6,851.1L412.4,852L414.2,852.8L416,853.6L417.9,854.3L419.8,854.8L421.7,855.1L423.7,855L425.6,854.5L427.4,853.8L429.2,852.9L431,852L432.8,851.2L434.7,850.5L436.6,849.9L438.5,849.4L440.5,849L442.4,848.7L444.4,848.4L446.4,848.3L448.4,848.3L450.4,848.4L452.4,848.4L454.4,848.4L456.4,848.3L458.4,848L460.3,847.6L462.1,846.8L463.8,845.8L465.4,844.6L466.8,843.3L468.2,841.8L469.6,840.4L470.9,838.9L472.3,837.4L473.7,836L475.1,834.6L476.5,833.2L477.9,831.8L479.4,830.3L480.8,828.9L482.2,827.5L483.6,826.1L485,824.7L486.4,823.2L487.8,821.8L489.1,820.3L490.5,818.9L491.9,817.5L493.4,816.1L494.9,814.7L496.4,813.4L497.9,812.2L499.5,811L501.2,809.9L502.9,809L504.8,808.3L506.7,807.8L508.7,807.5L510.7,807.4L512.7,807.4L514.6,807.6L516.6,807.9L518.6,808.3L520.5,808.8L522.4,809.5L524.2,810.2L526.1,811L527.9,811.8L529.7,812.7L531.5,813.5L533.3,814.4L535.1,815.2L536.9,816.1L538.7,817L540.5,818L542.3,818.9L544,819.9L545.7,820.9L547.4,822L549.1,823.1L550.7,824.2L552.4,825.3L554.1,826.3L555.9,827.1L557.8,827.8L559.7,828.3L561.7,828.7L563.6,829.2L565.6,829.7L567.5,830.2L569.4,830.7L571.4,831.3L573.3,831.8L575.2,832.4L577.1,833L579,833.6L580.9,834.2L582.8,834.9L584.6,835.8L586.4,836.7L588.1,837.7L589.8,838.7L591.5,839.8L593.2,840.8L595,841.8L596.8,842.6L598.6,843.4L600.4,844.2L602.3,845L604.1,845.7L606,846.5L607.8,847.3L609.6,848.2L611.4,849.1L613.2,850L615,850.9L616.7,851.8L618.5,852.7L620.3,853.6L622.1,854.5L623.9,855.3L625.8,856.1L627.6,856.9L629.4,857.7L631.3,858.4L633.1,859.2L634.9,860.1L636.7,861L638.3,862L639.9,863L641.7,863.8L643.6,864.5L645.5,865L647.4,865.5L649.4,866L651.3,866.6L653.2,867.2L655.1,867.8L657,868.5L658.9,869.1L660.8,869.8L662.7,870.4L664.6,870.9L666.5,871.4L668.5,871.8L670.4,872.2L672.4,872.8L674.3,873.4L676.1,874.2L677.9,875.1L679.6,876L681.4,877L683.1,878L684.8,879L686.6,880L688.4,880.9L690.1,881.8L691.9,882.7L693.7,883.6L695.5,884.5L697.3,885.3L699.2,886.1L701.1,886.8L702.9,887.5L704.8,888.2L706.6,889L708.3,890L710,891.1L711.6,892.2L713.3,893.3L715.1,894.2L716.9,895.1L718.6,896L720.4,896.9L722.2,897.8L724,898.7L725.8,899.6L727.6,900.5L729.4,901.4L731.2,902.2L733,903.1L734.8,903.9L736.6,904.8L738.4,905.8L740,906.9L741.6,908L743.2,909.3L744.7,910.6L746.2,912L747.6,913.4L749,914.8L750.3,916.3L751.5,917.9L752.7,919.5L753.9,921.1L755,922.7L756.2,924.4L757.4,926L758.7,927.5L760,929L761.3,930.5L762.7,931.9L764.2,933.3L765.7,934.6L767.2,935.9L768.8,937L770.5,938.1L772.3,939L774.1,939.7L776.1,940.1L778,940L780,939.7L781.9,939.1L783.7,938.5L785.6,937.7L787.4,937L789.3,936.1L791.1,935.3L793,934.6L794.9,934.1L796.8,933.9L798.8,933.7L800.8,933.6L802.8,933.3L804.8,933L806.8,932.7L808.7,932.4L810.7,932.1L812.7,931.9L814.7,931.6L816.7,931.4L818.6,931.2L820.6,931L822.6,930.9L824.6,930.8L826.6,930.8L828.6,930.8L830.6,930.8L832.6,930.8L834.6,930.8L836.6,930.7L838.6,930.6L840.6,930.4L842.6,930.3L844.6,930.3L846.6,930.3L848.6,930.3L850.6,930.4L852.6,930.6L854.6,930.7L856.6,930.8L858.6,930.8L860.6,930.8L862.6,930.8L864.6,930.8L866.6,930.8L868.6,930.8L870.6,930.9L872.6,931L874.6,931.1L876.6,931.2L878.6,931.4L880.6,931.6L882.5,931.8L884.5,932.1L886.5,932.4L888.5,932.7L890.5,933L892.4,933.3L894.4,933.6L896.4,933.9L898.4,934.2L900.3,934.5L902.3,934.9L904.3,935.3L906.2,935.7L908.1,936.2L910,936.9L911.8,937.8L913.5,938.8L915.2,939.9L916.8,941L918.5,942L920.3,943L922.1,943.8L924,944.5L925.9,945.2L927.8,945.8L929.7,946.3L931.7,946.7L933.6,947.1L935.6,947.4L937.6,947.4L939.5,947.2L941.5,946.7L943.4,946.1L945.2,945.2L946.9,944.3L948.6,943.1L950.1,941.9L951.6,940.6L953.1,939.2L954.5,937.8L956,936.5L957.5,935.1L959,933.8L960.5,932.5L962,931.2L963.5,929.9L965,928.5L966.4,927.1L967.8,925.7L969.2,924.3L970.6,922.8L972,921.5L973.6,920.2L975.2,919.1L977,918.1L978.8,917.2L980.6,916.5L982.5,915.8L984.4,915.2L986.3,914.6L988.2,914.1L990.2,913.7L992.1,913.3L994.1,912.8L996,912.4L998,912L1000,911.6L1001.9,911.4L1003.9,911.4L1005.9,911.7L1007.8,912.1L1009.7,912.8L1011.5,913.6L1013.3,914.4L1015,915.4L1016.7,916.5L1018.3,917.8L1019.8,919.1L1021.3,920.4L1022.8,921.7L1024.3,923L1026,924L1027.8,924.8L1029.7,925.2L1031.7,925.3L1033.7,925.2L1035.7,925L1037.6,924.7L1039.6,924.5L1041.6,924.1L1043.6,923.8L1045.5,923.4L1047.5,923.2L1049.5,923.1L1051.5,923.3L1053.5,923.6L1055.4,923.9L1057.4,924.4L1059.3,924.9L1061.2,925.5L1063.1,926.2L1065,926.9L1066.8,927.6L1068.7,928.2L1070.6,928.8L1072.6,929.2L1074.6,929.5L1076.5,929.6L1078.5,929.8L1080.5,930L1082.5,930.3L1084.4,930.7L1086.4,931.3L1088.3,931.9L1090.2,932.5L1092.1,933.1L1094,933.6L1096,934L1097.9,934.3L1099.9,934.6L1101.9,934.8L1103.9,935.2L1105.8,935.5L1107.8,935.8L1109.8,936.1L1111.8,936.3L1113.8,936.3L1115.8,936.2L1117.7,935.9L1119.7,935.5L1121.6,935L1123.5,934.4L1125.4,933.7L1127.2,932.9L1129.1,932.1L1130.9,931.2L1132.6,930.3L1134.4,929.3L1136.1,928.4L1137.8,927.3L1139.5,926.3L1141.2,925.2L1142.9,924.1L1144.6,923L1146.3,922.1L1148.2,921.4L1150.1,920.8L1152,920.4L1154,920.2L1156,920L1158,919.8L1160,919.6L1162,919.4L1164,919.1L1165.9,918.9L1167.9,918.5L1169.8,918L1171.7,917.3L1173.5,916.5L1175.3,915.7L1177.1,914.7L1178.8,913.8L1180.6,912.8L1182.4,911.9L1184.2,911L1185.9,910.1L1187.7,909.1L1189.5,908.3L1191.3,907.4L1193.2,906.7L1195.1,906L1197,905.4L1198.9,904.9L1200.8,904.3L1202.7,903.7L1204.6,903.1L1206.5,902.4L1208.3,901.6L1210.2,900.8L1212,900.1L1213.9,899.4L1215.8,898.9L1217.8,898.4L1219.7,898L1221.7,897.6L1223.7,897.2L1225.6,896.8L1227.6,896.5L1229.5,896.1L1231.5,895.7L1233.5,895.3L1235.4,895L1237.4,894.6L1239.4,894.3L1241.4,894.1L1243.4,893.9L1245.4,893.7L1247.3,893.4L1249.3,893L1251.2,892.6L1253.1,892L1255,891.4L1256.9,890.7L1258.8,890L1260.7,889.2L1262.5,888.5L1264.4,887.8L1266.2,887L1268.1,886.2L1269.9,885.4L1271.8,884.7L1273.7,884.1L1275.6,883.6L1277.5,883.1L1279.5,882.8L1281.5,882.5L1283.5,882.3L1285.5,882.1L1287.5,882L1289.4,882L1291.4,882L1293.4,882.1L1295.4,882.2L1297.4,882.4L1299.4,882.7L1301.4,883L1303.3,883.4L1305.3,883.9L1307.2,884.5L1309,885.2L1310.8,886.1L1312.6,887L1314.3,888L1316.1,889L1317.8,890L1319.5,891L1321.3,892L1323.1,892.9L1324.8,893.8L1326.6,894.8L1328.3,895.8L1330,896.8L1331.6,898L1333.2,899.3L1334.7,900.6L1336.2,901.9L1337.6,903.3L1339.1,904.6L1340.7,905.9L1342.2,907.1L1343.9,908.3L1345.5,909.4L1347.3,910.3L1349.1,911L1351,911.5L1353,911.9L1354,912.0" stroke="#77AC30"/>
<path d="M149.50,197.00L149.57,198.00L149.64,199.00L149.70,199.99L149.77,200.99L149.84,201.99L149.90,202.99L149.97,203.98L150.03,204.98L150.10,205.98L150.16,206.98L150.23,207.98L150.29,208.97L150.36,209.97L150.42,210.97L150.49,211.97L150.55,212.97L150.62,213.96L150.68,214.96L150.75,215.96L150.81,216.96L150.88,217.95L150.94,218.95L151.01,219.95L151.07,220.95L151.14,221.95L151.20,222.94L151.27,223.94L151.33,224.94L151.40,225.94L151.46,226.94L151.53,227.93L151.59,228.93L151.66,229.93L151.72,230.93L151.79,231.93L151.85,232.92L151.92,233.92L151.98,234.92L152.05,235.92L152.11,236.91L152.18,237.91L152.25,238.91L152.31,239.91L152.38,240.91L152.45,241.90L152.51,242.90L152.58,243.90L152.64,244.90L152.71,245.89L152.78,246.89L152.85,247.89L152.91,248.89L152.98,249.89L153.05,250.88L153.11,251.88L153.18,252.88L153.25,253.88L153.32,254.87L153.39,255.87L153.45,256.87L153.52,257.87L153.59,258.86L153.66,259.86L153.73,260.86L153.80,261.86L153.87,262.86L153.94,263.85L154.01,264.85L154.08,265.85L154.15,266.85L154.22,267.84L154.29,268.84L154.36,269.84L154.43,270.84L154.50,271.83L154.57,272.83L154.64,273.83L154.71,274.83L154.78,275.82L154.86,276.82L154.93,277.82L155.00,278.82L155.07,279.81L155.14,280.81L155.22,281.81L155.29,282.80L155.36,283.80L155.44,284.80L155.51,285.80L155.59,286.79L155.66,287.79L155.74,288.79L155.81,289.79L155.89,290.78L155.96,291.78L156.04,292.78L156.12,293.77L156.19,294.77L156.27,295.77L156.35,296.76L156.42,297.76L156.50,298.76L156.58,299.76L156.66,300.75L156.74,301.75L156.82,302.75L156.90,303.74L156.98,304.74L157.06,305.74L157.14,306.73L157.22,307.73L157.30,308.73L157.38,309.72L157.47,310.72L157.55,311.72L157.63,312.71L157.71,313.71L157.80,314.71L157.88,315.70L157.96,316.70L158.05,317.70L158.13,318.69L158.22,319.69L158.30,320.68L158.39,321.68L158.47,322.68L158.56,323.67L158.64,324.67L158.73,325.67L158.81,326.66L158.90,327.66L158.98,328.66L159.07,329.65L159.15,330.65L159.24,331.64L159.33,332.64L159.41,333.64L159.50,334.63L159.59,335.63L159.67,336.63L159.76,337.62L159.85,338.62L159.94,339.61L160.02,340.61L160.11,341.61L160.20,342.60L160.29,343.60L160.37,344.60L160.46,345.59L160.55,346.59L160.64,347.58L160.73,348.58L160.82,349.58L160.90,350.57L160.99,351.57L161.08,352.56L161.17,353.56L161.26,354.56L161.35,355.55L161.43,356.55L161.52,357.54L161.61,358.54L161.70,359.54L161.79,360.53L161.88,361.53L161.97,362.52L162.06,363.52L162.15,364.52L162.24,365.51L162.32,366.51L162.41,367.50L162.50,368.50L162.59,369.50L162.68,370.49L162.77,371.49L162.86,372.48L162.95,373.48L163.04,374.48L163.13,375.47L163.22,376.47L163.31,377.46L163.39,378.46L163.48,379.46L163.57,380.45L163.66,381.45L163.75,382.44L163.84,383.44L163.93,384.44L164.02,385.43L164.11,386.43L164.20,387.43L164.28,388.42L164.37,389.42L164.46,390.41L164.55,391.41L164.64,392.41L164.73,393.40L164.82,394.40L164.91,395.39L164.99,396.39L165.08,397.39L165.17,398.38L165.26,399.38L165.35,400.37L165.43,401.37L165.52,402.37L165.61,403.36L165.70,404.36L165.79,405.35L165.87,406.35L165.96,407.35L166.05,408.34L166.13,409.34L166.22,410.34L166.31,411.33L166.39,412.33L166.48,413.32L166.57,414.32L166.65,415.32L166.74,416.31L166.83,417.31L166.91,418.31L167.00,419.30L167.08,420.30L167.17,421.29L167.25,422.29L167.34,423.29L167.42,424.28L167.50,425.28L167.59,426.28L167.67,427.27L167.76,428.27L167.84,429.27L167.92,430.26L168.00,431.26L168.09,432.26L168.17,433.25L168.25,434.25L168.33,435.25L168.41,436.24L168.50,437.24L168.58,438.24L168.66,439.23L168.74,440.23L168.82,441.23L168.90,442.22L168.98,443.22L169.06,444.22L169.14,445.21L169.22,446.21L169.30,447.21L169.38,448.20L169.46,449.20L169.54,450.20L169.62,451.19L169.70,452.19L169.77,453.19L169.85,454.19L169.93,455.18L170.01,456.18L170.09,457.18L170.16,458.17L170.24,459.17L170.32,460.17L170.40,461.16L170.48,462.16L170.55,463.16L170.63,464.16L170.71,465.15L170.78,466.15L170.86,467.15L170.94,468.14L171.01,469.14L171.09,470.14L171.17,471.13L171.24,472.13L171.32,473.13L171.40,474.13L171.47,475.12L171.55,476.12L171.63,477.12L171.70,478.11L171.78,479.11L171.85,480.11L171.93,481.11L172.01,482.10L172.08,483.10L172.16,484.10L172.23,485.09L172.31,486.09L172.38,487.09L172.46,488.09L172.53,489.08L172.61,490.08L172.69,491.08L172.76,492.07L172.84,493.07L172.91,494.07L172.99,495.07L173.06,496.06L173.14,497.06L173.21,498.06L173.29,499.05L173.37,500.05L173.44,501.05L173.52,502.05L173.59,503.04L173.67,504.04L173.74,505.04L173.82,506.03L173.90,507.03L173.97,508.03L174.05,509.03L174.13,510.02L174.20,511.02L174.28,512.02L174.36,513.01L174.43,514.01L174.51,515.01L174.59,516.00L174.66,517.00L174.74,518.00L174.82,519.00L174.90,519.99L174.98,520.99L175.06,521.99L175.13,522.98L175.21,523.98L175.29,524.98L175.37,525.97L175.45,526.97L175.53,527.97L175.62,528.96L175.70,529.96L175.78,530.96L175.86,531.95L175.94,532.95L176.03,533.95L176.11,534.94L176.19,535.94L176.28,536.94L176.36,537.93L176.45,538.93L176.53,539.93L176.62,540.92L176.71,541.92L176.79,542.91L176.88,543.91L176.97,544.91L177.06,545.90L177.15,546.90L177.23,547.89L177.32,548.89L177.41,549.89L177.51,550.88L177.60,551.88L177.69,552.87L177.78,553.87L177.87,554.87L177.97,555.86L178.06,556.86L178.15,557.85L178.25,558.85L178.34,559.84L178.44,560.84L178.53,561.83L178.62,562.83L178.72,563.83L178.81,564.82L178.91,565.82L179.00,566.81L179.10,567.81L179.19,568.80L179.28,569.80L179.38,570.79L179.47,571.79L179.56,572.79L179.65,573.78L179.74,574.78L179.83,575.77L179.92,576.77L180.01,577.77L180.09,578.76L180.18,579.76L180.26,580.75L180.35,581.75L180.43,582.75L180.52,583.74L180.60,584.74L180.69,585.74L180.77,586.73L180.86,587.73L180.94,588.73L181.02,589.72L181.10,590.72L181.18,591.72L181.26,592.71L181.34,593.71L181.42,594.71L181.50,595.70L181.57,596.70L181.65,597.70L181.73,598.70L181.81,599.69L181.88,600.69L181.96,601.69L182.04,602.68L182.12,603.68L182.19,604.68L182.27,605.67L182.35,606.67L182.43,607.67L182.51,608.66L182.59,609.66L182.66,610.66L182.74,611.66L182.82,612.65L182.90,613.65L182.98,614.65L183.06,615.64L183.13,616.64L183.21,617.64L183.29,618.63L183.37,619.63L183.45,620.63L183.53,621.62L183.61,622.62L183.68,623.62L183.76,624.62L183.84,625.61L183.92,626.61L184.00,627.61L184.07,628.60L184.15,629.60L184.23,630.60L184.31,631.59L184.38,632.59L184.46,633.59L184.54,634.59L184.62,635.58L184.69,636.58L184.77,637.58L184.85,638.57L184.92,639.57L185.00,640.57L185.08,641.56L185.16,642.56L185.23,643.56L185.31,644.56L185.39,645.55L185.46,646.55L185.54,647.55L185.62,648.54L185.69,649.54L185.77,650.54L185.85,651.53L185.93,652.53L186.00,653.53L186.08,654.53L186.16,655.52L186.23,656.52L186.31,657.52L186.39,658.51L186.46,659.51L186.54,660.51L186.62,661.51L186.69,662.50L186.77,663.50L186.85,664.50L186.92,665.49L187.00,666.49L187.08,667.49L187.15,668.48L187.23,669.48L187.31,670.48L187.38,671.48L187.46,672.47L187.54,673.47L187.61,674.47L187.69,675.46L187.77,676.46L187.85,677.46L187.92,678.46L188.00,679.45L188.08,680.45L188.15,681.45L188.23,682.44L188.31,683.44L188.38,684.44L188.46,685.43L188.54,686.43L188.61,687.43L188.69,688.43L188.77,689.42L188.85,690.42L188.92,691.42L189.00,692.41L189.08,693.41L189.15,694.41L189.23,695.40L189.31,696.40L189.39,697.40L189.46,698.40L189.54,699.39L189.62,700.39L189.69,701.39L189.77,702.38L189.85,703.38L189.93,704.38L190.00,705.37L190.08,706.37L190.16,707.37L190.24,708.37L190.31,709.36L190.39,710.36L190.47,711.36L190.55,712.35L190.62,713.35L190.70,714.35L190.78,715.34L190.86,716.34L190.94,717.34L191.01,718.34L191.09,719.33L191.17,720.33L191.25,721.33L191.33,722.32L191.40,723.32L191.48,724.32L191.56,725.31L191.64,726.31L191.72,727.31L191.79,728.30L191.87,729.30L191.95,730.30L192.03,731.30L192.11,732.29L192.19,733.29L192.27,734.29L192.34,735.28L192.42,736.28L192.50,737.28L192.58,738.27L192.66,739.27L192.74,740.27L192.82,741.26L192.90,742.26L192.98,743.26L193.05,744.26L193.13,745.25L193.21,746.25L193.29,747.25L193.37,748.24L193.45,749.24L193.53,750.24L193.61,751.23L193.69,752.23L193.77,753.23L193.85,754.22L193.93,755.22L194.01,756.22L194.10,757.21L194.18,758.21L194.26,759.21L194.34,760.20L194.42,761.20L194.50,762.20L194.58,763.19L194.66,764.19L194.75,765.19L194.83,766.18L194.91,767.18L194.99,768.18L195.08,769.17L195.16,770.17L195.24,771.17L195.33,772.16L195.41,773.16L195.50,774.16L195.58,775.15L195.67,776.15L195.75,777.14L195.84,778.14L195.92,779.14L196.01,780.13L196.10,781.13L196.19,782.13L196.28,783.12L196.37,784.12L196.45,785.11L196.54,786.11L196.63,787.11L196.72,788.10L196.82,789.10L196.91,790.09L197.00,791.09L197.09,792.08L197.19,793.08L197.29,794.08L197.38,795.07L197.48,796.07L197.59,797.06L197.69,798.05L197.80,799.05L197.92,800.04L198.04,801.03L198.17,802.03L198.32,803.01L198.48,804.00L198.66,804.99L198.85,805.97L199.03,806.95L199.21,807.93L199.38,808.92L199.54,809.91L199.70,810.89L199.86,811.88L200.00,812.87L200.15,813.86L200.29,814.85L200.43,815.84L200.57,816.83L200.71,817.82L200.84,818.81L200.97,819.80L201.10,820.79L201.23,821.79L201.35,822.78L201.47,823.77L201.58,824.77L201.70,825.76L201.81,826.75L201.92,827.75L202.03,828.74L202.13,829.74L202.24,830.73L202.35,831.72L202.45,832.72L202.55,833.71L202.65,834.71L202.76,835.70L202.86,836.70L202.96,837.69L203.06,838.69L203.16,839.68L203.26,840.68L203.35,841.67L203.45,842.67L203.55,843.66L203.65,844.66L203.75,845.65L203.85,846.65L203.94,847.64L204.04,848.64L204.14,849.63L204.24,850.63L204.33,851.63L204.43,852.62L204.53,853.62L204.63,854.61L204.73,855.61L204.82,856.60L204.92,857.60L205.02,858.59L205.12,859.59L205.22,860.58L205.32,861.58L205.42,862.57L205.52,863.57L205.62,864.56L205.72,865.56L205.82,866.55L205.92,867.55L206.02,868.54L206.12,869.54L206.23,870.53L206.33,871.53L206.43,872.52L206.54,873.51L206.64,874.51L206.75,875.50L206.85,876.50L206.96,877.49L207.06,878.49L207.17,879.48L207.28,880.47L207.39,881.47L207.50,882.46L207.61,883.46L207.72,884.45L207.84,885.44L207.95,886.44L208.07,887.43L208.18,888.42L208.30,889.42L208.42,890.41L208.54,891.40L208.66,892.40L208.79,893.39L208.91,894.38L209.04,895.37L209.17,896.36L209.30,897.35L209.43,898.35L209.56,899.34L209.70,900.33L209.84,901.32L209.98,902.31L210.13,903.30L210.28,904.28L210.43,905.27L210.59,906.26L210.75,907.25L210.92,908.23L211.10,909.22L211.28,910.20L211.46,911.18L211.66,912.16L211.87,913.14L212.09,914.12L212.33,915.09L212.60,916.05L212.89,917.01L213.24,917.94L213.69,918.84L214.41,919.49L215.23,919.00L215.72,918.14L216.11,917.21L216.43,916.27L216.72,915.31L216.99,914.35L217.23,913.38L217.46,912.40L217.68,911.43L217.89,910.45L218.09,909.47L218.29,908.49L218.48,907.51L218.66,906.53L218.84,905.54L219.01,904.56L219.18,903.57L219.35,902.59L219.51,901.60L219.67,900.61L219.83,899.62L219.98,898.64L220.14,897.65L220.29,896.66L220.44,895.67L220.58,894.68L220.73,893.69L220.87,892.70L221.02,891.71L221.16,890.72L221.30,889.73L221.43,888.74L221.57,887.75L221.71,886.76L221.84,885.77L221.98,884.78L222.11,883.79L222.24,882.80L222.37,881.81L222.50,880.81L222.63,879.82L222.76,878.83L222.89,877.84L223.02,876.85L223.15,875.86L223.27,874.86L223.40,873.87L223.53,872.88L223.65,871.89L223.78,870.90L223.90,869.90L224.03,868.91L224.15,867.92L224.28,866.93L224.40,865.93L224.52,864.94L224.65,863.95L224.77,862.96L224.89,861.96L225.02,860.97L225.14,859.98L225.26,858.99L225.38,858.00L225.51,857.00L225.63,856.01L225.75,855.02L225.88,854.03L226.00,853.03L226.12,852.04L226.25,851.05L226.37,850.06L226.49,849.06L226.62,848.07L226.74,847.08L226.87,846.09L226.99,845.09L227.12,844.10L227.24,843.11L227.37,842.12L227.50,841.13L227.62,840.14L227.75,839.14L227.88,838.15L228.01,837.16L228.14,836.17L228.27,835.18L228.41,834.19L228.54,833.20L228.68,832.20L228.81,831.21L228.95,830.22L229.09,829.23L229.23,828.24L229.37,827.25L229.52,826.26L229.66,825.27L229.81,824.29L229.97,823.30L230.12,822.31L230.28,821.32L230.44,820.34L230.61,819.35L230.78,818.36L230.95,817.38L231.11,816.39L231.28,815.41L231.45,814.42L231.62,813.44L231.79,812.45L231.96,811.46L232.13,810.48L232.30,809.49L232.47,808.51L232.64,807.52L232.81,806.54L232.99,805.55L233.16,804.57L233.33,803.58L233.50,802.60L233.68,801.61L233.85,800.63L234.03,799.64L234.20,798.66L234.38,797.67L234.55,796.69L234.73,795.71L234.90,794.72L235.08,793.74L235.26,792.75L235.43,791.77L235.61,790.78L235.79,789.80L235.97,788.82L236.15,787.83L236.33,786.85L236.51,785.87L236.69,784.88L236.87,783.90L237.05,782.91L237.23,781.93L237.41,780.95L237.59,779.96L237.77,778.98L237.96,778.00L238.14,777.01L238.32,776.03L238.51,775.05L238.69,774.07L238.88,773.08L239.07,772.10L239.25,771.12L239.44,770.14L239.63,769.15L239.81,768.17L240,767.2L240.4,765.2L240.8,763.3L241.1,761.3L241.5,759.3L241.9,757.4L242.3,755.4L242.7,753.5L243.2,751.5L243.6,749.6L244.1,747.6L244.7,745.7L245.3,743.8L246,741.9L246.6,740L247.2,738.1L247.7,736.2L248.3,734.3L248.9,732.4L249.5,730.4L250.1,728.5L250.7,726.6L251.2,724.7L251.8,722.8L252.4,720.9L253,719L253.6,717.1L254.2,715.2L254.9,713.3L255.5,711.4L256.1,709.5L256.7,707.6L257.3,705.7L258,703.8L258.6,701.9L259.2,700L259.9,698.1L260.5,696.2L261.2,694.3L261.8,692.4L262.5,690.5L263.2,688.6L263.9,686.8L264.6,684.9L265.3,683L266.1,681.2L266.8,679.3L267.6,677.5L268.4,675.7L269.3,673.9L270.3,672.1L271.3,670.4L272.3,668.7L273.5,667.1L274.7,665.5L276.1,664L277.4,662.6L278.8,661.1L280.2,659.7L281.6,658.3L283.2,657L284.8,656L286.6,655.6L288.4,655.8L290.2,656.5L291.8,657.6L293.3,658.9L294.8,660.3L296.2,661.7L297.6,663.2L299,664.6L300.3,666.1L301.6,667.6L302.9,669.1L304.2,670.7L305.4,672.3L306.5,673.9L307.7,675.5L308.8,677.2L309.8,678.9L310.8,680.7L311.8,682.4L312.7,684.2L313.7,685.9L314.6,687.7L315.6,689.4L316.5,691.2L317.5,693L318.4,694.7L319.4,696.5L320.4,698.2L321.4,699.9L322.4,701.7L323.4,703.4L324.4,705.1L325.3,706.9L326.3,708.7L327.2,710.4L328.1,712.2L329,714L329.9,715.8L330.8,717.6L331.6,719.4L332.5,721.2L333.4,723L334.2,724.8L335.1,726.6L335.9,728.4L336.8,730.2L337.6,732.1L338.4,733.9L339.3,735.7L340.1,737.5L341,739.3L341.8,741.1L342.6,743L343.4,744.8L344.2,746.6L345,748.5L345.7,750.3L346.5,752.2L347.2,754L347.9,755.9L348.6,757.8L349.2,759.7L349.8,761.6L350.5,763.5L351.1,765.4L351.7,767.3L352.3,769.2L352.9,771.1L353.5,773L354.2,774.9L354.8,776.8L355.5,778.7L356.1,780.6L356.8,782.5L357.5,784.4L358.2,786.2L358.9,788.1L359.6,790L360.3,791.9L361,793.7L361.7,795.6L362.4,797.5L363.1,799.3L363.8,801.2L364.5,803.1L365.2,805L365.9,806.8L366.6,808.7L367.2,810.6L367.9,812.5L368.5,814.4L369.2,816.3L369.9,818.1L370.6,820L371.4,821.9L372.1,823.7L372.9,825.5L373.8,827.4L374.6,829.2L375.5,831L376.4,832.7L377.3,834.5L378.2,836.3L379.2,838.1L380.1,839.8L381.1,841.6L382.1,843.3L383.2,845L384.2,846.7L385.3,848.4L386.5,850L387.7,851.6L389.1,853L390.6,854.3L392.3,855.3L394.1,856.1L396,856.7L397.9,857.2L399.8,857.7L401.8,858.2L403.7,858.6L405.7,859.1L407.6,859.5L409.6,859.9L411.6,860.3L413.5,860.6L415.5,861L417.5,861.3L419.5,861.5L421.4,861.6L423.4,861.5L425.4,861.1L427.2,860.5L429.1,859.8L431,859.1L432.9,858.4L434.8,857.8L436.7,857.2L438.6,856.6L440.6,856.3L442.5,856L444.5,855.9L446.5,855.8L448.5,855.8L450.5,856L452.5,856.3L454.4,856.8L456.2,857.5L458,858.4L459.7,859.4L461.4,860.5L463,861.7L464.7,862.8L466.4,863.8L468.2,864.7L470,865.4L471.9,866L473.9,866.5L475.8,866.8L477.8,867L479.8,867.1L481.8,867L483.8,866.7L485.7,866.3L487.7,865.8L489.6,865.2L491.4,864.5L493.3,863.7L495,862.8L496.8,861.8L498.5,860.7L500.1,859.6L501.8,858.5L503.4,857.3L505.1,856.3L506.8,855.3L508.6,854.5L510.5,853.8L512.4,853.2L514.3,852.6L516.3,852.1L518.2,851.7L520.2,851.4L522.2,851.3L524.2,851.2L526.2,851.3L528.2,851.5L530.1,851.8L532.1,852.2L534.1,852.6L536,852.9L538,853.4L539.9,853.8L541.9,854.3L543.8,854.9L545.7,855.5L547.5,856.3L549.3,857.1L551.2,858L553,858.7L554.9,859.4L556.8,859.8L558.8,860L560.8,860.1L562.8,860.1L564.8,860.1L566.8,860L568.8,859.8L570.8,859.6L572.7,859.4L574.7,859.2L576.7,859.1L578.7,859.1L580.7,859.2L582.7,859.4L584.7,859.6L586.7,859.9L588.7,860.1L590.6,860.4L592.6,860.8L594.6,861.2L596.5,861.6L598.5,862L600.4,862.5L602.3,863.1L604.2,863.7L606.1,864.3L608,865L609.9,865.7L611.8,866.3L613.7,867L615.6,867.7L617.4,868.3L619.3,868.9L621.2,869.6L623.1,870.2L625,870.8L627,871.4L628.9,872L630.8,872.7L632.7,873.3L634.6,873.9L636.5,874.5L638.4,875.2L640.3,875.8L642.1,876.5L644,877.1L645.9,877.8L647.8,878.5L649.7,879.1L651.6,879.8L653.4,880.5L655.3,881.2L657.2,881.9L659.1,882.5L661,883.1L662.9,883.7L664.9,884.1L666.8,884.4L668.8,884.7L670.8,884.9L672.8,885.1L674.8,885.3L676.8,885.6L678.7,886L680.6,886.5L682.5,887.1L684.4,887.8L686.3,888.5L688.2,889.2L690,889.9L691.9,890.5L693.8,891.1L695.8,891.7L697.7,892.2L699.6,892.6L701.6,893.1L703.6,893.4L705.5,893.7L707.5,893.9L709.5,894L711.5,894L713.4,894.3L715.3,894.8L717.2,895.4L719.2,895.8L721.1,896L723.1,896.2L725.1,896.4L727.1,896.6L729.1,897L731,897.4L732.9,898L734.9,898.5L736.8,899.1L738.6,899.8L740.5,900.6L742.3,901.5L744,902.5L745.7,903.5L747.4,904.6L749,905.7L750.7,906.8L752.4,907.9L754.1,908.9L755.9,909.9L757.6,910.9L759.4,911.9L761.1,912.8L762.9,913.7L764.7,914.5L766.6,915.3L768.4,916.1L770.3,916.8L772.1,917.5L774,918.3L775.8,919.1L777.7,919.9L779.5,920.7L781.3,921.5L783.1,922.3L785,923L786.9,923.4L788.9,923.5L790.8,923.3L792.7,922.7L794.6,922.1L796.5,921.3L798.3,920.6L800.1,919.7L801.9,918.9L803.7,918L805.5,917L807.2,916.1L809,915.2L810.8,914.3L812.6,913.4L814.4,912.5L816.2,911.7L818.1,911L819.9,910.2L821.8,909.6L823.8,909.1L825.7,908.7L827.7,908.5L829.7,908.3L831.7,908.2L833.7,908.1L835.7,907.9L837.7,907.7L839.7,907.5L841.7,907.3L843.6,907.1L845.6,906.9L847.6,906.6L849.6,906.3L851.6,906L853.5,905.7L855.5,905.4L857.5,905.1L859.5,904.8L861.4,904.5L863.4,904.2L865.4,903.9L867.4,903.6L869.4,903.3L871.3,903.1L873.3,902.9L875.3,902.7L877.3,902.5L879.3,902.4L881.3,902.3L883.3,902.3L885.3,902.3L887.3,902.3L889.3,902.4L891.3,902.4L893.3,902.4L895.3,902.4L897.3,902.7L899.2,903.2L900.9,904L902.6,905.1L904.3,906.2L905.9,907.4L907.5,908.6L909.1,909.8L910.7,910.9L912.4,912L914.1,913.1L915.7,914.3L917.4,915.3L919.1,916.4L920.8,917.5L922.5,918.5L924.2,919.5L925.9,920.5L927.7,921.6L929.4,922.5L931.2,923.5L932.9,924.5L934.7,925.4L936.4,926.4L938.2,927.4L939.9,928.4L941.6,929.4L943.3,930.5L944.9,931.6L946.6,932.7L948.3,933.9L949.9,935L951.6,936.1L953.3,937.1L955,938.2L956.7,939.2L958.4,940.2L960.2,941.2L961.9,942.2L963.7,943.1L965.5,943.8L967.4,944.4L969.4,944.6L971.3,944.4L973.2,943.9L975.1,943.2L976.9,942.4L978.7,941.5L980.4,940.6L982.2,939.6L983.9,938.5L985.5,937.4L987.2,936.3L988.8,935.1L990.4,933.9L992,932.6L993.5,931.4L995.1,930.1L996.6,928.8L998.2,927.6L999.8,926.4L1001.4,925.2L1003,924L1004.6,922.9L1006.3,921.8L1008,920.8L1009.8,920L1011.8,919.5L1013.7,919.3L1015.7,919.3L1017.7,919.3L1019.7,919.2L1021.6,918.9L1023.6,918.4L1025.4,917.7L1027.3,916.9L1029.1,916.2L1031,915.4L1032.8,914.6L1034.7,913.9L1036.5,913.1L1038.4,912.4L1040.2,911.6L1042.1,910.8L1043.9,910L1045.7,909.1L1047.5,908.2L1049.2,907.3L1051,906.3L1052.8,905.5L1054.7,904.7L1056.5,904.1L1058.5,903.6L1060.4,903.2L1062.4,902.8L1064.4,902.6L1066.4,902.4L1068.4,902.4L1070.4,902.4L1072.4,902.5L1074.3,902.7L1076.3,902.9L1078.3,903.2L1080.3,903.6L1082.2,904L1084.2,904.5L1086.1,905.1L1087.9,905.8L1089.7,906.6L1091.4,907.7L1092.9,908.9L1094.5,910.2L1096,911.5L1097.5,912.8L1099.1,914.1L1100.6,915.4L1102.1,916.6L1103.7,917.9L1105.2,919.2L1106.8,920.4L1108.5,921.5L1110.2,922.4L1112.1,923.1L1114,923.7L1116,924L1117.9,924.3L1119.9,924.5L1121.9,924.8L1123.9,925L1125.9,925.1L1127.9,925.3L1129.9,925.5L1131.9,925.8L1133.8,926.2L1135.8,926.6L1137.7,927.1L1139.6,927.7L1141.5,928.4L1143.3,929.1L1145.2,929.9L1147,930.8L1148.7,931.8L1150.5,932.7L1152.3,933.6L1154.1,934.4L1156,935.1L1157.9,935.7L1159.8,936.2L1161.8,936.6L1163.7,936.8L1165.7,936.7L1167.7,936.5L1169.6,936L1171.5,935.4L1173.4,934.7L1175.3,934.1L1177.2,933.6L1179.2,933.3L1181.2,933L1183.2,932.8L1185.2,932.7L1187.1,932.5L1189.1,932.4L1191.1,932.4L1193.1,932.3L1195.1,932.3L1197.1,932.4L1199.1,932.6L1201.1,932.9L1203,933.4L1204.9,934L1206.9,934.5L1208.8,934.9L1210.8,935.3L1212.8,935.4L1214.8,935.5L1216.8,935.5L1218.8,935.4L1220.8,935.3L1222.8,935.2L1224.7,935.1L1226.7,935L1228.7,934.9L1230.7,934.8L1232.7,934.8L1234.7,935L1236.7,935.2L1238.7,935.5L1240.7,935.5L1242.6,935.3L1244.5,934.9L1246.4,934.2L1248.3,933.5L1250.1,932.7L1251.9,931.9L1253.7,931L1255.5,930.1L1257.3,929.2L1259.1,928.3L1260.9,927.4L1262.6,926.5L1264.4,925.5L1266.2,924.6L1268,923.7L1269.7,922.8L1271.5,921.9L1273.3,921L1275.1,920.1L1277,919.4L1278.9,918.7L1280.8,918.1L1282.7,917.5L1284.6,917L1286.5,916.4L1288.5,915.9L1290.4,915.3L1292.3,914.7L1294.2,914L1296.1,913.4L1298,912.9L1299.9,912.4L1301.9,912L1303.9,911.7L1305.8,911.5L1307.8,911.3L1309.8,911.2L1311.8,911L1313.8,910.7L1315.8,910.5L1317.8,910.1L1319.7,909.8L1321.7,909.4L1323.6,908.9L1325.5,908.3L1327.4,907.7L1329.2,906.8L1331,905.9L1332.6,904.8L1334.2,903.5L1335.6,902.2L1337,900.7L1338.3,899.2L1339.5,897.6L1340.8,896.1L1342.2,894.6L1343.6,893.2L1345.1,891.9L1346.6,890.6L1348.2,889.4L1349.8,888.2L1351.4,887L1353,885.8L1353.8,885.2" stroke="#FF1493"/>
</g>
<text transform="translate(149.50,1035.5) scale(1,1.03)" text-anchor="middle" font-size="60" fill="#262626">0</text>
<text transform="translate(390.40,1035.5) scale(1,1.03)" text-anchor="middle" font-size="60" fill="#262626">2000</text>
<text transform="translate(631.30,1035.5) scale(1,1.03)" text-anchor="middle" font-size="60" fill="#262626">4000</text>
<text transform="translate(872.20,1035.5) scale(1,1.03)" text-anchor="middle" font-size="60" fill="#262626">6000</text>
<text transform="translate(1113.10,1035.5) scale(1,1.03)" text-anchor="middle" font-size="60" fill="#262626">8000</text>
<text transform="translate(1354.00,1035.5) scale(1,1.03)" text-anchor="middle" font-size="60" fill="#262626">10000</text>
<text transform="translate(128,67.8) scale(1,1.02)" text-anchor="end" font-size="60" fill="#262626">5</text>
<text transform="translate(129,981.3) scale(1,1.035)" text-anchor="end" font-size="60" fill="#262626">0</text>
<text x="749" y="1113.8" text-anchor="middle" font-size="66" fill="#262626" textLength="219.8" lengthAdjust="spacingAndGlyphs">Time (s)</text>
<text transform="translate(74.3,509.6) rotate(-90)" text-anchor="middle" font-size="66" fill="#262626" textLength="385.4" lengthAdjust="spacingAndGlyphs">OSPA error (°)</text>
<rect x="963" y="74.6" width="319" height="447.1" fill="#fff" stroke="#262626" stroke-width="2"/>
<line x1="974" y1="110.6" x2="1085" y2="110.6" stroke="#0072BD" stroke-width="7.5"/>
<text x="1093" y="129.8" font-size="54" fill="#000" textLength="149.4" lengthAdjust="spacingAndGlyphs">b=0.94</text>
<line x1="974" y1="173.1" x2="1085" y2="173.1" stroke="#00FFFF" stroke-width="7.5"/>
<text x="1093" y="192.3" font-size="54" fill="#000" textLength="149.4" lengthAdjust="spacingAndGlyphs">b=0.95</text>
<line x1="974" y1="235.6" x2="1085" y2="235.6" stroke="#FF0000" stroke-width="7.5"/>
<text x="1093" y="254.8" font-size="54" fill="#000" textLength="149.4" lengthAdjust="spacingAndGlyphs">b=0.96</text>
<line x1="974" y1="298.1" x2="1085" y2="298.1" stroke="#7E2F8E" stroke-width="7.5"/>
<text x="1093" y="317.3" font-size="54" fill="#000" textLength="149.4" lengthAdjust="spacingAndGlyphs">b=0.97</text>
<line x1="974" y1="360.6" x2="1085" y2="360.6" stroke="#EDB120" stroke-width="7.5"/>
<text x="1093" y="379.8" font-size="54" fill="#000" textLength="149.4" lengthAdjust="spacingAndGlyphs">b=0.98</text>
<line x1="974" y1="423.1" x2="1085" y2="423.1" stroke="#77AC30" stroke-width="7.5"/>
<text x="1093" y="442.3" font-size="54" fill="#000" textLength="149.4" lengthAdjust="spacingAndGlyphs">b=0.99</text>
<line x1="974" y1="485.6" x2="1085" y2="485.6" stroke="#FF1493" stroke-width="7.5"/>
<text x="1093" y="504.8" font-size="54" fill="#000" textLength="175.9" lengthAdjust="spacingAndGlyphs">b=0.999</text>
</svg>
</body></html>
